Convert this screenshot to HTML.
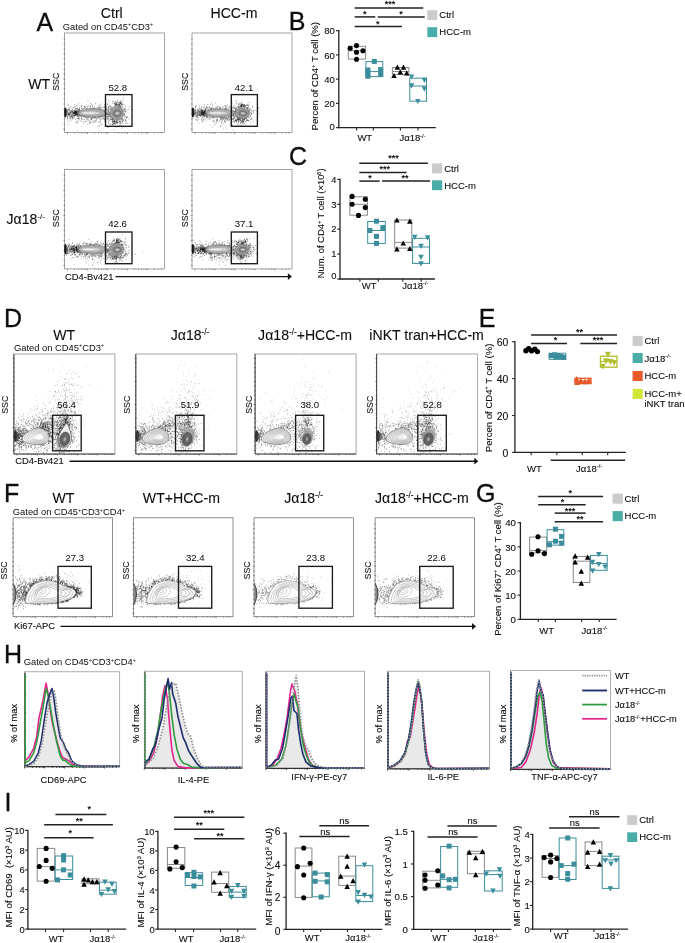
<!DOCTYPE html><html><head><meta charset="utf-8"><title>Figure</title><style>html,body{margin:0;padding:0;background:#fff}svg{display:block}text{font-family:'Liberation Sans', Arial, sans-serif;fill:#0d0d0d;stroke:#0d0d0d;stroke-width:.1px}</style></head><body>
<svg width="685" height="943" viewBox="0 0 685 943">
<rect width="685" height="943" fill="#fff"/>
<text x="36.5" y="30.65" font-size="25" text-anchor="start" style="stroke-width:.3px">A</text>
<text x="111.8" y="17.93" font-size="14.1" text-anchor="middle">Ctrl</text>
<text x="234" y="17.93" font-size="14.1" text-anchor="middle">HCC-m</text>
<text x="62.8" y="29.69" font-size="9.4" text-anchor="start" style="stroke-width:0">Gated on CD45<tspan font-size="5.45" dy="-3.38">+</tspan><tspan dy="3.38">CD3</tspan><tspan font-size="5.45" dy="-3.38">+</tspan></text>
<text x="28.2" y="89.1" font-size="14" text-anchor="start">WT</text>
<text x="6.6" y="223.9" font-size="14" text-anchor="start">Jα18<tspan font-size="8.12" dy="-5.04">-/-</tspan></text>
<rect x="64.5" y="33" width="100" height="99.5" stroke="#8e8e8e" stroke-width="0.8" fill="#fff"/>
<path d="M67.5 132.5v1.5M74.5 132.5v1M78.5 132.5v1M81.5 132.5v1M83.9 132.5v1M85.9 132.5v1M87.5 132.5v1.5M94.5 132.5v1M98.5 132.5v1M101.5 132.5v1M103.9 132.5v1M105.9 132.5v1M107.5 132.5v1.5M114.5 132.5v1M118.5 132.5v1M121.5 132.5v1M123.9 132.5v1M125.9 132.5v1M127.5 132.5v1.5M134.5 132.5v1M138.5 132.5v1M141.5 132.5v1M143.9 132.5v1M145.9 132.5v1M147.5 132.5v1.5M154.5 132.5v1M158.5 132.5v1M161.5 132.5v1M63.2 129h2M63.6 124h1.5M63.6 119h1.5M63.6 114h1.5M63.6 109h1.5M63.2 104h2M63.6 99h1.5M63.6 94h1.5M63.6 89h1.5M63.6 84h1.5M63.2 79h2M63.6 74h1.5M63.6 69h1.5M63.6 64h1.5M63.6 59h1.5M63.2 54h2M63.6 49h1.5M63.6 44h1.5M63.6 39h1.5" stroke="#555" stroke-width="0.6" fill="none"/>
<path transform="translate(64.5,33) scale(.1)" d="M247 821h7M251 792h7M159 795h7M425 818h7M415 812h7M331 810h7M63 834h7M346 821h7M60 740h7M164 786h7M320 801h7M348 780h7M320 817h7M194 865h7M352 846h7M199 776h7M235 799h7M362 812h7M222 769h7M212 847h7M175 812h7M335 749h7M286 850h7M18 791h7M266 774h7M345 801h7M90 833h7M367 837h7M467 816h7M296 756h7M360 781h7M221 757h7M154 784h7M448 730h7M90 812h7M468 824h7M33 712h7M326 776h7M134 838h7M423 809h7M312 819h7M487 825h7M347 823h7M76 849h7M404 822h7M23 780h7M389 738h7M256 840h7M110 861h7M352 798h7M322 826h7M296 844h7M194 788h7M415 804h7M166 837h7M471 787h7M101 798h7M261 792h7M463 766h7M444 757h7M178 826h7M427 834h7M325 808h7M300 824h7M257 813h7M354 803h7M379 823h7M541 815h7M224 790h7M278 836h7M236 817h7M519 711h7M134 812h7M332 812h7M224 827h7M317 784h7M596 816h7M208 799h7M251 801h7M411 761h7M271 837h7M391 857h7M59 790h7M236 825h7M422 706h7M422 751h7M369 749h7M303 846h7M261 810h7M384 808h7M268 858h7M416 792h7M637 762h7M399 793h7M297 828h7M309 826h7M81 749h7M360 768h7M147 750h7M445 830h7M471 769h7M280 762h7M380 860h7M164 859h7M408 797h7M24 854h7M267 781h7M332 818h7M475 766h7M428 857h7M469 796h7M183 840h7M295 807h7M465 794h7M39 832h7M321 781h7M279 833h7M290 851h7M272 840h7M474 861h7M193 835h7M36 764h7M25 841h7M120 803h7M255 802h7M203 811h7M513 805h7M349 839h7M254 758h7M208 842h7M66 781h7M411 832h7M281 832h7M302 761h7M77 780h7M400 783h7M163 775h7M81 799h7M127 816h7M197 733h7M374 793h7M318 786h7M381 830h7M367 815h7M453 827h7M339 728h7M397 850h7M241 786h7M532 740h7M341 890h7M159 828h7M525 799h7M353 835h7M162 800h7M318 833h7M276 796h7M148 790h7M396 807h7M169 773h7M627 844h7M363 710h7M361 820h7M499 818h7M271 822h7M27 840h7M322 778h7M452 868h7M98 779h7M318 810h7M228 768h7M556 840h7M125 755h7M501 839h7M517 832h7M167 812h7M272 822h7M185 799h7M340 817h7M363 811h7M238 831h7M286 773h7M199 803h7M266 809h7M280 809h7M263 758h7M335 841h7M337 796h7M338 768h7M34 805h7M159 830h7M139 708h7M145 860h7M230 754h7M181 822h7M345 809h7M473 828h7M277 824h7M495 838h7M413 764h7M261 829h7M241 841h7M358 836h7M252 895h7M441 795h7M292 896h7M235 834h7M407 803h7M128 810h7M327 844h7M382 804h7M391 822h7M307 805h7M248 828h7M143 780h7M281 750h7M223 731h7M191 823h7M354 801h7M250 752h7M518 822h7M422 771h7M256 737h7M381 837h7M33 801h7M362 740h7M43 765h7M198 752h7M284 812h7M362 828h7M475 845h7M109 785h7M142 764h7M269 803h7M344 746h7M119 802h7M254 792h7M272 776h7M371 816h7M269 779h7M257 705h7M152 804h7M84 810h7M299 753h7M247 792h7M340 825h7M275 772h7M261 801h7M375 814h7M186 754h7M231 776h7M135 799h7M216 807h7M348 788h7M582 791h7M423 807h7M425 717h7M182 812h7M358 887h7M322 849h7M380 837h7M346 797h7M346 764h7M434 766h7M312 879h7M251 804h7M431 804h7M175 812h7M356 829h7M180 866h7M497 804h7M315 788h7M464 778h7M368 786h7M190 829h7M453 803h7M192 832h7M274 814h7M478 844h7M212 885h7M280 831h7M196 801h7M53 867h7M458 759h7M84 745h7M433 786h7M272 792h7M264 764h7M283 751h7M271 814h7M341 795h7M163 809h7M217 859h7M380 799h7M219 778h7M158 790h7M318 822h7M354 879h7M188 803h7M643 736h7M212 809h7M300 818h7M249 816h7M287 831h7M34 771h7M280 766h7M144 826h7M196 826h7M377 814h7M346 799h7M97 802h7M339 784h7M267 830h7M166 826h7M522 783h7M299 798h7M480 814h7M397 778h7M278 803h7M49 855h7M397 740h7M377 798h7M338 816h7M85 795h7M474 782h7M147 754h7M121 815h7M500 818h7M312 883h7M212 779h7M349 823h7M148 761h7M318 812h7M110 796h7M209 820h7M265 800h7M234 841h7M461 790h7M390 776h7M289 830h7M477 789h7M270 810h7M85 804h7M192 816h7M133 732h7M285 812h7M209 835h7M244 781h7M342 747h7M192 802h7M390 797h7M320 779h7M319 863h7M191 888h7M196 804h7M303 840h7M119 727h7M359 832h7M361 898h7M307 812h7M401 816h7M496 758h7M231 679h7M386 790h7M400 881h7M279 794h7M215 773h7M198 826h7M285 805h7M257 836h7M344 798h7M366 798h7M130 855h7M340 769h7M420 815h7M77 861h7M323 835h7M306 798h7M79 838h7M284 793h7M326 806h7M368 790h7M275 726h7M225 827h7M454 790h7M264 860h7M238 829h7M498 804h7M439 777h7M307 800h7M295 844h7M591 779h7M205 821h7M143 821h7M354 793h7M349 747h7M379 747h7M189 783h7M228 834h7M291 789h7M351 860h7M281 816h7M441 813h7M113 893h7M567 732h7M275 818h7M406 827h7M245 765h7M293 840h7M138 766h7M277 733h7M246 787h7M339 778h7M165 789h7M274 779h7M282 830h7M434 864h7M178 788h7M186 802h7M348 754h7M340 802h7M43 814h7M435 736h7M385 811h7M342 819h7M450 795h7M394 788h7M375 774h7M266 865h7M338 797h7M131 775h7M305 837h7M335 822h7M275 852h7M229 783h7M395 805h7M244 782h7M247 825h7M326 759h7M335 809h7M150 831h7M244 791h7M383 851h7M190 819h7M166 886h7M216 846h7M196 832h7M568 712h7M224 821h7M268 779h7M560 806h7M66 834h7M56 844h7M205 808h7M444 807h7M99 742h7M434 830h7M174 834h7M345 826h7M397 829h7M395 715h7M302 821h7M612 769h7M237 804h7M395 787h7M429 775h7M315 784h7M301 778h7M72 842h7M319 783h7M306 839h7M153 799h7M350 822h7M236 727h7M442 815h7M282 793h7M314 788h7M147 776h7M202 781h7M129 826h7M110 827h7M148 816h7M459 810h7M185 805h7M299 741h7M201 809h7M219 806h7M375 831h7M398 824h7M243 802h7M245 792h7M257 741h7M237 802h7M153 802h7M347 797h7M550 709h7M253 737h7M407 899h7M347 792h7M352 722h7M391 816h7M283 782h7M363 786h7M309 785h7M306 830h7M166 802h7M360 808h7M442 875h7M162 734h7M391 858h7M400 832h7M200 777h7M395 770h7M44 767h7M604 872h7M191 777h7M310 776h7M450 800h7M139 850h7M204 811h7M278 792h7M322 778h7M40 724h7M115 776h7M277 805h7M352 807h7M177 777h7M343 822h7M264 797h7M402 804h7M376 824h7M308 850h7M206 790h7M175 774h7M482 866h7M283 823h7M433 832h7M437 758h7M197 819h7M467 807h7M168 790h7M194 772h7M475 780h7M283 881h7M434 815h7M200 818h7M491 825h7M444 807h7M347 796h7M335 850h7M94 801h7M311 782h7M240 831h7M540 826h7M322 747h7M531 806h7M276 763h7M273 764h7M289 820h7M284 813h7M169 854h7M195 738h7M256 776h7M149 790h7M318 760h7M262 854h7M369 798h7M297 799h7M274 829h7M268 716h7M277 771h7M365 781h7M299 881h7M144 763h7M97 717h7M36 816h7M197 736h7M87 825h7M179 790h7M323 852h7M532 840h7M299 810h7M514 854h7M240 819h7M317 805h7M215 755h7M211 747h7M439 822h7M123 853h7M396 734h7M519 832h7M548 759h7M349 818h7M306 809h7M417 749h7M119 753h7M208 781h7M328 813h7M284 779h7M223 837h7M379 807h7M238 859h7M203 826h7M430 793h7M387 763h7M412 810h7M74 827h7M164 849h7M192 797h7M317 791h7M314 783h7M367 803h7M307 704h7M431 804h7M48 806h7M341 842h7M139 859h7M259 889h7M261 827h7M232 763h7M423 836h7M480 834h7M205 743h7M195 779h7M174 824h7M323 793h7M302 798h7M308 830h7M405 778h7M84 854h7M295 843h7M66 791h7M284 751h7M213 829h7M420 860h7M168 753h7M348 837h7M305 756h7M382 832h7M352 785h7M320 831h7" stroke="#1a1a1a" stroke-opacity="0.75" stroke-width="7" fill="none"/>
<path transform="translate(64.5,33) scale(.1)" d="M227 739h7M343 866h7M302 889h7M224 835h7M260 871h7M507 826h7M567 924h7M403 872h7M530 830h7M285 782h7M361 914h7M369 863h7M274 849h7M115 898h7M247 779h7M202 795h7M411 898h7M123 891h7M415 808h7M107 799h7M218 859h7M254 728h7M330 756h7M418 774h7M210 793h7M229 911h7M411 873h7M342 755h7M232 810h7M173 868h7M204 801h7M164 727h7M377 913h7M323 786h7M458 856h7M421 921h7M446 816h7M437 883h7M100 818h7M115 834h7M375 781h7M33 911h7M349 921h7M128 898h7M570 950h7M273 855h7M280 895h7M435 845h7M123 881h7M239 875h7M334 929h7M448 815h7M345 937h7M230 864h7M455 909h7M367 767h7M136 854h7M350 980h7M188 903h7M400 748h7M194 849h7M236 832h7M361 795h7M361 805h7M229 870h7M225 856h7M508 841h7M281 880h7M252 900h7M133 874h7M233 796h7M530 793h7M528 876h7M489 786h7M456 920h7M285 833h7M619 850h7M245 805h7M358 858h7M323 935h7M257 866h7M490 785h7M435 941h7M124 780h7M165 738h7M359 738h7M365 920h7M90 823h7M51 883h7M204 825h7M307 870h7M255 841h7M229 846h7M148 843h7M49 813h7M549 844h7M136 854h7M174 749h7M204 881h7M350 835h7M180 781h7M475 853h7M176 724h7M122 976h7M151 836h7M327 831h7M264 764h7M163 933h7M202 887h7M80 825h7M334 897h7M154 873h7M350 799h7M362 791h7M197 839h7M170 760h7M245 882h7M247 910h7M149 768h7M502 862h7M423 795h7M405 854h7M384 841h7M457 804h7M175 759h7M451 799h7M164 788h7M242 770h7M262 806h7M228 787h7M305 815h7M315 854h7M344 720h7M230 796h7M401 753h7M207 824h7M256 895h7M242 893h7M109 740h7M459 864h7M363 847h7M363 773h7M423 811h7M428 845h7M43 769h7M447 832h7M249 853h7M245 810h7" stroke="#1a1a1a" stroke-opacity="0.55" stroke-width="7" fill="none"/>
<path transform="translate(64.5,33) scale(.1)" d="M527 811h7M595 806h7M613 904h7M605 862h7M529 811h7M516 762h7M519 767h7M601 833h7M501 696h7M520 780h7M470 739h7M414 835h7M519 948h7M521 795h7M592 811h7M531 782h7M493 887h7M571 899h7M506 805h7M480 857h7M456 835h7M575 882h7M477 864h7M488 761h7M459 868h7M602 770h7M486 784h7M643 859h7M496 703h7M490 869h7M612 788h7M489 774h7M432 854h7M470 863h7M441 732h7M536 760h7M560 803h7M466 838h7M563 696h7M610 831h7M559 699h7M488 783h7M574 721h7M480 689h7M511 822h7M442 770h7M547 892h7M554 786h7M466 751h7M491 811h7M520 896h7M536 743h7M597 856h7M527 763h7M433 746h7M566 758h7M459 814h7M534 837h7M554 882h7M482 858h7M475 842h7M531 817h7M569 802h7M576 852h7M529 771h7M486 773h7M513 802h7M666 839h7M559 755h7M488 785h7M532 745h7M600 771h7M574 672h7M522 819h7M532 837h7M536 812h7M432 763h7M410 838h7M537 792h7M483 770h7M611 900h7M520 875h7M446 695h7M499 754h7M496 814h7M668 766h7M525 818h7M521 855h7M608 733h7M530 788h7M540 717h7M438 673h7M548 814h7M526 670h7M505 761h7M455 752h7M556 833h7M521 832h7M494 807h7M524 834h7M519 795h7M516 767h7M630 832h7M543 931h7M590 716h7M556 850h7M613 877h7M559 737h7M481 818h7M547 746h7M504 781h7M525 822h7M509 734h7M582 892h7M517 860h7M544 840h7M546 760h7M550 860h7M479 913h7M623 905h7M618 845h7M506 769h7M483 809h7M521 841h7M426 932h7M632 801h7M555 830h7M536 791h7M517 757h7M531 802h7M538 755h7M524 806h7M552 743h7M543 858h7M551 782h7M499 790h7M558 890h7M515 767h7M541 814h7M479 762h7M518 841h7M465 746h7M546 734h7M528 823h7M517 746h7M520 784h7M539 756h7M575 709h7M514 803h7M569 769h7M549 771h7M558 900h7M503 828h7M478 857h7M581 805h7M468 826h7M578 864h7M562 700h7M490 883h7M464 866h7M613 846h7M576 784h7M464 797h7M513 800h7M556 795h7M532 827h7M522 906h7M544 808h7M513 768h7M587 811h7M471 772h7M516 778h7M575 738h7M546 811h7M466 806h7M518 831h7M501 820h7M443 742h7M560 861h7M522 769h7M574 686h7M484 841h7M554 745h7M432 884h7M530 753h7M525 853h7M398 865h7M558 686h7M560 703h7M577 825h7M631 769h7M523 862h7M492 764h7M505 799h7M471 830h7M549 807h7M604 785h7M585 772h7M559 695h7M532 793h7M499 769h7M506 763h7M417 770h7M496 774h7M472 795h7M560 789h7M499 879h7M569 855h7M578 785h7M516 865h7M496 796h7M541 824h7M509 858h7M514 844h7M574 840h7M558 738h7M460 768h7M545 887h7M464 820h7M482 762h7M509 842h7M533 869h7M475 853h7M567 807h7M545 771h7M470 780h7M492 965h7M499 895h7M532 820h7M558 759h7M566 824h7M450 837h7M549 828h7M599 780h7M547 845h7M479 870h7M453 730h7M548 742h7M517 711h7M526 740h7M539 717h7M544 788h7M526 799h7M529 729h7M399 805h7M478 778h7M543 692h7M486 769h7M472 821h7M516 757h7M475 848h7M491 836h7M544 697h7M470 803h7M539 847h7M561 861h7M505 791h7M560 779h7M573 714h7M554 793h7M428 858h7M537 804h7M471 777h7M595 757h7M356 755h7M465 796h7M504 752h7M482 862h7M453 913h7M496 742h7M560 835h7M472 845h7M434 751h7M577 789h7M460 832h7M567 802h7M436 784h7M543 846h7M611 789h7M499 801h7M580 750h7M585 649h7M561 765h7M545 842h7M466 798h7M534 836h7M478 747h7M430 945h7M513 791h7M451 855h7M497 883h7M563 804h7M557 741h7M507 771h7M462 804h7M516 883h7M362 765h7M478 777h7M543 826h7M524 776h7M546 823h7M434 788h7M457 737h7M530 806h7M528 754h7M513 752h7M541 842h7M607 874h7M484 777h7M477 820h7M618 843h7M417 733h7M460 832h7M523 820h7M608 757h7M482 913h7M539 759h7M425 718h7M405 807h7M525 859h7M516 764h7M487 909h7M438 813h7M524 838h7M503 831h7M562 795h7M501 793h7M476 791h7M508 815h7M587 876h7M501 837h7M537 846h7M524 818h7M500 759h7M564 876h7M554 827h7M535 778h7M437 840h7M532 772h7M476 875h7M436 902h7M553 936h7M488 802h7M498 812h7M512 761h7M574 759h7M498 834h7M497 779h7M540 782h7M463 797h7M512 898h7M470 857h7M485 783h7M507 818h7M564 901h7M492 877h7M570 849h7M486 853h7M517 823h7M510 840h7M576 866h7M513 859h7M592 751h7M593 728h7M549 836h7M594 819h7M499 758h7M462 846h7M511 763h7M548 760h7M502 777h7M602 885h7M515 715h7M536 807h7M539 835h7M507 855h7M563 815h7M503 776h7M556 741h7M515 761h7M456 837h7M521 805h7M564 719h7M519 819h7M562 742h7M557 815h7M588 867h7M549 923h7M522 779h7M506 750h7M521 698h7M518 827h7M570 784h7M589 767h7M516 698h7M486 759h7M593 832h7M471 832h7M545 790h7M524 786h7" stroke="#1a1a1a" stroke-opacity="0.7" stroke-width="7" fill="none"/>
<path transform="translate(64.5,33) scale(.1)" d="M509 684h7M520 729h7M559 706h7M504 707h7M545 715h7M508 715h7M517 718h7M512 688h7M524 721h7M494 708h7M545 705h7M506 740h7M544 725h7M499 734h7M481 702h7M541 729h7M499 700h7M527 682h7M539 718h7M511 718h7M542 715h7M536 732h7M510 712h7M509 725h7M512 717h7M526 711h7M566 709h7M558 722h7M556 708h7M546 721h7M507 714h7M519 709h7M555 700h7M480 685h7M511 701h7M523 718h7M567 714h7M534 699h7M537 730h7M556 682h7M545 733h7M543 688h7M515 718h7M533 698h7M500 724h7" stroke="#1a1a1a" stroke-opacity="0.8" stroke-width="7" fill="none"/>
<path transform="translate(64.5,33) scale(.1)" d="M474 911h7M513 894h7M474 881h7M532 869h7M572 870h7M477 891h7M526 901h7M502 887h7M506 882h7M438 904h7M520 892h7M494 894h7M512 889h7M544 865h7M520 875h7M503 912h7M481 889h7M495 904h7M484 866h7M527 885h7M503 906h7M487 885h7M517 896h7M498 905h7M577 884h7M566 860h7M553 885h7M516 885h7M494 872h7M501 909h7M545 885h7M497 880h7M478 916h7M532 892h7M498 875h7M550 901h7M485 904h7M481 899h7M485 884h7M527 896h7M542 878h7M558 909h7M512 897h7M490 888h7M474 891h7" stroke="#1a1a1a" stroke-opacity="0.8" stroke-width="7" fill="none"/>
<path transform="translate(64.5,33) scale(.1)" d="M120 822h7M137 813h7M107 796h7M107 804h7M71 813h7M79 792h7M116 792h7M153 798h7M151 819h7M104 807h7M145 795h7M117 791h7M116 794h7M117 816h7M147 802h7M120 814h7M108 783h7M141 785h7M136 784h7M157 783h7M135 824h7M93 824h7M96 771h7M132 811h7M110 759h7M114 795h7M106 795h7M74 791h7M156 825h7M107 788h7M124 817h7M132 781h7M119 802h7M148 820h7M127 820h7M106 825h7M105 806h7M136 785h7M99 771h7M119 799h7M107 808h7M66 800h7M117 796h7M133 829h7M105 785h7M101 802h7M129 786h7M138 783h7M134 807h7M126 835h7M109 797h7M126 814h7M84 804h7M98 810h7M147 801h7M113 803h7M47 813h7M128 803h7M106 788h7M111 820h7M113 822h7M56 792h7M121 800h7M77 789h7M144 779h7M92 782h7M102 810h7M129 767h7M149 790h7M101 827h7M113 780h7M100 788h7M92 795h7M135 806h7M83 845h7M92 802h7M116 812h7M107 807h7M164 802h7M90 805h7M97 794h7M119 805h7M108 814h7M111 779h7M135 794h7M143 789h7M128 805h7M53 776h7M89 823h7M71 815h7M140 808h7M131 792h7M115 804h7M125 812h7M110 789h7M102 807h7M77 780h7M106 791h7M109 757h7M107 796h7M133 768h7M108 808h7M126 820h7M139 783h7M130 795h7M96 825h7M100 786h7M106 786h7M138 806h7M147 807h7M101 817h7M100 792h7M111 801h7M143 790h7M123 800h7M86 782h7M110 807h7M122 808h7M116 793h7M125 784h7M84 795h7M82 792h7M98 791h7M114 787h7M105 772h7M118 786h7M124 754h7M96 804h7M59 794h7M117 802h7M80 804h7M118 784h7M132 799h7M115 793h7M128 802h7M141 807h7M101 796h7M136 794h7M124 809h7M111 762h7M118 804h7M118 788h7M143 798h7M101 788h7M123 782h7M92 833h7M145 817h7M147 810h7M76 820h7M144 808h7" stroke="#1a1a1a" stroke-opacity="0.8" stroke-width="7" fill="none"/>
<path transform="translate(64.5,33) scale(.1)" d="M8 834h7M79 787h7M53 821h7M48 830h7M52 819h7M52 760h7M29 886h7M56 836h7M74 847h7M62 784h7M50 748h7M46 825h7M68 836h7M30 782h7M10 772h7M61 856h7M26 837h7M59 787h7M97 731h7M49 806h7M96 849h7M98 804h7M71 837h7M61 810h7M46 789h7M24 853h7M40 743h7M56 799h7M54 849h7M48 793h7M34 799h7M41 806h7M117 811h7M32 853h7M68 822h7M65 822h7M64 838h7M72 837h7M39 800h7M34 826h7M68 787h7M63 872h7M76 770h7M48 817h7M49 811h7M75 809h7M26 819h7M48 803h7M38 762h7M23 790h7M27 726h7M75 768h7M34 814h7M34 818h7M40 808h7M52 800h7M11 760h7M49 838h7M38 815h7M53 813h7M71 759h7M56 795h7M43 777h7M33 772h7M26 868h7M86 800h7M66 773h7" stroke="#1a1a1a" stroke-opacity="0.6" stroke-width="7" fill="none"/>
<ellipse cx="92" cy="113" rx="15" ry="5" fill="#8f8f8f" stroke="none" stroke-width="0.5" opacity="0.6"/>
<ellipse cx="92" cy="113" rx="13.2" ry="3.6" fill="#b4b4b4" stroke="#888" stroke-width="0.35" opacity="0.9"/>
<ellipse cx="90.5" cy="113" rx="9.5" ry="1.5" fill="#dcdcdc" stroke="none" stroke-width="0.5" opacity="0.9"/>
<ellipse cx="88.5" cy="113" rx="6" ry="0.6" fill="#f2f2f2" stroke="none" stroke-width="0.5" opacity="0.9"/>
<ellipse cx="65.4" cy="112.5" rx="1.2" ry="5" fill="#111" stroke="none" stroke-width="0.5" opacity="1"/>
<ellipse cx="66.5" cy="112.5" rx="1.4" ry="3.4" fill="#333" stroke="none" stroke-width="0.5" opacity="0.5"/>
<ellipse cx="116.75" cy="113.2" rx="7.8" ry="7.4" fill="#9b9b9b" stroke="none" stroke-width="0.5" opacity="0.6"/>
<ellipse cx="116.75" cy="113.2" rx="6.5" ry="6" fill="#b3b3b3" stroke="#6e6e6e" stroke-width="0.5" opacity="1"/>
<ellipse cx="116.95" cy="113.2" rx="5.1" ry="4.5" fill="#a4a4a4" stroke="#6a6a6a" stroke-width="0.5" opacity="1"/>
<ellipse cx="117.15" cy="113.2" rx="3.8" ry="3.1" fill="#858585" stroke="#555" stroke-width="0.5" opacity="1"/>
<ellipse cx="117.35" cy="113.3" rx="2.3" ry="1.7" fill="#c8c8c8" stroke="#777" stroke-width="0.4" opacity="1"/>
<rect x="105.5" y="94.6" width="26.5" height="31.7" stroke="#1a1a1a" stroke-width="1.35" fill="none"/>
<text x="117.8" y="90.56" font-size="9.6" text-anchor="middle" style="stroke-width:.03px">52.8</text>
<text transform="translate(58.88,81.7) rotate(-90)" font-size="8.8" text-anchor="middle">SSC</text>
<rect x="192" y="33" width="100" height="99.5" stroke="#8e8e8e" stroke-width="0.8" fill="#fff"/>
<path d="M195 132.5v1.5M202 132.5v1M206 132.5v1M209 132.5v1M211.4 132.5v1M213.4 132.5v1M215 132.5v1.5M222 132.5v1M226 132.5v1M229 132.5v1M231.4 132.5v1M233.4 132.5v1M235 132.5v1.5M242 132.5v1M246 132.5v1M249 132.5v1M251.4 132.5v1M253.4 132.5v1M255 132.5v1.5M262 132.5v1M266 132.5v1M269 132.5v1M271.4 132.5v1M273.4 132.5v1M275 132.5v1.5M282 132.5v1M286 132.5v1M289 132.5v1M190.7 129h2M191.1 124h1.5M191.1 119h1.5M191.1 114h1.5M191.1 109h1.5M190.7 104h2M191.1 99h1.5M191.1 94h1.5M191.1 89h1.5M191.1 84h1.5M190.7 79h2M191.1 74h1.5M191.1 69h1.5M191.1 64h1.5M191.1 59h1.5M190.7 54h2M191.1 49h1.5M191.1 44h1.5M191.1 39h1.5" stroke="#555" stroke-width="0.6" fill="none"/>
<path transform="translate(192,33) scale(.1)" d="M298 853h7M275 768h7M249 768h7M103 795h7M229 775h7M168 770h7M310 852h7M253 881h7M75 813h7M133 797h7M293 823h7M423 784h7M123 796h7M317 778h7M393 862h7M100 816h7M409 736h7M306 795h7M100 849h7M308 786h7M336 826h7M377 823h7M332 762h7M227 808h7M232 766h7M50 812h7M284 783h7M227 772h7M185 800h7M198 827h7M262 808h7M331 848h7M356 811h7M259 775h7M237 827h7M309 789h7M111 749h7M321 839h7M327 755h7M253 811h7M164 815h7M255 774h7M123 831h7M325 772h7M152 834h7M356 792h7M482 793h7M146 841h7M256 815h7M285 768h7M130 796h7M458 768h7M452 811h7M139 812h7M352 771h7M10 815h7M140 818h7M38 798h7M178 751h7M249 809h7M210 762h7M307 742h7M348 820h7M492 834h7M325 812h7M283 757h7M465 821h7M244 763h7M468 822h7M130 827h7M520 802h7M331 788h7M201 841h7M669 807h7M264 831h7M242 828h7M385 767h7M145 800h7M385 813h7M437 755h7M342 781h7M293 814h7M158 795h7M133 812h7M173 786h7M308 780h7M425 781h7M387 813h7M150 795h7M174 790h7M246 866h7M227 858h7M336 757h7M29 828h7M410 817h7M254 794h7M313 792h7M213 790h7M427 781h7M328 763h7M190 755h7M255 827h7M318 786h7M357 791h7M327 813h7M348 717h7M116 830h7M267 881h7M250 784h7M468 822h7M519 821h7M254 828h7M181 787h7M210 795h7M378 786h7M321 786h7M391 707h7M254 809h7M144 838h7M307 848h7M401 825h7M261 765h7M252 787h7M311 787h7M664 747h7M428 787h7M250 835h7M280 761h7M332 796h7M22 810h7M147 777h7M341 813h7M244 878h7M333 782h7M310 799h7M105 875h7M257 793h7M209 837h7M284 862h7M379 860h7M265 816h7M226 797h7M63 783h7M161 780h7M433 812h7M434 833h7M395 838h7M204 831h7M240 785h7M430 878h7M157 863h7M384 774h7M314 816h7M327 791h7M119 804h7M388 830h7M363 841h7M156 802h7M323 838h7M300 821h7M297 876h7M590 811h7M51 808h7M100 779h7M308 862h7M338 826h7M408 810h7M173 800h7M322 793h7M196 791h7M92 767h7M269 790h7M285 852h7M318 802h7M133 766h7M327 773h7M334 766h7M297 800h7M405 789h7M233 812h7M287 862h7M248 784h7M240 819h7M309 827h7M107 889h7M510 802h7M129 808h7M332 726h7M282 752h7M337 851h7M409 751h7M453 834h7M235 820h7M470 792h7M278 784h7M425 728h7M458 769h7M396 747h7M163 782h7M384 747h7M355 781h7M435 792h7M341 797h7M504 791h7M277 872h7M290 827h7M188 810h7M199 751h7M103 843h7M333 750h7M507 779h7M234 812h7M138 747h7M187 844h7M399 748h7M431 804h7M343 805h7M332 768h7M166 779h7M234 824h7M128 858h7M201 783h7M368 818h7M238 766h7M155 748h7M423 841h7M514 820h7M322 829h7M399 794h7M324 878h7M68 754h7M159 829h7M429 791h7M364 801h7M318 784h7M277 803h7M422 880h7M53 821h7M279 837h7M413 830h7M381 770h7M67 861h7M431 770h7M442 826h7M156 843h7M195 777h7M87 795h7M407 780h7M47 877h7M511 827h7M213 761h7M75 822h7M443 766h7M280 793h7M248 820h7M542 781h7M386 841h7M244 798h7M112 840h7M213 780h7M288 773h7M149 793h7M466 796h7M346 752h7M36 866h7M230 750h7M267 824h7M64 772h7M313 771h7M380 836h7M335 788h7M274 781h7M264 814h7M242 837h7M605 784h7M323 832h7M361 795h7M220 838h7M358 821h7M179 825h7M380 797h7M361 879h7M44 824h7M133 756h7M250 822h7M287 762h7M99 784h7M282 774h7M91 864h7M175 798h7M211 783h7M285 793h7M358 762h7M93 871h7M271 830h7M428 822h7M285 749h7M79 837h7M365 823h7M71 729h7M147 762h7M300 767h7M479 781h7M209 833h7M321 772h7M383 870h7M125 794h7M144 735h7M359 827h7M403 818h7M26 802h7M196 762h7M140 830h7M243 872h7M339 736h7M393 847h7M284 761h7M503 757h7M269 736h7M121 743h7M418 844h7M229 756h7M272 816h7M87 762h7M267 828h7M289 819h7M122 716h7M319 771h7M264 790h7M341 776h7M463 804h7M347 825h7M412 817h7M58 781h7M516 820h7M351 819h7M199 779h7M198 844h7M326 866h7M343 870h7M338 761h7M501 815h7M432 811h7M238 809h7M137 761h7M167 784h7M107 799h7M319 875h7M515 801h7M393 795h7M330 802h7M211 806h7M91 819h7M243 765h7M234 823h7M193 820h7M353 858h7M141 799h7M345 856h7M314 830h7M92 782h7M493 793h7M557 777h7M244 746h7M361 812h7M539 809h7M248 753h7M269 837h7M375 847h7M391 801h7M358 809h7M109 864h7M328 766h7M329 813h7M408 854h7M477 769h7M41 813h7M323 815h7M137 786h7M305 830h7M562 813h7M202 719h7M418 798h7M266 768h7M375 739h7M294 807h7M319 850h7M267 806h7M390 748h7M242 805h7M403 774h7M384 817h7M88 750h7M95 808h7M307 829h7M386 783h7M418 832h7M341 820h7M114 816h7M147 760h7M235 808h7M273 791h7M151 810h7M184 753h7M292 855h7M228 765h7M459 864h7M242 795h7M307 909h7M297 839h7M337 738h7M137 759h7M336 807h7M512 793h7M320 806h7M298 886h7M317 856h7M448 781h7M369 789h7M294 809h7M283 786h7M482 793h7M371 863h7M361 840h7M460 842h7M503 752h7M534 804h7M53 780h7M99 802h7M87 767h7M318 809h7M177 795h7M267 806h7M279 795h7M394 745h7M216 808h7M228 783h7M223 811h7M442 796h7M245 816h7M249 733h7M315 789h7M206 826h7M286 783h7M282 799h7M337 811h7M218 757h7M138 798h7M131 830h7M108 739h7M255 739h7M491 767h7M273 794h7M173 739h7M38 834h7M413 881h7M90 823h7M278 833h7M213 829h7M396 825h7M468 797h7M481 778h7M497 704h7M282 774h7M280 840h7M373 806h7M501 750h7M174 857h7M323 728h7M324 760h7M472 844h7M209 850h7M172 836h7M355 798h7M95 793h7M39 847h7M154 715h7M356 816h7M214 879h7M381 805h7M196 697h7M342 838h7M203 752h7M275 743h7M281 831h7M476 813h7M306 830h7M462 792h7M120 775h7M116 771h7M264 815h7M300 806h7M234 818h7M395 830h7M475 793h7M247 864h7M306 818h7M236 838h7M228 767h7M272 787h7M388 789h7M296 795h7M324 780h7M424 752h7M230 777h7M364 804h7M343 791h7M187 763h7M237 784h7M316 816h7M407 799h7M183 765h7M288 816h7M533 810h7M508 870h7M144 847h7M428 851h7M279 837h7M217 800h7M282 867h7M252 837h7M289 777h7M312 827h7M187 826h7M187 771h7M309 795h7M152 744h7M283 812h7M220 810h7M81 817h7M334 813h7M200 806h7M297 841h7M316 812h7M186 834h7M432 785h7M363 814h7M274 757h7M508 736h7M319 789h7M429 788h7M285 825h7M339 784h7M368 817h7M408 785h7M274 789h7M171 812h7M333 854h7M238 817h7M428 799h7M288 808h7M190 768h7M425 809h7M270 758h7M295 845h7M131 771h7M424 854h7M481 783h7M358 776h7M347 790h7M305 851h7M324 794h7M287 813h7M214 810h7M358 859h7M13 760h7M120 834h7M596 810h7M296 844h7M214 786h7M324 782h7M424 803h7M329 894h7M222 836h7M173 848h7M405 808h7M408 861h7M458 803h7M273 843h7M90 781h7M343 823h7M520 866h7M322 819h7M110 796h7M314 795h7M288 825h7M157 783h7M51 844h7M144 742h7M379 795h7M404 790h7M553 828h7M299 807h7M254 832h7M537 788h7M140 824h7M417 750h7M191 768h7M352 821h7M186 763h7M368 730h7M363 797h7M526 838h7M206 793h7M244 777h7M290 837h7M87 795h7M471 829h7M176 774h7M170 746h7M427 805h7M191 752h7M231 785h7M500 787h7M295 841h7M365 797h7M357 788h7M269 769h7M165 750h7M344 821h7M302 831h7M349 807h7M167 824h7M432 825h7M439 786h7M155 847h7M205 812h7M256 804h7M245 784h7M52 870h7M306 735h7M164 763h7M185 713h7M353 861h7M249 829h7M357 759h7M435 743h7M207 790h7" stroke="#1a1a1a" stroke-opacity="0.75" stroke-width="7" fill="none"/>
<path transform="translate(192,33) scale(.1)" d="M460 846h7M284 797h7M311 842h7M393 915h7M394 841h7M281 926h7M326 839h7M529 924h7M372 834h7M219 897h7M242 892h7M200 846h7M351 848h7M330 861h7M157 780h7M281 937h7M284 790h7M216 842h7M450 810h7M371 850h7M255 789h7M281 801h7M368 745h7M443 881h7M374 920h7M377 748h7M307 864h7M213 779h7M355 867h7M246 827h7M236 810h7M293 898h7M96 822h7M505 857h7M320 885h7M173 775h7M90 762h7M332 886h7M247 804h7M351 873h7M333 738h7M231 704h7M331 794h7M217 921h7M467 866h7M335 849h7M226 837h7M542 793h7M216 849h7M413 885h7M178 833h7M266 774h7M310 814h7M416 863h7M201 844h7M255 806h7M238 897h7M248 748h7M202 883h7M572 784h7M255 822h7M122 861h7M294 855h7M583 826h7M400 885h7M220 808h7M497 878h7M318 782h7M412 868h7M578 919h7M402 854h7M308 811h7M339 853h7M382 898h7M339 811h7M402 923h7M195 862h7M369 869h7M364 835h7M287 930h7M519 765h7M215 812h7M99 859h7M293 811h7M414 970h7M486 903h7M248 875h7M295 902h7M374 838h7M370 802h7M400 920h7M254 870h7M90 890h7M411 785h7M520 846h7M82 767h7M410 825h7M439 757h7M288 892h7M214 876h7M255 858h7M341 959h7M144 882h7M466 780h7M310 963h7M433 682h7M270 749h7M338 801h7M229 795h7M337 815h7M186 828h7M351 794h7M440 751h7M352 819h7M499 806h7M216 768h7M551 873h7M163 822h7M179 921h7M353 731h7M327 889h7M300 865h7M286 851h7M327 802h7M344 849h7M295 803h7M172 853h7M404 711h7M232 912h7M416 802h7M471 787h7M200 944h7M245 828h7M92 786h7M151 833h7M68 897h7M255 808h7M220 880h7M494 818h7M504 926h7M470 856h7M112 876h7M248 850h7M62 825h7M330 790h7M337 930h7M329 803h7M602 725h7M184 862h7" stroke="#1a1a1a" stroke-opacity="0.55" stroke-width="7" fill="none"/>
<path transform="translate(192,33) scale(.1)" d="M476 706h7M516 838h7M466 865h7M527 854h7M432 803h7M578 889h7M565 803h7M512 776h7M555 773h7M509 715h7M433 879h7M506 812h7M401 802h7M600 739h7M392 796h7M479 794h7M445 745h7M446 830h7M501 838h7M453 828h7M483 807h7M547 804h7M487 732h7M506 836h7M474 800h7M421 746h7M522 858h7M489 732h7M486 736h7M491 886h7M518 796h7M552 787h7M519 812h7M524 740h7M537 841h7M396 687h7M461 867h7M504 832h7M530 841h7M473 778h7M521 829h7M531 818h7M481 850h7M526 849h7M384 846h7M388 812h7M472 808h7M481 790h7M513 818h7M466 694h7M467 826h7M464 821h7M486 762h7M559 874h7M499 801h7M549 746h7M462 852h7M546 782h7M467 818h7M437 781h7M493 697h7M532 836h7M554 741h7M443 768h7M442 892h7M457 789h7M513 823h7M572 756h7M545 809h7M448 810h7M437 873h7M469 847h7M565 776h7M461 809h7M454 842h7M512 770h7M471 834h7M434 876h7M466 794h7M459 873h7M543 859h7M535 807h7M584 832h7M524 828h7M539 815h7M496 734h7M602 746h7M401 772h7M596 856h7M475 815h7M502 717h7M488 816h7M560 751h7M396 734h7M519 807h7M511 809h7M486 744h7M525 820h7M531 857h7M444 701h7M418 896h7M460 820h7M503 835h7M657 780h7M495 777h7M515 826h7M457 861h7M559 822h7M498 793h7M425 832h7M457 781h7M551 763h7M478 840h7M593 773h7M556 774h7M522 824h7M449 848h7M590 805h7M516 752h7M589 806h7M442 836h7M433 773h7M401 863h7M610 775h7M472 778h7M476 827h7M574 759h7M525 724h7M577 799h7M470 870h7M498 863h7M555 875h7M465 805h7M521 795h7M577 772h7M552 863h7M410 761h7M460 779h7M522 795h7M507 783h7M500 824h7M539 769h7M498 770h7M495 740h7M549 832h7M498 773h7M482 774h7M429 874h7M661 749h7M447 828h7M533 734h7M411 827h7M408 865h7M480 807h7M503 779h7M497 790h7M563 799h7M502 780h7M473 771h7M504 883h7M557 813h7M584 847h7M513 796h7M451 814h7M488 734h7M442 888h7M514 825h7M513 783h7M526 850h7M489 825h7M553 782h7M512 771h7M532 787h7M559 770h7M585 789h7M463 764h7M535 766h7M590 859h7M528 741h7M502 771h7M417 822h7M609 780h7M542 859h7M457 788h7M516 824h7M449 812h7M498 845h7M427 778h7M479 789h7M538 776h7M635 772h7M544 848h7M550 794h7M464 792h7M535 808h7M531 828h7M461 762h7M573 782h7M427 884h7M463 762h7M550 754h7M462 849h7M464 913h7M508 920h7M510 805h7M473 793h7M479 802h7M541 747h7M459 712h7M576 800h7M503 800h7M552 817h7M544 796h7M498 801h7M414 851h7M428 760h7M536 805h7M543 878h7M593 863h7M493 892h7M461 799h7M551 794h7M498 788h7M569 695h7M565 849h7M500 828h7M457 851h7M650 763h7M571 801h7M487 782h7M494 748h7M438 876h7M503 827h7M518 824h7M430 762h7M534 847h7M449 778h7M452 832h7M520 804h7M472 818h7M505 771h7M519 774h7M549 830h7M470 829h7M507 772h7M460 730h7M449 818h7M561 776h7M511 818h7M541 822h7M562 836h7M467 820h7M391 795h7M504 828h7M489 839h7M567 766h7M477 814h7M527 809h7M543 751h7M541 854h7M557 822h7M492 820h7M500 734h7M474 801h7M479 762h7M492 787h7M507 801h7M512 846h7M510 821h7M445 674h7M484 833h7M487 776h7M444 842h7M478 814h7M558 826h7M611 797h7M549 833h7M472 805h7M476 758h7M518 769h7M584 771h7M477 807h7M479 805h7M474 741h7M388 747h7M577 822h7M511 783h7M497 816h7M437 768h7M461 858h7M453 854h7M481 922h7M500 804h7M568 841h7M549 756h7M558 876h7M499 782h7M451 847h7M518 803h7M444 874h7M546 802h7M574 761h7M546 759h7M571 791h7M562 785h7M523 853h7M460 807h7M463 840h7M475 787h7M494 854h7M454 802h7M488 779h7M466 796h7M513 735h7M515 751h7M504 903h7M457 800h7M491 846h7M481 725h7M426 811h7M516 850h7M478 832h7M452 860h7M500 773h7M512 879h7M463 749h7M455 753h7M501 818h7M496 812h7M560 790h7M443 703h7M515 773h7M492 821h7M526 735h7M458 806h7M497 853h7M479 713h7M560 732h7M457 820h7M453 912h7M515 826h7M483 900h7M529 772h7M564 729h7M475 816h7M510 761h7M579 867h7M459 819h7M473 784h7M551 809h7M498 807h7M447 856h7M467 860h7M482 783h7M575 811h7M473 780h7M533 885h7M533 786h7M450 774h7M498 814h7M472 859h7M458 772h7M527 824h7M485 845h7M436 874h7M608 888h7M509 889h7M506 861h7M494 811h7M529 727h7M494 878h7M363 820h7M548 817h7M513 864h7M520 720h7M458 790h7M510 783h7M498 876h7M363 853h7M548 829h7M504 806h7M521 814h7M469 837h7M464 801h7M486 753h7M533 800h7M448 800h7M437 866h7M528 890h7M476 834h7M457 766h7M499 821h7M548 791h7M556 845h7M462 795h7M460 877h7M477 842h7M547 792h7M480 818h7M466 748h7" stroke="#1a1a1a" stroke-opacity="0.7" stroke-width="7" fill="none"/>
<path transform="translate(192,33) scale(.1)" d="M478 735h7M508 756h7M456 737h7M474 747h7M522 732h7M542 724h7M490 714h7M487 732h7M521 749h7M497 719h7M495 723h7M491 724h7M481 729h7M490 727h7M468 732h7M518 739h7M489 713h7M470 712h7M487 725h7M458 740h7M464 720h7M485 742h7M551 725h7M496 724h7M498 727h7M567 714h7M501 718h7M513 722h7M518 714h7M558 733h7M458 740h7M491 713h7M515 722h7M523 722h7M527 732h7M513 732h7M494 724h7M515 740h7M493 763h7M547 713h7M531 729h7M509 718h7M546 718h7M501 719h7M553 748h7" stroke="#1a1a1a" stroke-opacity="0.8" stroke-width="7" fill="none"/>
<path transform="translate(192,33) scale(.1)" d="M454 864h7M504 864h7M483 854h7M501 854h7M518 906h7M484 895h7M505 860h7M483 856h7M497 881h7M521 866h7M458 869h7M543 874h7M492 840h7M481 878h7M466 890h7M477 857h7M476 869h7M523 862h7M441 869h7M509 893h7M460 892h7M513 877h7M471 857h7M465 884h7M500 886h7M547 871h7M492 898h7M455 864h7M483 865h7M498 858h7M528 850h7M469 845h7M452 879h7M512 867h7M518 879h7M476 870h7M504 900h7M481 876h7M510 888h7M506 886h7M462 866h7M436 870h7M562 874h7M496 874h7M498 851h7" stroke="#1a1a1a" stroke-opacity="0.8" stroke-width="7" fill="none"/>
<path transform="translate(192,33) scale(.1)" d="M99 797h7M119 786h7M113 788h7M84 789h7M96 814h7M147 810h7M110 791h7M78 791h7M152 819h7M120 796h7M115 807h7M115 807h7M97 801h7M107 818h7M86 822h7M113 792h7M116 802h7M110 807h7M101 772h7M131 800h7M154 807h7M68 821h7M99 809h7M167 818h7M89 799h7M77 811h7M128 783h7M126 816h7M134 789h7M99 782h7M85 805h7M116 822h7M121 795h7M81 826h7M119 800h7M91 783h7M130 784h7M129 811h7M106 773h7M125 823h7M96 779h7M141 803h7M100 820h7M108 808h7M106 788h7M120 786h7M73 791h7M144 818h7M166 817h7M153 804h7M105 808h7M93 812h7M104 804h7M95 798h7M138 797h7M99 805h7M136 797h7M87 774h7M83 818h7M113 808h7M140 805h7M126 792h7M77 811h7M113 810h7M90 798h7M162 786h7M117 822h7M110 802h7M65 813h7M105 821h7M113 794h7M125 796h7M103 826h7M138 802h7M134 814h7M129 801h7M117 807h7M128 806h7M102 799h7M126 784h7M115 813h7M119 796h7M114 792h7M138 794h7M76 780h7M122 804h7M104 779h7M111 787h7M100 800h7M97 805h7M98 793h7M110 824h7M152 816h7M98 800h7M136 813h7M77 799h7M98 812h7M130 792h7M165 796h7M172 797h7M113 831h7M103 793h7M150 800h7M126 780h7M157 816h7M123 812h7M103 793h7M78 806h7M144 814h7M137 812h7M93 779h7M130 803h7M138 796h7M94 807h7M102 774h7M101 786h7M89 791h7M137 838h7M156 794h7M142 799h7M124 789h7M113 773h7M157 788h7M129 791h7M121 781h7M106 815h7M129 769h7M135 779h7M122 809h7M100 795h7M109 807h7M136 822h7M123 833h7M93 829h7M109 813h7M112 802h7M93 807h7M163 803h7M115 800h7M132 797h7M115 804h7M146 816h7M90 790h7M115 814h7M138 797h7M165 798h7M148 823h7M152 804h7M129 776h7M73 790h7" stroke="#1a1a1a" stroke-opacity="0.8" stroke-width="7" fill="none"/>
<path transform="translate(192,33) scale(.1)" d="M65 829h7M48 828h7M62 841h7M16 778h7M29 773h7M86 776h7M32 790h7M69 788h7M66 815h7M36 738h7M30 767h7M85 781h7M27 810h7M51 776h7M74 825h7M56 780h7M31 746h7M58 811h7M30 801h7M121 770h7M13 817h7M41 787h7M63 797h7M71 814h7M75 804h7M13 828h7M55 763h7M51 824h7M28 802h7M34 774h7M37 834h7M65 800h7M48 804h7M56 805h7M13 825h7M32 731h7M65 768h7M47 798h7M37 815h7M44 793h7M29 793h7M28 801h7M79 827h7M59 764h7M72 825h7M95 740h7M50 791h7M74 771h7M42 862h7M71 747h7M50 837h7M37 816h7M52 761h7M36 831h7M76 784h7M74 781h7M55 800h7M23 809h7M42 727h7M32 778h7M32 774h7M35 735h7M69 802h7M56 793h7M51 793h7M26 760h7M52 827h7M55 843h7M20 793h7" stroke="#1a1a1a" stroke-opacity="0.6" stroke-width="7" fill="none"/>
<ellipse cx="219.5" cy="113" rx="15" ry="5" fill="#8f8f8f" stroke="none" stroke-width="0.5" opacity="0.6"/>
<ellipse cx="219.5" cy="113" rx="13.2" ry="3.6" fill="#b4b4b4" stroke="#888" stroke-width="0.35" opacity="0.9"/>
<ellipse cx="218" cy="113" rx="9.5" ry="1.5" fill="#dcdcdc" stroke="none" stroke-width="0.5" opacity="0.9"/>
<ellipse cx="216" cy="113" rx="6" ry="0.6" fill="#f2f2f2" stroke="none" stroke-width="0.5" opacity="0.9"/>
<ellipse cx="192.9" cy="112.5" rx="1.2" ry="5" fill="#111" stroke="none" stroke-width="0.5" opacity="1"/>
<ellipse cx="194" cy="112.5" rx="1.4" ry="3.4" fill="#333" stroke="none" stroke-width="0.5" opacity="0.5"/>
<ellipse cx="242.35" cy="113.2" rx="7.8" ry="5.77" fill="#9b9b9b" stroke="none" stroke-width="0.5" opacity="0.6"/>
<ellipse cx="242.35" cy="113.2" rx="6.5" ry="4.68" fill="#b3b3b3" stroke="#6e6e6e" stroke-width="0.5" opacity="1"/>
<ellipse cx="242.55" cy="113.2" rx="5.1" ry="3.51" fill="#a4a4a4" stroke="#6a6a6a" stroke-width="0.5" opacity="1"/>
<ellipse cx="242.75" cy="113.2" rx="3.8" ry="2.42" fill="#858585" stroke="#555" stroke-width="0.5" opacity="1"/>
<ellipse cx="242.95" cy="113.3" rx="2.3" ry="1.33" fill="#c8c8c8" stroke="#777" stroke-width="0.4" opacity="1"/>
<rect x="231.3" y="94.6" width="26.1" height="31.7" stroke="#1a1a1a" stroke-width="1.35" fill="none"/>
<text x="244.1" y="90.56" font-size="9.6" text-anchor="middle" style="stroke-width:.03px">42.1</text>
<text transform="translate(187.68,81.7) rotate(-90)" font-size="8.8" text-anchor="middle">SSC</text>
<rect x="64.5" y="169.4" width="100" height="99.5" stroke="#8e8e8e" stroke-width="0.8" fill="#fff"/>
<path d="M67.5 268.9v1.5M74.5 268.9v1M78.5 268.9v1M81.5 268.9v1M83.9 268.9v1M85.9 268.9v1M87.5 268.9v1.5M94.5 268.9v1M98.5 268.9v1M101.5 268.9v1M103.9 268.9v1M105.9 268.9v1M107.5 268.9v1.5M114.5 268.9v1M118.5 268.9v1M121.5 268.9v1M123.9 268.9v1M125.9 268.9v1M127.5 268.9v1.5M134.5 268.9v1M138.5 268.9v1M141.5 268.9v1M143.9 268.9v1M145.9 268.9v1M147.5 268.9v1.5M154.5 268.9v1M158.5 268.9v1M161.5 268.9v1M63.2 265.4h2M63.6 260.4h1.5M63.6 255.4h1.5M63.6 250.4h1.5M63.6 245.4h1.5M63.2 240.4h2M63.6 235.4h1.5M63.6 230.4h1.5M63.6 225.4h1.5M63.6 220.4h1.5M63.2 215.4h2M63.6 210.4h1.5M63.6 205.4h1.5M63.6 200.4h1.5M63.6 195.4h1.5M63.2 190.4h2M63.6 185.4h1.5M63.6 180.4h1.5M63.6 175.4h1.5" stroke="#555" stroke-width="0.6" fill="none"/>
<path transform="translate(64.5,169.4) scale(.1)" d="M201 846h7M497 785h7M374 795h7M152 799h7M147 856h7M355 844h7M326 720h7M383 806h7M409 862h7M149 830h7M323 797h7M244 821h7M354 826h7M228 758h7M449 848h7M208 802h7M383 743h7M344 886h7M315 779h7M541 803h7M307 789h7M303 741h7M116 752h7M395 800h7M427 733h7M203 853h7M179 739h7M185 791h7M278 848h7M450 857h7M354 786h7M217 752h7M443 846h7M291 772h7M366 820h7M300 763h7M311 784h7M374 824h7M336 788h7M475 830h7M442 832h7M365 817h7M143 740h7M160 824h7M396 809h7M291 866h7M229 742h7M82 792h7M369 828h7M252 831h7M274 778h7M232 829h7M402 764h7M154 807h7M551 763h7M120 817h7M345 782h7M277 820h7M58 802h7M357 835h7M429 801h7M96 849h7M378 781h7M412 839h7M262 722h7M220 777h7M173 800h7M142 816h7M521 762h7M413 785h7M349 799h7M444 779h7M373 776h7M309 803h7M419 749h7M108 851h7M329 862h7M149 810h7M357 864h7M273 788h7M371 799h7M185 829h7M38 768h7M453 786h7M239 816h7M423 821h7M157 783h7M414 799h7M200 833h7M425 878h7M143 779h7M192 815h7M219 841h7M198 794h7M352 810h7M151 855h7M353 786h7M307 765h7M124 793h7M326 807h7M182 755h7M67 858h7M327 775h7M431 822h7M228 782h7M425 814h7M488 816h7M206 782h7M191 812h7M312 824h7M337 767h7M254 771h7M341 758h7M206 773h7M202 794h7M472 794h7M98 793h7M375 822h7M310 872h7M421 806h7M434 757h7M259 773h7M303 859h7M217 858h7M151 852h7M66 774h7M406 800h7M298 803h7M303 797h7M156 793h7M294 772h7M339 864h7M73 784h7M245 804h7M292 778h7M276 803h7M269 856h7M296 752h7M82 823h7M237 782h7M109 792h7M269 779h7M236 834h7M379 822h7M258 756h7M378 855h7M441 843h7M315 816h7M278 846h7M246 877h7M378 792h7M280 747h7M188 793h7M589 775h7M396 806h7M243 825h7M28 836h7M524 813h7M272 809h7M364 786h7M295 820h7M236 816h7M322 828h7M155 785h7M226 844h7M312 746h7M119 870h7M323 758h7M165 808h7M460 859h7M234 793h7M522 769h7M477 815h7M292 847h7M341 774h7M88 804h7M345 850h7M358 855h7M381 810h7M335 817h7M201 799h7M296 787h7M95 753h7M344 821h7M294 763h7M387 789h7M18 857h7M92 881h7M347 788h7M467 850h7M313 744h7M232 793h7M338 799h7M324 747h7M199 853h7M97 835h7M571 826h7M105 846h7M46 815h7M228 846h7M429 810h7M506 837h7M220 769h7M591 789h7M332 799h7M220 747h7M262 799h7M404 785h7M83 766h7M275 812h7M372 790h7M348 808h7M493 801h7M298 823h7M434 771h7M220 793h7M11 848h7M415 804h7M705 847h7M535 857h7M394 754h7M473 818h7M129 805h7M375 837h7M302 785h7M377 777h7M270 829h7M98 816h7M33 771h7M125 800h7M370 801h7M395 806h7M254 820h7M250 808h7M411 783h7M426 765h7M252 743h7M213 858h7M325 847h7M94 768h7M339 832h7M386 745h7M345 801h7M295 820h7M245 744h7M145 753h7M114 798h7M445 778h7M183 763h7M62 805h7M219 795h7M159 820h7M128 822h7M196 830h7M168 818h7M336 800h7M487 809h7M168 827h7M176 784h7M282 809h7M496 742h7M247 842h7M260 814h7M473 760h7M286 831h7M206 742h7M154 810h7M304 867h7M448 749h7M411 835h7M485 798h7M210 808h7M476 825h7M495 830h7M206 768h7M515 750h7M236 792h7M165 783h7M281 886h7M272 785h7M296 836h7M177 789h7M59 827h7M366 855h7M128 879h7M391 793h7M230 792h7M126 830h7M203 778h7M345 807h7M206 795h7M218 850h7M407 778h7M275 851h7M244 865h7M336 826h7M17 833h7M323 823h7M341 821h7M216 834h7M288 766h7M151 809h7M323 726h7M18 840h7M279 902h7M86 794h7M204 822h7M459 859h7M152 846h7M126 814h7M302 825h7M179 850h7M271 802h7M246 766h7M372 815h7M338 868h7M170 793h7M281 833h7M257 836h7M338 742h7M193 732h7M244 788h7M355 809h7M272 847h7M355 760h7M192 814h7M496 796h7M258 812h7M379 800h7M317 788h7M210 775h7M364 784h7M350 817h7M404 709h7M157 760h7M259 831h7M602 857h7M452 816h7M231 822h7M281 825h7M149 765h7M198 801h7M324 791h7M324 827h7M133 799h7M82 784h7M395 778h7M517 821h7M393 807h7M390 841h7M294 784h7M210 871h7M257 787h7M190 744h7M217 814h7M218 776h7M332 819h7M225 814h7M156 833h7M155 791h7M297 788h7M135 876h7M473 742h7M295 759h7M320 757h7M354 822h7M497 845h7M222 836h7M222 799h7M216 741h7M357 732h7M250 821h7M295 748h7M198 827h7M420 859h7M50 819h7M219 830h7M66 798h7M370 780h7M234 769h7M422 756h7M164 791h7M240 877h7M315 774h7M354 815h7M316 801h7M339 762h7M127 788h7M140 828h7M527 846h7M337 815h7M193 757h7M350 751h7M318 798h7M375 805h7M294 783h7M61 791h7M368 840h7M455 768h7M161 828h7M222 893h7M320 750h7M210 858h7M48 808h7M104 859h7M223 767h7M63 778h7M557 806h7M246 762h7M323 786h7M172 852h7M336 772h7M468 801h7M344 808h7M430 825h7M236 828h7M230 808h7M489 766h7M149 789h7M217 849h7M78 883h7M481 787h7M304 790h7M365 826h7M376 830h7M526 797h7M369 796h7M285 811h7M273 815h7M172 798h7M203 762h7M190 786h7M261 748h7M247 763h7M176 810h7M421 813h7M218 788h7M450 746h7M425 750h7M199 805h7M252 861h7M343 801h7M401 804h7M178 842h7M471 848h7M131 870h7M227 830h7M432 887h7M74 767h7M430 820h7M240 700h7M336 796h7M279 811h7M376 794h7M166 790h7M12 764h7M531 779h7M270 870h7M414 807h7M374 794h7M165 838h7M297 859h7M247 790h7M324 796h7M240 772h7M312 814h7M513 802h7M56 819h7M572 787h7M178 797h7M256 750h7M353 772h7M44 778h7M361 871h7M439 810h7M215 794h7M403 785h7M333 837h7M164 782h7M337 803h7M264 784h7M272 868h7M453 746h7M286 806h7M285 754h7M263 808h7M193 814h7M293 817h7M259 787h7M304 841h7M395 800h7M221 840h7M349 834h7M245 773h7M304 781h7M427 833h7M450 840h7M220 773h7M404 839h7M288 762h7M85 812h7M175 779h7M337 840h7M17 779h7M446 802h7M236 826h7M135 760h7M283 858h7M410 803h7M409 789h7M130 744h7M315 835h7M328 802h7M229 841h7M274 752h7M455 780h7M330 803h7M415 812h7M437 810h7M221 785h7M363 774h7M398 795h7M162 772h7M262 865h7M378 804h7M164 870h7M245 803h7M226 850h7M303 787h7M304 768h7M146 797h7M534 764h7M262 747h7M302 810h7M375 756h7M203 780h7M249 884h7M255 802h7M215 831h7M607 844h7M476 765h7M415 804h7M440 840h7M364 744h7M297 785h7M337 804h7M414 746h7M185 800h7M321 789h7M276 805h7M414 799h7M311 739h7M326 722h7M332 800h7M280 777h7M226 832h7M326 802h7M218 810h7M432 802h7M233 761h7M293 771h7M96 834h7M200 731h7M188 868h7M266 756h7M139 828h7M332 811h7M255 820h7M477 820h7M259 754h7M337 858h7M363 759h7M304 849h7M199 821h7M435 861h7M76 741h7M328 828h7M235 802h7M228 845h7M116 779h7M84 771h7M277 804h7M509 795h7M324 816h7M313 855h7M298 808h7M266 803h7M273 838h7M283 805h7M274 830h7M220 836h7M207 828h7M526 811h7M269 761h7M375 803h7M397 780h7M347 867h7M332 791h7M113 803h7M364 824h7M137 767h7M155 767h7M245 812h7M527 810h7M466 744h7M478 831h7M337 832h7M359 871h7M383 741h7M56 860h7M269 850h7M236 780h7M236 814h7M304 781h7M349 825h7M162 763h7M28 792h7M281 778h7M203 798h7M284 823h7M387 819h7M424 769h7M358 816h7M146 779h7M337 806h7M119 783h7M476 833h7M291 851h7M164 797h7M403 791h7M136 824h7M486 713h7M300 759h7M242 753h7M614 779h7M286 778h7" stroke="#1a1a1a" stroke-opacity="0.75" stroke-width="7" fill="none"/>
<path transform="translate(64.5,169.4) scale(.1)" d="M173 815h7M327 935h7M337 925h7M163 844h7M244 755h7M779 827h7M331 799h7M226 784h7M432 818h7M281 850h7M143 853h7M278 864h7M251 842h7M367 893h7M211 893h7M173 830h7M317 848h7M276 890h7M210 922h7M68 844h7M369 841h7M334 891h7M197 872h7M437 827h7M190 782h7M355 796h7M619 871h7M132 824h7M496 877h7M169 896h7M239 960h7M229 872h7M373 816h7M280 903h7M364 837h7M357 935h7M420 866h7M342 755h7M317 814h7M394 807h7M358 783h7M415 800h7M296 871h7M258 840h7M436 936h7M68 791h7M387 891h7M239 845h7M275 964h7M274 775h7M101 771h7M467 819h7M550 875h7M349 875h7M402 890h7M175 810h7M230 846h7M268 773h7M211 937h7M573 794h7M349 838h7M191 879h7M291 931h7M359 823h7M409 801h7M414 877h7M73 829h7M341 881h7M320 839h7M255 824h7M300 782h7M382 822h7M367 812h7M353 847h7M414 865h7M420 831h7M293 826h7M139 833h7M440 882h7M191 856h7M396 766h7M345 858h7M396 854h7M77 731h7M555 819h7M464 909h7M311 778h7M476 838h7M367 866h7M422 895h7M117 764h7M318 840h7M400 833h7M277 950h7M476 903h7M433 797h7M289 836h7M159 793h7M321 774h7M370 866h7M270 822h7M377 866h7M347 774h7M92 951h7M216 820h7M66 797h7M206 883h7M247 813h7M200 816h7M97 854h7M453 848h7M231 908h7M363 784h7M226 807h7M294 906h7M209 832h7M314 776h7M239 873h7M445 739h7M391 824h7M466 874h7M553 857h7M249 795h7M116 870h7M366 884h7M345 759h7M248 827h7M321 881h7M482 855h7M35 785h7M26 799h7M146 853h7M272 900h7M439 815h7M421 841h7M359 913h7M153 836h7M498 799h7M328 847h7M247 769h7M212 787h7M439 853h7M390 776h7M364 848h7M435 801h7M404 914h7" stroke="#1a1a1a" stroke-opacity="0.55" stroke-width="7" fill="none"/>
<path transform="translate(64.5,169.4) scale(.1)" d="M608 757h7M469 731h7M568 832h7M539 760h7M582 882h7M521 797h7M579 828h7M586 783h7M539 786h7M496 788h7M509 828h7M508 806h7M484 742h7M590 754h7M609 849h7M414 771h7M503 804h7M514 773h7M582 797h7M568 769h7M490 869h7M509 749h7M514 855h7M515 768h7M553 852h7M513 787h7M505 936h7M514 889h7M516 823h7M426 812h7M525 787h7M503 736h7M452 811h7M492 799h7M514 778h7M488 895h7M470 778h7M509 746h7M477 846h7M567 810h7M676 844h7M581 763h7M574 886h7M505 892h7M484 747h7M520 763h7M553 749h7M527 707h7M521 855h7M510 818h7M574 749h7M462 807h7M536 790h7M477 863h7M468 790h7M521 839h7M501 763h7M618 761h7M560 795h7M500 801h7M511 818h7M402 802h7M526 755h7M504 918h7M610 835h7M534 788h7M588 781h7M484 837h7M477 764h7M591 724h7M520 809h7M535 731h7M512 787h7M614 852h7M487 846h7M554 797h7M511 790h7M450 772h7M567 874h7M611 785h7M552 685h7M510 741h7M562 721h7M473 749h7M541 844h7M479 892h7M530 762h7M539 802h7M562 820h7M626 861h7M492 842h7M559 754h7M487 763h7M406 834h7M512 864h7M496 807h7M557 851h7M538 752h7M627 846h7M587 883h7M589 823h7M545 834h7M452 843h7M477 824h7M475 838h7M500 925h7M532 828h7M480 789h7M520 789h7M502 760h7M559 784h7M484 821h7M484 794h7M499 758h7M512 763h7M464 820h7M509 731h7M504 812h7M543 821h7M535 832h7M499 764h7M552 783h7M523 835h7M567 863h7M490 785h7M549 733h7M463 833h7M494 758h7M561 829h7M566 787h7M509 786h7M537 703h7M490 838h7M486 800h7M529 829h7M500 748h7M641 768h7M604 717h7M528 793h7M612 903h7M569 753h7M485 766h7M499 816h7M486 791h7M592 874h7M435 756h7M505 867h7M507 897h7M540 873h7M482 788h7M571 831h7M435 790h7M531 834h7M493 888h7M530 874h7M542 807h7M508 746h7M564 840h7M567 785h7M476 785h7M508 802h7M569 758h7M500 837h7M566 911h7M548 762h7M474 764h7M526 815h7M520 773h7M514 799h7M551 807h7M485 746h7M593 799h7M515 802h7M576 788h7M531 792h7M550 754h7M533 853h7M579 833h7M537 880h7M556 871h7M467 749h7M561 790h7M503 757h7M593 745h7M528 735h7M515 913h7M638 779h7M476 883h7M483 716h7M539 750h7M455 858h7M489 751h7M531 794h7M576 808h7M598 859h7M607 858h7M527 830h7M524 727h7M468 839h7M412 763h7M463 800h7M474 815h7M514 780h7M483 695h7M527 740h7M509 821h7M572 837h7M593 734h7M555 880h7M542 749h7M542 778h7M493 855h7M515 749h7M491 899h7M484 836h7M532 860h7M510 757h7M493 753h7M645 813h7M508 865h7M554 794h7M552 816h7M576 884h7M509 801h7M515 863h7M541 841h7M565 772h7M529 871h7M567 843h7M510 786h7M483 790h7M520 733h7M578 766h7M535 832h7M497 715h7M569 823h7M511 858h7M565 757h7M520 717h7M511 872h7M484 843h7M453 789h7M567 887h7M545 840h7M604 684h7M443 895h7M639 832h7M526 816h7M525 773h7M523 797h7M555 836h7M569 832h7M478 871h7M398 809h7M539 777h7M611 750h7M469 779h7M543 842h7M528 836h7M490 774h7M529 738h7M532 784h7M555 754h7M499 776h7M506 754h7M511 737h7M548 836h7M523 794h7M482 756h7M513 759h7M468 811h7M522 783h7M485 800h7M491 782h7M532 838h7M559 774h7M580 747h7M515 867h7M634 809h7M507 785h7M467 796h7M504 766h7M579 765h7M602 844h7M553 775h7M500 706h7M536 790h7M541 770h7M546 730h7M421 826h7M573 650h7M583 786h7M516 728h7M477 838h7M489 801h7M516 900h7M565 739h7M501 747h7M459 770h7M574 806h7M554 797h7M504 807h7M520 897h7M607 821h7M551 706h7M518 920h7M486 843h7M580 784h7M513 781h7M560 804h7M593 861h7M523 930h7M509 773h7M512 760h7M504 800h7M564 726h7M458 765h7M509 825h7M487 877h7M499 793h7M526 860h7M537 804h7M498 811h7M542 786h7M522 713h7M499 861h7M589 800h7M423 893h7M515 928h7M504 852h7M495 870h7M577 751h7M583 943h7M513 744h7M536 784h7M454 752h7M534 729h7M573 825h7M515 871h7M480 837h7M460 787h7M553 777h7M518 835h7M594 867h7M544 790h7M456 887h7M610 698h7M563 801h7M556 819h7M514 803h7M521 860h7M511 776h7M553 835h7M543 817h7M591 858h7M533 793h7M554 712h7M499 768h7M531 784h7M637 839h7M542 913h7M523 787h7M580 844h7M566 862h7M506 771h7M490 808h7M569 752h7M498 738h7M615 842h7M533 743h7M475 771h7M525 741h7M512 863h7M524 808h7M426 790h7M516 769h7M459 800h7M476 776h7M449 798h7M565 762h7M538 729h7M550 830h7M505 846h7M482 805h7M601 802h7M471 860h7M548 789h7M439 711h7M453 876h7M536 761h7M576 875h7M484 827h7M447 821h7M607 734h7M526 772h7M519 807h7M536 847h7M547 854h7M570 857h7M492 823h7" stroke="#1a1a1a" stroke-opacity="0.7" stroke-width="7" fill="none"/>
<path transform="translate(64.5,169.4) scale(.1)" d="M513 707h7M572 723h7M524 688h7M517 730h7M518 711h7M560 714h7M514 718h7M517 734h7M537 718h7M514 716h7M565 715h7M539 696h7M531 729h7M554 724h7M537 724h7M549 749h7M528 707h7M538 717h7M539 730h7M527 713h7M530 701h7M530 706h7M534 721h7M517 701h7M524 709h7M519 729h7M546 700h7M546 739h7M551 723h7M521 744h7M515 697h7M525 723h7M497 701h7M572 721h7M542 710h7M485 716h7M556 709h7M478 716h7M516 719h7M497 714h7M509 732h7M527 732h7M522 688h7M474 727h7M545 732h7" stroke="#1a1a1a" stroke-opacity="0.8" stroke-width="7" fill="none"/>
<path transform="translate(64.5,169.4) scale(.1)" d="M511 855h7M499 887h7M552 876h7M497 870h7M542 894h7M460 899h7M486 859h7M467 870h7M579 918h7M477 871h7M517 887h7M499 858h7M501 871h7M461 883h7M471 856h7M556 895h7M554 883h7M501 880h7M474 892h7M521 877h7M459 879h7M560 902h7M538 876h7M517 889h7M518 896h7M494 847h7M443 868h7M473 891h7M544 881h7M528 882h7M518 874h7M501 898h7M505 880h7M547 895h7M502 885h7M484 883h7M522 881h7M518 886h7M440 869h7M515 874h7M485 878h7M559 878h7M494 874h7M479 888h7M485 894h7" stroke="#1a1a1a" stroke-opacity="0.8" stroke-width="7" fill="none"/>
<path transform="translate(64.5,169.4) scale(.1)" d="M136 810h7M139 799h7M75 799h7M130 774h7M87 818h7M125 822h7M131 801h7M125 814h7M115 797h7M123 795h7M171 787h7M80 779h7M139 793h7M119 796h7M122 776h7M117 790h7M140 810h7M86 784h7M128 820h7M133 797h7M141 761h7M103 784h7M92 809h7M122 805h7M112 810h7M133 790h7M137 785h7M156 778h7M109 782h7M116 822h7M98 830h7M148 806h7M102 815h7M49 787h7M138 799h7M173 789h7M85 796h7M129 828h7M75 803h7M145 789h7M105 780h7M133 814h7M129 804h7M138 798h7M132 814h7M145 809h7M117 812h7M79 771h7M153 802h7M91 790h7M112 801h7M98 817h7M76 847h7M90 828h7M131 772h7M87 801h7M122 793h7M116 803h7M89 801h7M168 789h7M92 811h7M147 817h7M101 799h7M120 796h7M125 818h7M128 800h7M111 830h7M87 834h7M133 801h7M98 831h7M144 815h7M164 770h7M118 795h7M98 801h7M128 809h7M112 778h7M128 810h7M165 816h7M116 781h7M179 789h7M120 813h7M127 822h7M91 788h7M119 779h7M101 823h7M122 798h7M102 801h7M115 782h7M134 779h7M146 794h7M61 774h7M122 785h7M158 823h7M165 815h7M147 790h7M146 793h7M114 777h7M117 807h7M114 781h7M137 815h7M113 813h7M139 783h7M114 769h7M91 807h7M94 807h7M124 765h7M104 826h7M116 802h7M99 773h7M77 849h7M111 785h7M118 767h7M149 829h7M97 805h7M94 814h7M95 798h7M146 809h7M108 774h7M77 820h7M128 801h7M145 802h7M98 798h7M113 800h7M175 810h7M122 796h7M99 783h7M70 792h7M79 769h7M93 766h7M148 821h7M92 835h7M131 757h7M116 783h7M74 796h7M143 808h7M80 789h7M97 819h7M113 783h7M93 767h7M95 815h7M69 803h7M113 814h7M88 815h7M153 839h7M76 799h7M110 802h7M91 815h7M172 826h7M92 790h7M133 802h7" stroke="#1a1a1a" stroke-opacity="0.8" stroke-width="7" fill="none"/>
<path transform="translate(64.5,169.4) scale(.1)" d="M33 835h7M62 829h7M46 836h7M40 769h7M50 761h7M78 821h7M13 805h7M69 790h7M59 784h7M49 798h7M61 773h7M25 809h7M39 815h7M39 763h7M66 807h7M66 790h7M42 835h7M13 849h7M61 798h7M52 817h7M33 808h7M29 748h7M55 803h7M64 816h7M66 822h7M27 834h7M109 784h7M22 819h7M70 828h7M84 761h7M58 813h7M78 775h7M51 790h7M47 796h7M47 750h7M49 802h7M42 700h7M35 782h7M31 845h7M71 795h7M63 892h7M29 813h7M37 842h7M75 797h7M64 778h7M15 824h7M86 791h7M38 750h7M98 766h7M29 795h7M77 802h7M50 801h7M69 799h7M54 798h7M25 838h7M35 763h7M40 801h7M68 759h7M22 805h7M59 769h7M25 805h7M47 755h7M31 842h7M27 830h7M16 842h7M85 782h7M35 818h7M23 816h7M77 807h7M57 796h7" stroke="#1a1a1a" stroke-opacity="0.6" stroke-width="7" fill="none"/>
<ellipse cx="92" cy="249.4" rx="15" ry="5" fill="#8f8f8f" stroke="none" stroke-width="0.5" opacity="0.6"/>
<ellipse cx="92" cy="249.4" rx="13.2" ry="3.6" fill="#b4b4b4" stroke="#888" stroke-width="0.35" opacity="0.9"/>
<ellipse cx="90.5" cy="249.4" rx="9.5" ry="1.5" fill="#dcdcdc" stroke="none" stroke-width="0.5" opacity="0.9"/>
<ellipse cx="88.5" cy="249.4" rx="6" ry="0.6" fill="#f2f2f2" stroke="none" stroke-width="0.5" opacity="0.9"/>
<ellipse cx="65.4" cy="248.9" rx="1.2" ry="5" fill="#111" stroke="none" stroke-width="0.5" opacity="1"/>
<ellipse cx="66.5" cy="248.9" rx="1.4" ry="3.4" fill="#333" stroke="none" stroke-width="0.5" opacity="0.5"/>
<ellipse cx="116.75" cy="249.6" rx="7.8" ry="6.66" fill="#9b9b9b" stroke="none" stroke-width="0.5" opacity="0.6"/>
<ellipse cx="116.75" cy="249.6" rx="6.5" ry="5.4" fill="#b3b3b3" stroke="#6e6e6e" stroke-width="0.5" opacity="1"/>
<ellipse cx="116.95" cy="249.6" rx="5.1" ry="4.05" fill="#a4a4a4" stroke="#6a6a6a" stroke-width="0.5" opacity="1"/>
<ellipse cx="117.15" cy="249.6" rx="3.8" ry="2.79" fill="#858585" stroke="#555" stroke-width="0.5" opacity="1"/>
<ellipse cx="117.35" cy="249.7" rx="2.3" ry="1.53" fill="#c8c8c8" stroke="#777" stroke-width="0.4" opacity="1"/>
<rect x="105.5" y="232" width="26.5" height="31.7" stroke="#1a1a1a" stroke-width="1.35" fill="none"/>
<text x="117.6" y="226.96" font-size="9.6" text-anchor="middle" style="stroke-width:.03px">42.6</text>
<text transform="translate(58.88,218.1) rotate(-90)" font-size="8.8" text-anchor="middle">SSC</text>
<rect x="192" y="169.4" width="100" height="99.5" stroke="#8e8e8e" stroke-width="0.8" fill="#fff"/>
<path d="M195 268.9v1.5M202 268.9v1M206 268.9v1M209 268.9v1M211.4 268.9v1M213.4 268.9v1M215 268.9v1.5M222 268.9v1M226 268.9v1M229 268.9v1M231.4 268.9v1M233.4 268.9v1M235 268.9v1.5M242 268.9v1M246 268.9v1M249 268.9v1M251.4 268.9v1M253.4 268.9v1M255 268.9v1.5M262 268.9v1M266 268.9v1M269 268.9v1M271.4 268.9v1M273.4 268.9v1M275 268.9v1.5M282 268.9v1M286 268.9v1M289 268.9v1M190.7 265.4h2M191.1 260.4h1.5M191.1 255.4h1.5M191.1 250.4h1.5M191.1 245.4h1.5M190.7 240.4h2M191.1 235.4h1.5M191.1 230.4h1.5M191.1 225.4h1.5M191.1 220.4h1.5M190.7 215.4h2M191.1 210.4h1.5M191.1 205.4h1.5M191.1 200.4h1.5M191.1 195.4h1.5M190.7 190.4h2M191.1 185.4h1.5M191.1 180.4h1.5M191.1 175.4h1.5" stroke="#555" stroke-width="0.6" fill="none"/>
<path transform="translate(192,169.4) scale(.1)" d="M411 773h7M488 802h7M238 744h7M223 812h7M443 745h7M264 778h7M124 803h7M181 834h7M32 733h7M348 791h7M297 768h7M143 776h7M273 773h7M225 772h7M311 762h7M8 708h7M278 806h7M406 776h7M131 749h7M379 780h7M409 800h7M244 736h7M192 832h7M200 828h7M65 840h7M644 843h7M322 758h7M211 779h7M304 730h7M167 832h7M299 830h7M391 762h7M104 820h7M284 806h7M174 840h7M345 844h7M234 828h7M272 769h7M270 743h7M257 809h7M371 765h7M107 777h7M10 779h7M621 808h7M181 778h7M511 761h7M265 800h7M184 777h7M61 773h7M450 854h7M243 828h7M340 807h7M262 847h7M354 795h7M250 837h7M203 777h7M244 785h7M445 816h7M269 784h7M465 819h7M552 836h7M252 783h7M243 810h7M383 821h7M485 748h7M284 752h7M146 781h7M195 768h7M82 844h7M238 838h7M136 719h7M202 835h7M207 817h7M140 853h7M336 841h7M244 849h7M289 785h7M197 805h7M162 760h7M297 829h7M242 833h7M487 757h7M313 768h7M196 809h7M389 823h7M364 868h7M232 842h7M469 821h7M47 797h7M242 745h7M272 830h7M246 796h7M471 781h7M157 804h7M426 824h7M289 785h7M441 835h7M54 815h7M360 780h7M112 792h7M52 823h7M213 739h7M277 846h7M114 790h7M517 810h7M208 810h7M382 767h7M267 744h7M73 747h7M390 814h7M375 847h7M286 811h7M333 820h7M141 793h7M260 804h7M182 798h7M317 810h7M357 833h7M352 838h7M389 853h7M362 781h7M583 844h7M443 829h7M286 762h7M337 790h7M228 726h7M482 761h7M137 820h7M354 774h7M279 812h7M300 822h7M381 790h7M69 881h7M230 767h7M378 824h7M199 888h7M275 814h7M321 795h7M321 756h7M228 870h7M394 788h7M204 749h7M264 797h7M196 747h7M300 818h7M429 822h7M478 846h7M266 765h7M336 838h7M78 758h7M370 783h7M470 811h7M208 755h7M358 741h7M110 756h7M502 865h7M251 789h7M371 848h7M175 882h7M253 844h7M189 875h7M252 757h7M534 778h7M279 758h7M368 810h7M242 788h7M205 777h7M96 847h7M396 753h7M128 818h7M575 796h7M239 794h7M312 797h7M421 838h7M352 860h7M250 783h7M669 733h7M76 718h7M327 764h7M418 727h7M262 789h7M139 843h7M228 819h7M211 808h7M221 806h7M267 778h7M337 796h7M153 765h7M338 851h7M109 788h7M339 841h7M373 760h7M285 835h7M311 795h7M125 809h7M271 804h7M476 846h7M176 811h7M239 807h7M493 836h7M285 779h7M259 816h7M215 843h7M283 760h7M547 698h7M245 799h7M409 843h7M470 859h7M321 807h7M413 802h7M115 787h7M366 825h7M136 846h7M320 749h7M341 839h7M349 792h7M175 843h7M309 803h7M228 766h7M35 791h7M425 831h7M191 858h7M250 767h7M408 853h7M229 759h7M272 715h7M287 858h7M316 776h7M373 785h7M445 790h7M546 790h7M305 769h7M113 815h7M326 768h7M353 788h7M208 800h7M331 829h7M441 817h7M185 778h7M328 760h7M258 789h7M267 810h7M416 862h7M395 839h7M140 840h7M449 754h7M610 783h7M288 774h7M205 842h7M314 789h7M430 769h7M169 783h7M182 828h7M250 765h7M220 731h7M302 807h7M359 794h7M332 769h7M283 809h7M121 824h7M299 805h7M218 875h7M280 775h7M169 824h7M253 775h7M186 837h7M291 841h7M278 760h7M393 814h7M195 792h7M153 833h7M226 820h7M314 794h7M328 794h7M126 788h7M126 830h7M365 782h7M361 812h7M407 769h7M283 767h7M191 852h7M18 770h7M343 831h7M178 730h7M56 816h7M423 836h7M185 852h7M255 825h7M255 860h7M213 726h7M239 810h7M316 777h7M250 762h7M250 806h7M311 862h7M20 822h7M336 761h7M289 803h7M150 829h7M528 827h7M381 841h7M263 838h7M175 809h7M372 850h7M243 792h7M341 800h7M298 832h7M181 834h7M329 793h7M118 780h7M274 837h7M25 829h7M305 762h7M391 817h7M336 768h7M136 836h7M462 816h7M255 787h7M58 838h7M268 847h7M187 841h7M188 824h7M458 778h7M397 803h7M159 810h7M363 777h7M245 783h7M181 795h7M386 785h7M441 789h7M191 841h7M461 780h7M356 761h7M227 790h7M371 758h7M214 778h7M293 759h7M107 904h7M307 749h7M387 756h7M37 863h7M441 773h7M139 820h7M541 824h7M365 761h7M51 817h7M410 808h7M279 852h7M172 842h7M387 781h7M296 807h7M355 768h7M250 806h7M284 804h7M312 796h7M216 840h7M197 792h7M167 762h7M337 801h7M263 819h7M258 827h7M512 815h7M246 862h7M371 744h7M451 810h7M389 762h7M171 780h7M351 763h7M189 837h7M198 807h7M165 743h7M269 799h7M97 837h7M385 834h7M215 762h7M268 809h7M258 782h7M153 777h7M269 786h7M493 793h7M338 787h7M256 769h7M218 750h7M15 850h7M145 818h7M264 783h7M373 783h7M335 790h7M404 837h7M288 842h7M344 858h7M264 748h7M307 811h7M234 796h7M245 759h7M499 776h7M143 747h7M172 802h7M468 824h7M187 759h7M137 800h7M390 786h7M484 871h7M300 727h7M419 800h7M365 838h7M152 805h7M302 776h7M368 798h7M228 869h7M301 861h7M260 840h7M184 808h7M417 726h7M348 793h7M418 809h7M270 758h7M653 777h7M239 777h7M241 811h7M110 840h7M246 824h7M12 785h7M242 789h7M195 814h7M331 768h7M30 829h7M239 841h7M390 799h7M98 790h7M187 847h7M64 835h7M84 783h7M100 778h7M223 816h7M204 827h7M502 809h7M133 797h7M266 790h7M425 844h7M534 821h7M364 774h7M203 835h7M298 763h7M205 694h7M279 760h7M273 761h7M161 785h7M633 761h7M129 784h7M414 831h7M367 791h7M295 776h7M256 774h7M95 768h7M524 817h7M184 799h7M222 846h7M275 780h7M365 814h7M192 776h7M297 745h7M163 838h7M389 842h7M223 782h7M244 786h7M441 795h7M451 778h7M327 860h7M185 780h7M203 746h7M241 780h7M558 786h7M8 836h7M399 802h7M315 828h7M208 804h7M297 861h7M458 809h7M109 834h7M272 844h7M285 809h7M362 777h7M195 884h7M169 836h7M365 832h7M452 756h7M400 730h7M285 815h7M409 841h7M160 793h7M258 778h7M175 780h7M424 851h7M374 862h7M290 765h7M196 810h7M409 846h7M165 837h7M211 824h7M395 855h7M212 811h7M333 788h7M290 824h7M70 780h7M570 819h7M208 738h7M157 821h7M364 819h7M353 782h7M480 763h7M343 794h7M62 835h7M243 828h7M439 809h7M195 795h7M270 854h7M386 859h7M374 776h7M396 837h7M263 819h7M238 758h7M267 830h7M233 724h7M177 841h7M307 843h7M183 788h7M152 775h7M343 808h7M217 813h7M113 789h7M89 750h7M106 764h7M478 852h7M437 782h7M357 763h7M210 812h7M76 810h7M356 730h7M262 808h7M135 823h7M294 777h7M486 812h7M372 869h7M216 795h7M58 795h7M333 892h7M349 810h7M118 773h7M44 754h7M292 814h7M162 795h7M176 825h7M359 783h7M220 759h7M219 881h7M276 833h7M351 855h7M237 771h7M409 836h7M194 842h7M276 801h7M511 822h7M318 792h7M303 840h7M336 776h7M335 799h7M317 796h7M229 725h7M87 875h7M366 787h7M319 723h7M309 838h7M302 756h7M400 784h7M205 810h7M240 876h7M260 879h7M335 759h7M278 805h7M460 849h7M602 779h7M222 886h7M164 816h7M482 767h7M234 776h7M345 817h7M273 826h7M178 790h7M337 875h7M273 805h7M444 806h7M443 812h7M424 809h7M161 773h7M332 870h7M515 792h7M596 763h7M170 836h7M84 836h7M326 825h7M125 817h7M397 801h7M409 804h7M322 792h7M105 797h7M341 776h7M29 748h7M445 795h7M181 847h7M256 749h7M222 771h7M254 770h7M287 819h7M205 796h7M258 833h7M186 830h7M437 796h7M155 792h7M52 784h7M126 797h7M231 822h7M293 818h7M272 813h7M134 827h7M444 843h7M107 818h7M71 830h7M252 786h7M183 794h7M277 768h7M286 812h7M345 801h7M277 886h7M407 815h7M101 825h7M351 707h7M257 817h7" stroke="#1a1a1a" stroke-opacity="0.75" stroke-width="7" fill="none"/>
<path transform="translate(192,169.4) scale(.1)" d="M303 845h7M278 916h7M347 824h7M269 955h7M188 811h7M340 848h7M337 915h7M444 863h7M304 837h7M269 895h7M136 783h7M240 787h7M204 906h7M10 872h7M130 827h7M225 785h7M108 844h7M248 900h7M536 824h7M196 824h7M358 891h7M176 866h7M294 903h7M246 829h7M189 767h7M333 879h7M443 855h7M239 790h7M150 800h7M342 845h7M262 783h7M296 869h7M166 766h7M257 854h7M266 925h7M317 785h7M398 804h7M387 845h7M457 785h7M391 863h7M182 879h7M590 860h7M200 832h7M466 854h7M489 804h7M467 753h7M277 824h7M236 907h7M221 859h7M537 885h7M245 800h7M41 861h7M413 901h7M330 959h7M398 713h7M185 884h7M247 886h7M629 798h7M584 836h7M109 845h7M416 808h7M503 792h7M274 891h7M272 809h7M297 876h7M523 915h7M541 838h7M85 838h7M246 785h7M233 836h7M306 890h7M181 903h7M305 880h7M460 772h7M506 801h7M351 900h7M419 754h7M320 903h7M284 836h7M309 930h7M229 788h7M156 811h7M269 859h7M289 745h7M96 877h7M393 765h7M421 706h7M601 873h7M85 868h7M295 815h7M252 828h7M286 790h7M226 871h7M368 767h7M236 926h7M392 931h7M124 783h7M18 733h7M251 782h7M158 802h7M275 886h7M373 743h7M493 822h7M170 838h7M248 764h7M502 808h7M222 870h7M517 867h7M183 864h7M444 861h7M384 814h7M291 747h7M206 777h7M301 922h7M7 767h7M179 835h7M451 797h7M198 907h7M348 869h7M408 799h7M329 804h7M206 847h7M356 770h7M200 874h7M322 877h7M259 796h7M402 873h7M201 877h7M505 825h7M173 854h7M312 871h7M117 854h7M416 879h7M382 906h7M192 907h7M327 785h7M261 855h7M343 914h7M325 812h7M585 822h7M192 891h7M246 797h7M161 905h7M161 846h7M240 829h7M193 848h7M379 898h7" stroke="#1a1a1a" stroke-opacity="0.55" stroke-width="7" fill="none"/>
<path transform="translate(192,169.4) scale(.1)" d="M486 751h7M432 803h7M384 863h7M505 809h7M436 774h7M468 833h7M484 831h7M528 717h7M492 860h7M479 809h7M497 748h7M609 797h7M534 783h7M571 855h7M560 846h7M537 865h7M523 809h7M542 763h7M381 840h7M511 772h7M491 760h7M463 812h7M509 841h7M499 832h7M536 772h7M422 773h7M491 779h7M610 773h7M526 769h7M537 747h7M549 812h7M484 750h7M584 777h7M573 695h7M446 885h7M589 804h7M552 831h7M486 809h7M448 743h7M509 836h7M511 749h7M544 807h7M540 791h7M491 851h7M570 750h7M450 847h7M521 806h7M456 849h7M513 813h7M522 780h7M523 809h7M538 821h7M442 772h7M491 856h7M472 854h7M555 843h7M612 803h7M519 858h7M523 848h7M497 867h7M520 718h7M556 795h7M461 790h7M490 855h7M520 800h7M503 763h7M473 783h7M493 752h7M484 848h7M525 804h7M520 793h7M446 843h7M612 826h7M537 913h7M445 827h7M487 791h7M424 800h7M523 732h7M493 782h7M455 832h7M583 822h7M553 838h7M500 830h7M567 785h7M496 742h7M414 767h7M547 820h7M516 862h7M418 865h7M508 838h7M570 767h7M462 822h7M501 778h7M497 771h7M510 787h7M585 757h7M531 807h7M580 761h7M481 881h7M472 787h7M485 760h7M562 871h7M496 770h7M438 833h7M478 828h7M387 785h7M534 822h7M365 817h7M510 803h7M487 784h7M510 826h7M351 803h7M548 794h7M562 762h7M596 846h7M484 926h7M573 874h7M446 799h7M526 850h7M507 746h7M562 796h7M525 789h7M498 743h7M536 776h7M418 822h7M502 846h7M543 750h7M495 804h7M508 757h7M507 847h7M563 868h7M540 692h7M490 779h7M364 872h7M547 803h7M521 825h7M493 864h7M591 840h7M477 815h7M551 835h7M470 846h7M539 829h7M483 802h7M412 802h7M482 790h7M490 789h7M508 808h7M474 798h7M499 825h7M525 788h7M464 731h7M443 822h7M459 875h7M496 786h7M496 779h7M473 806h7M434 809h7M499 763h7M553 820h7M556 774h7M444 751h7M428 720h7M579 782h7M513 780h7M497 873h7M420 760h7M510 763h7M537 861h7M547 837h7M496 848h7M465 751h7M491 792h7M562 760h7M559 769h7M443 728h7M502 739h7M514 805h7M484 718h7M479 823h7M418 834h7M504 779h7M513 832h7M502 769h7M541 773h7M521 846h7M566 874h7M553 810h7M494 812h7M529 936h7M535 767h7M577 733h7M552 747h7M451 781h7M490 744h7M533 798h7M568 758h7M416 834h7M493 846h7M391 748h7M508 890h7M444 719h7M482 866h7M580 743h7M474 722h7M463 761h7M524 854h7M618 787h7M543 813h7M510 889h7M537 872h7M518 842h7M528 799h7M470 785h7M504 786h7M487 772h7M545 792h7M498 794h7M567 779h7M571 765h7M577 830h7M480 823h7M558 761h7M493 817h7M494 790h7M505 817h7M541 869h7M488 933h7M488 882h7M497 739h7M483 788h7M555 714h7M473 797h7M535 821h7M545 796h7M492 857h7M586 820h7M511 765h7M605 821h7M533 732h7M533 911h7M496 794h7M577 795h7M544 889h7M448 766h7M536 808h7M506 796h7M510 819h7M481 791h7M515 755h7M525 706h7M534 798h7M447 863h7M447 895h7M469 857h7M501 875h7M493 849h7M488 720h7M522 824h7M523 877h7M468 740h7M516 772h7M499 803h7M465 852h7M498 883h7M516 850h7M490 774h7M478 764h7M525 809h7M452 735h7M463 722h7M461 736h7M537 752h7M476 798h7M505 822h7M540 832h7M487 859h7M521 772h7M575 751h7M526 859h7M509 819h7M510 833h7M514 803h7M537 719h7M516 790h7M597 816h7M472 832h7M485 751h7M490 825h7M560 850h7M515 796h7M513 857h7M498 855h7M466 803h7M541 834h7M513 780h7M418 784h7M463 785h7M579 769h7M544 802h7M451 808h7M539 750h7M449 786h7M538 777h7M524 823h7M504 823h7M564 795h7M519 756h7M470 799h7M542 773h7M438 844h7M616 689h7M453 809h7M527 761h7M520 852h7M491 835h7M510 762h7M475 776h7M567 854h7M515 734h7M481 785h7M413 802h7M517 744h7M484 783h7M591 832h7M540 807h7M443 844h7M472 718h7M538 788h7M504 826h7M493 821h7M564 789h7M487 804h7M534 785h7M508 773h7M500 827h7M465 795h7M435 772h7M507 827h7M455 799h7M460 817h7M516 823h7M494 740h7M477 744h7M472 801h7M554 775h7M467 812h7M407 891h7M431 848h7M550 846h7M499 835h7M488 845h7M473 767h7M521 783h7M535 765h7M516 760h7M499 898h7M453 749h7M429 793h7M579 783h7M547 795h7M474 892h7M554 722h7M458 821h7M534 793h7M518 827h7M487 847h7M464 836h7M546 812h7M488 802h7M400 814h7M437 714h7M539 763h7M520 805h7M422 763h7M491 824h7M507 747h7M479 808h7M444 784h7M478 709h7M584 842h7M482 845h7M455 871h7M486 809h7M477 807h7M519 804h7M465 836h7M530 803h7M553 771h7M563 796h7M574 784h7M492 812h7M555 867h7M482 771h7M539 858h7M536 789h7M563 802h7M511 830h7M477 703h7M514 835h7M524 827h7" stroke="#1a1a1a" stroke-opacity="0.7" stroke-width="7" fill="none"/>
<path transform="translate(192,169.4) scale(.1)" d="M508 743h7M506 750h7M505 740h7M490 732h7M514 730h7M542 729h7M532 733h7M531 715h7M494 742h7M483 734h7M518 731h7M515 736h7M498 734h7M491 721h7M464 726h7M461 728h7M509 712h7M505 732h7M495 715h7M501 734h7M527 757h7M454 733h7M514 719h7M512 759h7M506 748h7M530 721h7M445 745h7M542 702h7M499 718h7M509 729h7M532 719h7M552 703h7M509 768h7M501 737h7M492 777h7M526 723h7M455 731h7M522 698h7M491 736h7M443 725h7M464 708h7M514 745h7M533 718h7M516 702h7M466 736h7" stroke="#1a1a1a" stroke-opacity="0.8" stroke-width="7" fill="none"/>
<path transform="translate(192,169.4) scale(.1)" d="M482 857h7M439 869h7M558 842h7M463 889h7M438 863h7M496 889h7M491 899h7M493 870h7M506 877h7M450 858h7M487 877h7M458 861h7M472 877h7M481 881h7M505 858h7M485 854h7M497 884h7M465 846h7M509 868h7M493 879h7M505 886h7M480 839h7M479 867h7M482 878h7M486 891h7M475 872h7M483 903h7M466 857h7M482 883h7M494 869h7M451 841h7M487 868h7M545 878h7M506 886h7M467 854h7M483 894h7M522 863h7M457 886h7M525 856h7M540 860h7M515 869h7M484 863h7M514 881h7M517 868h7M469 904h7" stroke="#1a1a1a" stroke-opacity="0.8" stroke-width="7" fill="none"/>
<path transform="translate(192,169.4) scale(.1)" d="M155 797h7M88 825h7M118 801h7M135 806h7M118 834h7M71 811h7M92 801h7M111 804h7M58 812h7M170 793h7M136 811h7M122 792h7M130 805h7M149 814h7M98 751h7M151 808h7M119 790h7M174 823h7M117 794h7M129 823h7M127 816h7M121 806h7M85 802h7M116 799h7M109 805h7M101 797h7M84 839h7M94 780h7M102 793h7M90 759h7M154 817h7M106 809h7M89 773h7M123 810h7M99 800h7M42 798h7M140 803h7M119 810h7M66 778h7M85 804h7M100 768h7M136 797h7M139 834h7M76 778h7M141 824h7M124 806h7M131 811h7M85 813h7M139 793h7M93 792h7M101 809h7M133 800h7M108 770h7M105 783h7M102 806h7M119 859h7M94 791h7M88 796h7M108 817h7M69 815h7M130 791h7M99 803h7M127 797h7M111 800h7M89 805h7M129 801h7M88 800h7M112 805h7M105 814h7M141 814h7M121 821h7M114 797h7M81 800h7M144 784h7M134 779h7M122 831h7M116 780h7M122 798h7M134 791h7M74 792h7M129 817h7M121 800h7M131 797h7M104 804h7M141 792h7M127 789h7M97 803h7M83 786h7M87 790h7M93 839h7M129 801h7M83 760h7M125 790h7M140 793h7M84 789h7M78 776h7M132 791h7M131 791h7M109 791h7M102 789h7M150 799h7M68 828h7M145 819h7M112 797h7M103 802h7M126 800h7M95 784h7M155 828h7M85 789h7M114 810h7M112 804h7M123 819h7M84 818h7M125 809h7M79 796h7M109 811h7M131 811h7M84 821h7M116 815h7M115 788h7M177 811h7M133 792h7M109 818h7M125 829h7M143 782h7M78 819h7M129 796h7M108 791h7M158 797h7M82 815h7M113 806h7M106 799h7M70 809h7M98 794h7M122 821h7M63 798h7M128 817h7M93 805h7M124 815h7M100 797h7M102 819h7M141 793h7M111 804h7M93 798h7M135 813h7M98 789h7M112 776h7M122 802h7M83 796h7M99 796h7" stroke="#1a1a1a" stroke-opacity="0.8" stroke-width="7" fill="none"/>
<path transform="translate(192,169.4) scale(.1)" d="M30 837h7M28 821h7M54 839h7M48 800h7M51 750h7M102 795h7M43 770h7M47 843h7M33 812h7M72 826h7M41 754h7M59 816h7M42 789h7M88 758h7M38 784h7M15 782h7M32 834h7M11 764h7M55 759h7M23 774h7M46 812h7M35 793h7M65 796h7M66 785h7M60 834h7M19 880h7M42 791h7M46 813h7M23 801h7M37 838h7M12 818h7M43 780h7M53 794h7M50 807h7M76 790h7M86 729h7M90 833h7M84 806h7M56 773h7M79 770h7M32 800h7M55 809h7M24 791h7M60 832h7M66 811h7M44 786h7M38 798h7M61 787h7M95 774h7M67 795h7M47 790h7M83 792h7M62 804h7M66 816h7M86 781h7M32 845h7M78 802h7M43 807h7M78 780h7M81 799h7M42 790h7M21 786h7M30 807h7M65 801h7M54 811h7M85 816h7M84 799h7M57 783h7" stroke="#1a1a1a" stroke-opacity="0.6" stroke-width="7" fill="none"/>
<ellipse cx="219.5" cy="249.4" rx="15" ry="5" fill="#8f8f8f" stroke="none" stroke-width="0.5" opacity="0.6"/>
<ellipse cx="219.5" cy="249.4" rx="13.2" ry="3.6" fill="#b4b4b4" stroke="#888" stroke-width="0.35" opacity="0.9"/>
<ellipse cx="218" cy="249.4" rx="9.5" ry="1.5" fill="#dcdcdc" stroke="none" stroke-width="0.5" opacity="0.9"/>
<ellipse cx="216" cy="249.4" rx="6" ry="0.6" fill="#f2f2f2" stroke="none" stroke-width="0.5" opacity="0.9"/>
<ellipse cx="192.9" cy="248.9" rx="1.2" ry="5" fill="#111" stroke="none" stroke-width="0.5" opacity="1"/>
<ellipse cx="194" cy="248.9" rx="1.4" ry="3.4" fill="#333" stroke="none" stroke-width="0.5" opacity="0.5"/>
<ellipse cx="242.35" cy="249.6" rx="7.8" ry="5.92" fill="#9b9b9b" stroke="none" stroke-width="0.5" opacity="0.6"/>
<ellipse cx="242.35" cy="249.6" rx="6.5" ry="4.8" fill="#b3b3b3" stroke="#6e6e6e" stroke-width="0.5" opacity="1"/>
<ellipse cx="242.55" cy="249.6" rx="5.1" ry="3.6" fill="#a4a4a4" stroke="#6a6a6a" stroke-width="0.5" opacity="1"/>
<ellipse cx="242.75" cy="249.6" rx="3.8" ry="2.48" fill="#858585" stroke="#555" stroke-width="0.5" opacity="1"/>
<ellipse cx="242.95" cy="249.7" rx="2.3" ry="1.36" fill="#c8c8c8" stroke="#777" stroke-width="0.4" opacity="1"/>
<rect x="231.3" y="232" width="26.1" height="31.7" stroke="#1a1a1a" stroke-width="1.35" fill="none"/>
<text x="244.1" y="226.96" font-size="9.6" text-anchor="middle" style="stroke-width:.03px">37.1</text>
<text transform="translate(187.68,218.1) rotate(-90)" font-size="8.8" text-anchor="middle">SSC</text>
<text x="65" y="279.69" font-size="9.4" text-anchor="start">CD4-Bv421</text>
<path d="M115.5 276.6L289 276.6" stroke="#111" stroke-width="1.4" fill="none"/>
<path d="M287.9 273.2L291.8 276.6L287.9 280Z" fill="#111"/>
<text x="288.8" y="30.45" font-size="25" text-anchor="start" style="stroke-width:.3px">B</text>
<path d="M338.8 30.1L338.8 128.2" stroke="#222" stroke-width="1.3" fill="none"/>
<path d="M338.2 127.6L435.8 127.6" stroke="#222" stroke-width="1.3" fill="none"/>
<path d="M356.6 127.6L356.6 130.4" stroke="#222" stroke-width="1.1" fill="none"/>
<path d="M373.3 127.6L373.3 130.4" stroke="#222" stroke-width="1.1" fill="none"/>
<path d="M400.4 127.6L400.4 130.4" stroke="#222" stroke-width="1.1" fill="none"/>
<path d="M418 127.6L418 130.4" stroke="#222" stroke-width="1.1" fill="none"/>
<path d="M336 127.6L338.8 127.6" stroke="#222" stroke-width="1.1" fill="none"/>
<text x="334.9" y="130.12" font-size="9.5" text-anchor="end">0</text>
<path d="M336 103.38L338.8 103.38" stroke="#222" stroke-width="1.1" fill="none"/>
<text x="334.9" y="106.92" font-size="9.5" text-anchor="end">20</text>
<path d="M336 79.15L338.8 79.15" stroke="#222" stroke-width="1.1" fill="none"/>
<text x="334.9" y="82.73" font-size="9.5" text-anchor="end">40</text>
<path d="M336 54.92L338.8 54.92" stroke="#222" stroke-width="1.1" fill="none"/>
<text x="334.9" y="58.53" font-size="9.5" text-anchor="end">60</text>
<path d="M336 30.7L338.8 30.7" stroke="#222" stroke-width="1.1" fill="none"/>
<text x="334.9" y="34.33" font-size="9.5" text-anchor="end">80</text>
<text transform="translate(318.24,76.2) rotate(-90)" font-size="9.55" text-anchor="middle">Percen of CD4<tspan font-size="5.54" dy="-3.44">+</tspan><tspan dy="3.44"> T cell (%)</tspan></text>
<rect x="348.3" y="46.3" width="17.3" height="12.7" stroke="#8a8a8a" stroke-width="1" fill="#fff"/>
<path d="M348.3 50.7L365.6 50.7" stroke="#8a8a8a" stroke-width="1" fill="none"/>
<rect x="365.9" y="61.6" width="16.9" height="15" stroke="#3b8d9c" stroke-width="1" fill="#fff"/>
<path d="M365.9 71.6L382.8 71.6" stroke="#3b8d9c" stroke-width="1" fill="none"/>
<rect x="392.4" y="67.5" width="16.5" height="7.1" stroke="#8a8a8a" stroke-width="1" fill="#fff"/>
<path d="M392.4 71.5L408.9 71.5" stroke="#8a8a8a" stroke-width="1" fill="none"/>
<rect x="409.8" y="78.2" width="16.7" height="23" stroke="#3b8d9c" stroke-width="1" fill="#fff"/>
<path d="M409.8 86L426.5 86" stroke="#3b8d9c" stroke-width="1" fill="none"/>
<circle cx="350.2" cy="48.2" r="2.55" fill="#000"/>
<circle cx="356.5" cy="45.6" r="2.55" fill="#000"/>
<circle cx="362.9" cy="50.7" r="2.55" fill="#000"/>
<circle cx="356.5" cy="52.3" r="2.55" fill="#000"/>
<circle cx="356.5" cy="59.2" r="2.55" fill="#000"/>
<rect x="371.8" y="58.9" width="5" height="5" fill="#3b8d9c"/>
<rect x="365.4" y="67.5" width="5" height="5" fill="#3b8d9c"/>
<rect x="365.4" y="70.9" width="5" height="5" fill="#3b8d9c"/>
<rect x="365.4" y="73.8" width="5" height="5" fill="#3b8d9c"/>
<rect x="378.1" y="67.1" width="5" height="5" fill="#3b8d9c"/>
<rect x="378.1" y="72" width="5" height="5" fill="#3b8d9c"/>
<path d="M394.65 69.81L400.15 69.81L397.4 64.59Z" fill="#000"/>
<path d="M400.75 69.81L406.25 69.81L403.5 64.59Z" fill="#000"/>
<path d="M397.55 74.51L403.05 74.51L400.3 69.29Z" fill="#000"/>
<path d="M403.95 75.61L409.45 75.61L406.7 70.39Z" fill="#000"/>
<path d="M391.25 78.11L396.75 78.11L394 72.89Z" fill="#000"/>
<path d="M408.75 74.39L414.25 74.39L411.5 79.61Z" fill="#3b8d9c"/>
<path d="M421.65 77.79L427.15 77.79L424.4 83.01Z" fill="#3b8d9c"/>
<path d="M408.75 83.19L414.25 83.19L411.5 88.41Z" fill="#3b8d9c"/>
<path d="M421.65 86.49L427.15 86.49L424.4 91.71Z" fill="#3b8d9c"/>
<path d="M415.05 98.89L420.55 98.89L417.8 104.11Z" fill="#3b8d9c"/>
<path d="M354.6 7.9L423.2 7.9" stroke="#222" stroke-width="1.5" fill="none"/>
<text x="390" y="7.45" font-size="9" text-anchor="middle" style="font-weight:bold;stroke-width:0">***</text>
<path d="M354.6 16.9L375.3 16.9" stroke="#222" stroke-width="1.5" fill="none"/>
<text x="364.8" y="16.65" font-size="9" text-anchor="middle" style="font-weight:bold;stroke-width:0">*</text>
<path d="M377.7 16.9L424.7 16.9" stroke="#222" stroke-width="1.5" fill="none"/>
<text x="401" y="16.65" font-size="9" text-anchor="middle" style="font-weight:bold;stroke-width:0">*</text>
<path d="M354.6 26.4L401.9 26.4" stroke="#222" stroke-width="1.5" fill="none"/>
<text x="377.7" y="26.55" font-size="9" text-anchor="middle" style="font-weight:bold;stroke-width:0">*</text>
<rect x="427.3" y="10.2" width="9.9" height="9.9" stroke="none" stroke-width="0" fill="#cbcbcb"/>
<text x="439.3" y="18.48" font-size="9.5" text-anchor="start">Ctrl</text>
<rect x="427.3" y="27.2" width="9.9" height="9.9" stroke="none" stroke-width="0" fill="#4bada8"/>
<text x="439.3" y="35.48" font-size="9.5" text-anchor="start">HCC-m</text>
<text x="364.8" y="141.12" font-size="9.5" text-anchor="middle">WT</text>
<text x="412.4" y="141.12" font-size="9.5" text-anchor="middle">Jα18<tspan font-size="5.51" dy="-3.42">-/-</tspan></text>
<text x="289.1" y="165.45" font-size="25" text-anchor="start" style="stroke-width:.3px">C</text>
<path d="M340 178.8L340 279.6" stroke="#222" stroke-width="1.3" fill="none"/>
<path d="M339.4 279L434.9 279" stroke="#222" stroke-width="1.3" fill="none"/>
<path d="M359.9 279L359.9 281.8" stroke="#222" stroke-width="1.1" fill="none"/>
<path d="M378.2 279L378.2 281.8" stroke="#222" stroke-width="1.1" fill="none"/>
<path d="M402.8 279L402.8 281.8" stroke="#222" stroke-width="1.1" fill="none"/>
<path d="M421.2 279L421.2 281.8" stroke="#222" stroke-width="1.1" fill="none"/>
<path d="M337.2 279L340 279" stroke="#222" stroke-width="1.1" fill="none"/>
<text x="336.5" y="278.89" font-size="9.4" text-anchor="end">0</text>
<path d="M337.2 254.1L340 254.1" stroke="#222" stroke-width="1.1" fill="none"/>
<text x="336.5" y="257.19" font-size="9.4" text-anchor="end">1</text>
<path d="M337.2 229.2L340 229.2" stroke="#222" stroke-width="1.1" fill="none"/>
<text x="336.5" y="232.39" font-size="9.4" text-anchor="end">2</text>
<path d="M337.2 204.3L340 204.3" stroke="#222" stroke-width="1.1" fill="none"/>
<text x="336.5" y="207.79" font-size="9.4" text-anchor="end">3</text>
<path d="M337.2 179.4L340 179.4" stroke="#222" stroke-width="1.1" fill="none"/>
<text x="336.5" y="183.39" font-size="9.4" text-anchor="end">4</text>
<text transform="translate(323.89,223.4) rotate(-90)" font-size="9.4" text-anchor="middle">Num. of CD4<tspan font-size="5.45" dy="-3.38">+</tspan><tspan dy="3.38"> T cell (×10</tspan><tspan font-size="5.45" dy="-3.38">6</tspan><tspan dy="3.38">)</tspan></text>
<rect x="349.9" y="196.7" width="17.5" height="18.5" stroke="#8a8a8a" stroke-width="1" fill="#fff"/>
<path d="M349.9 204.3L367.4 204.3" stroke="#8a8a8a" stroke-width="1" fill="none"/>
<rect x="367.7" y="221.5" width="17.6" height="21.9" stroke="#3b8d9c" stroke-width="1" fill="#fff"/>
<path d="M367.7 230.5L385.3 230.5" stroke="#3b8d9c" stroke-width="1" fill="none"/>
<rect x="394.7" y="220" width="17.1" height="28.1" stroke="#8a8a8a" stroke-width="1" fill="#fff"/>
<path d="M394.7 242.4L411.8 242.4" stroke="#8a8a8a" stroke-width="1" fill="none"/>
<rect x="412.6" y="238.3" width="16.9" height="25.1" stroke="#3b8d9c" stroke-width="1" fill="#fff"/>
<path d="M412.6 247L429.5 247" stroke="#3b8d9c" stroke-width="1" fill="none"/>
<circle cx="352.1" cy="196.4" r="2.55" fill="#000"/>
<circle cx="365.3" cy="199.3" r="2.55" fill="#000"/>
<circle cx="352.1" cy="204.3" r="2.55" fill="#000"/>
<circle cx="365.3" cy="207.6" r="2.55" fill="#000"/>
<circle cx="358.5" cy="215.4" r="2.55" fill="#000"/>
<rect x="374" y="218.7" width="5" height="5" fill="#3b8d9c"/>
<rect x="380.3" y="225.1" width="5" height="5" fill="#3b8d9c"/>
<rect x="367.4" y="228" width="5" height="5" fill="#3b8d9c"/>
<rect x="374" y="233.9" width="5" height="5" fill="#3b8d9c"/>
<rect x="374" y="240.9" width="5" height="5" fill="#3b8d9c"/>
<path d="M394.15 222.61L399.65 222.61L396.9 217.39Z" fill="#000"/>
<path d="M407.05 223.81L412.55 223.81L409.8 218.59Z" fill="#000"/>
<path d="M400.45 245.61L405.95 245.61L403.2 240.39Z" fill="#000"/>
<path d="M394.15 251.41L399.65 251.41L396.9 246.19Z" fill="#000"/>
<path d="M407.05 251.11L412.55 251.11L409.8 245.89Z" fill="#000"/>
<path d="M411.95 234.69L417.45 234.69L414.7 239.91Z" fill="#3b8d9c"/>
<path d="M424.85 235.19L430.35 235.19L427.6 240.41Z" fill="#3b8d9c"/>
<path d="M418.25 243.69L423.75 243.69L421 248.91Z" fill="#3b8d9c"/>
<path d="M418.25 254.69L423.75 254.69L421 259.91Z" fill="#3b8d9c"/>
<path d="M418.25 261.19L423.75 261.19L421 266.41Z" fill="#3b8d9c"/>
<path d="M359.3 163.3L427.9 163.3" stroke="#222" stroke-width="1.5" fill="none"/>
<text x="393.4" y="161.15" font-size="9" text-anchor="middle" style="font-weight:bold;stroke-width:0">***</text>
<path d="M359.3 172.5L406.6 172.5" stroke="#222" stroke-width="1.5" fill="none"/>
<text x="384.7" y="172.15" font-size="9" text-anchor="middle" style="font-weight:bold;stroke-width:0">***</text>
<path d="M359.3 181.1L379.7 181.1" stroke="#222" stroke-width="1.5" fill="none"/>
<text x="370" y="181.35" font-size="9" text-anchor="middle" style="font-weight:bold;stroke-width:0">*</text>
<path d="M382 181.1L430 181.1" stroke="#222" stroke-width="1.5" fill="none"/>
<text x="405" y="181.35" font-size="9" text-anchor="middle" style="font-weight:bold;stroke-width:0">**</text>
<rect x="432" y="163.4" width="10.2" height="9.9" stroke="none" stroke-width="0" fill="#cbcbcb"/>
<text x="444.2" y="171.68" font-size="9.5" text-anchor="start">Ctrl</text>
<rect x="432" y="180.3" width="10.2" height="9.9" stroke="none" stroke-width="0" fill="#4bada8"/>
<text x="444.2" y="188.58" font-size="9.5" text-anchor="start">HCC-m</text>
<text x="369.2" y="288.62" font-size="9.5" text-anchor="middle">WT</text>
<text x="415.3" y="288.62" font-size="9.5" text-anchor="middle">Jα18<tspan font-size="5.51" dy="-3.42">-/-</tspan></text>
<text x="4.1" y="326.75" font-size="25" text-anchor="start" style="stroke-width:.3px">D</text>
<text x="64.2" y="340.33" font-size="14.1" text-anchor="middle">WT</text>
<text x="190" y="340.33" font-size="14.1" text-anchor="middle">Jα18<tspan font-size="8.18" dy="-5.08">-/-</tspan></text>
<text x="305" y="340.33" font-size="14.1" text-anchor="middle">Jα18<tspan font-size="8.18" dy="-5.08">-/-</tspan><tspan dy="5.08">+HCC-m</tspan></text>
<text x="426.6" y="340.33" font-size="14.1" text-anchor="middle">iNKT tran+HCC-m</text>
<text x="13.9" y="350.69" font-size="9.4" text-anchor="start" style="stroke-width:0">Gated on CD45<tspan font-size="5.45" dy="-3.38">+</tspan><tspan dy="3.38">CD3</tspan><tspan font-size="5.45" dy="-3.38">+</tspan></text>
<rect x="13.9" y="354" width="101" height="100" stroke="#a8a8a8" stroke-width="1" fill="#fff"/>
<path d="M13.9 354V454H114.9" stroke="#3a3a3a" stroke-width="0.9" fill="none"/>
<path d="M16.9 454v1.5M23.97 454v1M28.01 454v1M31.04 454v1M33.46 454v1M35.48 454v1M37.1 454v1.5M44.17 454v1M48.21 454v1M51.24 454v1M53.66 454v1M55.68 454v1M57.3 454v1.5M64.37 454v1M68.41 454v1M71.44 454v1M73.86 454v1M75.88 454v1M77.5 454v1.5M84.57 454v1M88.61 454v1M91.64 454v1M94.06 454v1M96.08 454v1M97.7 454v1.5M104.77 454v1M108.81 454v1M111.84 454v1M12.6 450.5h2M13 445.9h1.5M13 441.3h1.5M13 436.7h1.5M13 432.1h1.5M12.6 427.5h2M13 422.9h1.5M13 418.3h1.5M13 413.7h1.5M13 409.1h1.5M12.6 404.5h2M13 399.9h1.5M13 395.3h1.5M13 390.7h1.5M13 386.1h1.5M12.6 381.5h2M13 376.9h1.5M13 372.3h1.5M13 367.7h1.5M13 363.1h1.5M12.6 358.5h2" stroke="#333" stroke-width="0.6" fill="none"/>
<path transform="translate(13.9,354) scale(.1)" d="M405 492h6M402 522h6M406 744h6M446 650h6M233 546h6M562 413h6M351 768h6M183 734h6M487 427h6M509 452h6M355 656h6M378 755h6M527 479h6M492 573h6M504 301h6M569 538h6M338 667h6M408 744h6M265 815h6M583 483h6M287 661h6M37 850h6M466 419h6M148 831h6M210 853h6M322 798h6M277 556h6M238 690h6M343 811h6M269 781h6M337 738h6M95 725h6M533 638h6M177 793h6M255 637h6M510 495h6M183 799h6M512 400h6M260 645h6M366 568h6M446 453h6M214 848h6M431 600h6M276 676h6M674 772h6M262 722h6M352 718h6M414 655h6M578 385h6M364 685h6M634 317h6M674 464h6M273 780h6M558 446h6M532 729h6M557 702h6M361 842h6M165 549h6M241 708h6M419 674h6M502 560h6M389 830h6M539 462h6M301 698h6M307 612h6M337 585h6M424 497h6M463 575h6M433 631h6M400 915h6M332 761h6M356 594h6M676 452h6M377 694h6M566 624h6M503 475h6M275 588h6M467 638h6M368 715h6M369 578h6M286 855h6M748 310h6M174 708h6M452 627h6M433 273h6M634 381h6M421 627h6M315 654h6M413 376h6M399 671h6M152 837h6M605 436h6M516 568h6M431 614h6M259 721h6M549 298h6M280 570h6M262 649h6M232 804h6M287 782h6M462 224h6M230 520h6M386 661h6M482 665h6M295 498h6M521 361h6M387 654h6M269 747h6M474 318h6M132 823h6M279 569h6M131 990h6M350 490h6M452 540h6M319 520h6M380 680h6M84 798h6M631 609h6M463 527h6M212 745h6M374 682h6M498 804h6M420 310h6M225 781h6M535 512h6M595 473h6M769 320h6M535 650h6M288 650h6M261 774h6M496 618h6M611 461h6M528 438h6M297 797h6M597 563h6M329 616h6M354 692h6M362 617h6M396 569h6M388 539h6M156 813h6M581 314h6M585 577h6M324 711h6M113 967h6M596 422h6M81 858h6M289 729h6M393 557h6M289 614h6M469 555h6M395 543h6M427 536h6M410 571h6M225 646h6M49 793h6M643 754h6M112 796h6M600 837h6M281 579h6M565 689h6M473 382h6M327 597h6M391 429h6M435 591h6M482 569h6M290 493h6M279 608h6M436 534h6M469 666h6M471 737h6M399 417h6M378 774h6M388 761h6M298 690h6M419 385h6M362 583h6M509 701h6M361 472h6M480 462h6M474 668h6M399 721h6M348 541h6M255 581h6M547 469h6M439 421h6M418 432h6M417 581h6M321 719h6M331 563h6M200 643h6M571 442h6M375 712h6M193 667h6M526 668h6M430 589h6M515 288h6M717 136h6M287 549h6M204 771h6M645 230h6M315 721h6M229 744h6M353 376h6M322 643h6M305 683h6M115 839h6M247 629h6M672 569h6M432 459h6M600 457h6M310 768h6M339 734h6M574 565h6M232 756h6M304 545h6M478 605h6M163 775h6M154 694h6M325 849h6M267 687h6M575 547h6M436 302h6M370 410h6M270 681h6M427 817h6M431 714h6M352 641h6M475 577h6M338 446h6M467 570h6M456 535h6M353 485h6M454 392h6M629 490h6M353 611h6M464 496h6M240 799h6M190 759h6M668 425h6M316 677h6M294 708h6M231 859h6M344 581h6M463 864h6M291 651h6M272 669h6M596 483h6M458 585h6M78 628h6M625 458h6M426 607h6M408 594h6M206 520h6M458 545h6M529 505h6M380 696h6M377 567h6M304 645h6M312 634h6M693 664h6M435 704h6M308 675h6M196 638h6M235 705h6M379 579h6M198 761h6M525 360h6M452 673h6M238 695h6M841 301h6M320 702h6M402 615h6M423 538h6M26 864h6M314 516h6M432 756h6M370 548h6M464 665h6M75 777h6M265 684h6M332 597h6M400 611h6M187 741h6M234 806h6M456 624h6M231 707h6M87 923h6M188 861h6M551 500h6M477 548h6M488 627h6" stroke="#1a1a1a" stroke-opacity="0.5249999999999999" stroke-width="6" fill="none"/>
<path transform="translate(13.9,354) scale(.1)" d="M617 734h6M510 561h6M590 502h6M548 256h6M605 311h6M483 316h6M568 299h6M561 522h6M536 390h6M571 631h6M497 287h6M487 312h6M512 417h6M368 653h6M472 378h6M392 153h6M458 473h6M588 177h6M545 660h6M509 574h6M551 305h6M598 351h6M554 382h6M514 462h6M621 195h6M451 455h6M597 413h6M516 517h6M639 308h6M417 399h6M582 249h6M608 577h6M584 317h6M439 535h6M547 540h6M435 10h6M607 585h6M510 439h6M561 549h6M516 365h6M461 589h6M553 357h6M440 366h6M440 374h6M491 514h6M458 175h6M487 240h6M581 410h6M412 313h6M527 434h6M400 421h6M550 583h6M606 422h6M438 386h6M574 306h6M617 300h6M450 560h6M522 486h6M508 444h6M488 715h6M575 422h6M562 561h6M492 465h6M543 358h6M475 411h6M508 381h6M393 451h6M575 450h6M649 565h6M504 342h6M564 386h6M416 457h6M508 407h6M572 468h6M670 332h6M522 485h6M498 365h6M651 229h6M553 185h6M553 161h6M447 605h6M636 458h6M339 587h6M546 279h6M504 248h6M522 427h6M538 554h6M484 120h6M447 257h6M503 376h6M526 638h6M531 284h6M508 313h6M512 524h6M450 542h6M654 660h6M642 453h6M435 730h6M525 473h6M504 304h6M572 238h6M433 520h6M503 318h6M564 645h6M509 420h6M568 575h6M601 538h6M483 517h6M529 195h6M615 523h6M624 431h6M580 430h6M540 571h6M533 528h6M527 617h6M574 201h6M645 503h6M493 350h6M668 453h6M565 526h6M487 692h6M676 328h6M608 205h6M506 449h6M533 522h6M557 494h6M520 484h6M490 723h6M533 619h6M536 419h6M516 254h6M674 500h6M538 373h6M618 393h6M497 362h6M636 485h6M519 348h6M618 482h6M506 569h6M590 297h6M609 597h6M512 249h6M605 391h6M515 399h6M510 560h6M453 517h6M610 592h6M579 478h6M516 423h6M468 680h6M521 295h6M587 657h6" stroke="#1a1a1a" stroke-opacity="0.5249999999999999" stroke-width="6" fill="none"/>
<path transform="translate(13.9,354) scale(.1)" d="M345 670h6M124 762h6M262 637h6M396 577h6M417 468h6M203 564h6M262 776h6M95 830h6M194 654h6M458 631h6M531 681h6M286 608h6M483 694h6M225 610h6M201 691h6M188 776h6M296 641h6M374 836h6M472 713h6M431 554h6M184 796h6M287 706h6M401 735h6M373 653h6M255 825h6M225 563h6M247 785h6M584 714h6M205 758h6M350 812h6M384 772h6M382 740h6M159 685h6M553 827h6M454 738h6M285 733h6M251 803h6M254 628h6M50 848h6M185 619h6M366 871h6M407 669h6M392 622h6M264 703h6M305 774h6M388 879h6M434 673h6M344 620h6M208 668h6M462 635h6M60 604h6M116 683h6M257 590h6M180 661h6M365 758h6M510 676h6M402 707h6M134 640h6M645 685h6M561 778h6M563 682h6M450 672h6M133 590h6M373 548h6M362 618h6M360 571h6M437 679h6M68 564h6M315 546h6M357 746h6M204 832h6M530 730h6M376 745h6M265 824h6M223 463h6M309 742h6M434 596h6M522 623h6M404 769h6M334 807h6M230 894h6M382 661h6M710 700h6M55 834h6M546 646h6M153 807h6M315 609h6M232 707h6M458 848h6M210 845h6M72 768h6M285 742h6M239 633h6M350 807h6M244 599h6M98 749h6M392 761h6M212 659h6M579 664h6M326 794h6M565 735h6M360 883h6M244 530h6M190 671h6M509 730h6M493 710h6M313 646h6M116 748h6M363 754h6M224 661h6M365 758h6M615 618h6M460 784h6M266 713h6M298 845h6M700 731h6M267 790h6M383 683h6M423 783h6M246 781h6M259 715h6M81 840h6M248 715h6M300 772h6M217 771h6M178 560h6M386 716h6M443 516h6M324 639h6M278 663h6M249 637h6M465 537h6M48 733h6M618 628h6M167 589h6M149 819h6M412 786h6M360 722h6M217 608h6M403 935h6M250 821h6M198 704h6M569 693h6M405 647h6M598 583h6M394 678h6M337 735h6M510 783h6M470 735h6M142 828h6M545 746h6M430 678h6M84 794h6M194 882h6M414 698h6M212 710h6M150 665h6M554 672h6M591 691h6M371 612h6M260 658h6M92 884h6M398 692h6M137 703h6M144 608h6M277 905h6M37 753h6M222 424h6M88 687h6M316 628h6M581 751h6M208 544h6M333 636h6M465 601h6M492 656h6M336 674h6M403 809h6M222 614h6M600 791h6M602 791h6M327 856h6M202 659h6M244 765h6M174 683h6M175 678h6M480 806h6M272 943h6M197 744h6M232 489h6M122 818h6M49 979h6M286 726h6M500 703h6M207 642h6M159 753h6M232 749h6M72 659h6M625 735h6M289 813h6M348 847h6M125 773h6M140 765h6M687 846h6M172 740h6M376 631h6M343 598h6M455 787h6M280 766h6M675 685h6M14 732h6M234 626h6M445 796h6M398 856h6M207 660h6M370 442h6M271 706h6M155 722h6M469 640h6M392 685h6M280 711h6M539 750h6M411 715h6M301 709h6M226 553h6M536 876h6M549 524h6M390 587h6M275 651h6" stroke="#1a1a1a" stroke-opacity="0.5249999999999999" stroke-width="6" fill="none"/>
<path transform="translate(13.9,354) scale(.1)" d="M137 763h7M157 888h7M463 901h7M226 813h7M192 824h7M137 811h7M351 807h7M108 815h7M240 819h7M189 882h7M221 743h7M310 767h7M340 892h7M298 850h7M30 809h7M245 877h7M63 813h7M239 835h7M469 885h7M199 778h7M162 889h7M361 784h7M210 790h7M328 841h7M121 753h7M418 711h7M525 781h7M352 871h7M350 918h7M158 824h7M371 871h7M116 764h7M15 846h7M148 699h7M145 852h7M254 807h7M251 878h7M50 759h7M370 885h7M20 766h7M440 886h7M205 908h7M429 940h7M22 720h7M152 821h7M175 845h7M445 915h7M373 825h7M470 862h7M263 824h7M223 898h7M561 810h7M55 908h7M262 748h7M369 826h7M87 620h7M80 856h7M74 904h7M552 851h7M260 819h7M354 828h7M380 941h7M353 747h7M325 804h7M273 904h7M129 842h7M444 758h7M198 884h7M193 908h7M77 704h7M283 814h7M273 903h7M382 797h7M170 668h7M82 845h7M259 705h7M343 822h7M390 797h7M370 736h7M330 858h7M326 961h7M342 867h7M172 747h7M76 814h7M313 773h7M271 883h7M223 980h7M180 766h7M327 810h7M273 815h7M356 824h7M260 819h7M95 646h7M307 725h7M286 877h7M506 765h7M249 902h7M127 778h7M293 992h7M387 902h7M84 878h7M396 723h7M228 810h7M322 685h7M331 825h7M187 655h7M323 860h7M338 688h7M257 934h7M118 869h7M241 694h7M71 928h7M210 925h7M277 897h7M168 843h7M171 898h7M141 914h7M460 727h7M201 869h7M490 918h7M239 686h7M351 778h7M255 858h7M17 911h7M362 872h7M315 854h7M19 784h7M347 799h7M230 855h7M239 846h7M298 825h7M63 804h7M368 771h7M296 850h7M95 599h7M224 763h7M133 900h7M112 853h7M244 841h7M522 667h7M369 814h7M185 772h7M232 829h7M90 957h7M116 814h7M38 837h7M279 912h7M372 785h7M464 817h7M456 963h7M166 739h7M306 940h7M285 913h7M314 896h7M422 802h7M16 816h7M109 730h7M201 882h7M344 754h7M168 934h7M392 854h7M306 607h7M308 856h7M20 840h7M294 816h7M343 896h7M234 805h7M51 916h7M141 851h7M453 887h7M38 818h7M121 693h7M107 872h7M276 809h7M252 732h7M112 812h7M344 800h7M201 852h7M443 724h7M305 840h7M215 845h7M191 726h7M351 816h7M175 886h7M90 768h7M348 895h7M524 789h7M11 706h7M49 834h7M191 771h7M77 769h7M172 920h7M318 935h7M347 886h7M400 861h7M453 916h7M494 842h7M184 867h7M170 769h7M290 736h7M202 938h7M244 891h7M320 856h7M241 874h7M82 872h7M67 765h7M139 718h7M300 878h7M552 839h7M336 765h7M330 734h7M517 748h7M165 885h7M85 841h7M370 838h7M363 785h7M313 651h7M449 772h7M97 826h7M476 769h7M222 796h7M87 721h7M312 882h7M114 843h7M291 855h7M200 829h7M266 740h7M204 889h7M142 930h7M189 737h7M181 717h7M315 698h7M227 806h7M180 859h7M267 780h7M346 789h7M358 932h7M280 899h7M27 870h7M328 611h7M109 763h7M85 827h7M319 733h7M133 677h7M120 658h7M354 760h7M276 763h7M382 965h7M130 787h7M456 951h7M222 876h7M182 813h7M268 700h7M332 864h7M233 696h7M155 700h7M515 854h7M332 841h7M167 920h7M355 876h7M310 884h7M183 860h7M236 805h7M160 921h7M73 810h7M376 819h7M276 728h7M55 958h7M247 818h7M20 742h7M72 821h7M207 776h7M125 834h7M397 713h7M14 915h7M13 792h7M242 971h7M212 911h7M245 760h7M252 660h7M346 944h7M194 891h7M68 943h7M129 761h7M111 683h7M324 985h7M13 809h7M291 780h7M373 833h7M66 801h7M404 914h7M211 860h7M147 836h7M136 838h7M148 841h7M327 824h7M32 865h7M188 785h7M307 758h7M362 870h7M122 769h7M206 752h7M364 644h7M246 797h7M62 876h7M153 862h7M160 802h7M301 902h7M372 823h7M443 798h7M23 675h7M11 756h7M229 822h7M259 816h7M187 800h7M230 735h7M413 949h7M81 897h7M114 906h7M241 901h7M314 867h7M184 953h7M277 864h7M436 804h7M482 912h7M236 709h7M404 800h7M239 835h7M365 876h7M276 839h7M342 871h7M464 767h7M417 856h7M269 880h7M175 883h7M194 883h7M112 919h7M217 845h7M107 793h7M262 909h7M415 787h7M215 800h7M391 717h7M646 904h7M480 840h7M459 779h7M412 886h7M340 885h7M311 877h7M401 859h7M318 860h7M245 755h7M42 706h7M327 799h7M339 788h7M281 809h7M461 928h7M267 969h7M347 897h7M53 776h7M250 808h7M148 664h7M115 817h7M271 739h7M206 971h7M249 667h7M198 826h7M412 841h7M428 852h7M398 934h7M452 841h7M45 841h7M296 769h7M347 812h7M342 841h7M88 910h7M521 900h7M267 686h7M273 823h7M109 671h7M291 904h7M221 940h7M221 747h7M217 861h7M117 762h7M265 896h7M191 865h7M151 798h7M254 904h7M459 815h7M292 984h7M348 796h7M286 710h7M120 717h7M377 789h7M239 831h7M196 731h7M510 665h7M221 882h7M196 817h7M271 845h7M177 913h7M300 947h7M240 665h7M293 693h7M143 926h7M275 768h7M210 835h7M164 800h7M133 843h7M458 943h7M209 712h7M8 837h7M260 774h7M109 808h7M264 880h7M308 633h7M139 847h7M281 890h7M9 952h7M52 809h7M158 787h7M113 892h7M342 854h7M40 775h7M218 858h7M146 804h7M610 831h7M183 627h7M117 958h7M350 729h7M341 839h7M111 890h7M138 801h7M230 843h7M163 850h7M227 841h7M283 774h7M27 820h7M406 852h7M259 766h7M60 725h7M93 795h7M223 683h7M147 844h7M282 888h7M175 814h7M193 870h7M126 812h7M248 797h7M69 935h7M299 752h7M512 764h7M100 796h7M305 947h7M426 870h7M236 879h7M113 769h7M304 842h7M261 743h7M263 709h7M361 826h7M133 788h7M125 936h7M229 846h7M88 720h7M261 790h7M300 911h7M210 869h7M252 845h7M152 845h7M290 832h7M161 708h7M72 952h7M374 850h7M269 814h7M326 903h7M191 851h7M365 698h7M91 779h7M58 790h7M104 794h7M296 731h7M241 937h7M255 727h7M139 920h7M189 775h7M340 768h7M66 875h7M230 773h7M294 915h7M383 834h7M293 866h7M12 960h7M131 780h7M108 748h7M385 826h7M143 678h7M251 822h7M78 818h7M51 866h7M241 654h7M65 773h7M341 874h7M318 961h7M185 785h7M308 758h7M101 903h7M413 681h7M295 825h7M358 798h7M210 940h7M141 860h7M318 817h7M353 868h7M347 688h7M78 850h7M396 942h7M229 765h7M69 668h7M155 873h7M217 706h7M213 830h7M119 944h7M290 915h7M242 747h7M383 915h7M143 718h7M345 780h7M60 819h7M307 765h7M232 906h7M335 700h7M330 970h7M360 819h7M280 698h7M143 784h7M526 826h7M87 963h7M404 692h7M198 689h7M377 642h7M494 740h7M304 855h7M351 746h7M353 803h7M302 845h7M426 722h7M27 879h7M567 870h7M203 880h7M53 833h7M331 964h7M155 901h7M420 741h7M188 675h7M101 861h7M331 942h7M139 639h7M81 874h7M224 883h7M184 879h7M87 747h7M204 684h7M405 806h7M86 756h7M88 836h7M174 896h7M62 820h7M11 788h7M422 816h7M355 821h7M70 754h7M65 854h7M466 895h7M87 835h7M123 921h7M33 888h7M51 788h7M251 837h7M218 821h7M103 817h7M217 750h7M308 840h7M119 932h7M145 671h7M408 795h7M437 861h7M99 917h7M293 901h7M233 953h7M360 798h7M11 822h7M236 745h7M199 948h7M159 918h7M93 746h7M361 812h7M258 910h7M460 725h7M310 844h7M247 972h7M192 777h7M299 660h7M279 753h7M273 765h7M299 806h7M124 870h7M334 695h7M41 804h7M172 934h7M454 865h7M383 799h7M30 850h7M263 921h7M134 694h7M197 866h7M195 784h7M237 810h7M426 719h7M265 700h7M220 862h7M274 850h7M118 707h7M363 797h7M29 953h7M332 596h7M597 838h7M273 927h7M228 689h7M202 791h7M267 810h7M306 726h7M147 783h7M285 686h7M240 907h7M233 847h7M278 863h7M53 815h7M487 942h7M104 748h7M201 912h7M357 777h7M438 880h7M311 872h7M490 915h7M433 731h7M151 825h7M222 820h7M588 809h7M197 816h7M176 709h7M386 827h7M277 828h7M113 695h7M184 869h7M208 885h7" stroke="#1a1a1a" stroke-opacity="0.7" stroke-width="7" fill="none"/>
<path transform="translate(13.9,354) scale(.1)" d="M254 757h7M312 732h7M336 773h7M282 757h7M274 776h7M307 713h7M227 740h7M290 753h7M274 753h7M347 799h7M408 765h7M316 741h7M425 688h7M336 705h7M284 778h7M259 741h7M221 796h7M307 758h7M235 734h7M370 705h7M334 683h7M191 713h7M337 757h7M409 745h7M181 769h7M262 735h7M280 725h7M217 786h7M300 715h7M287 704h7M280 741h7M276 753h7M210 744h7M266 787h7M234 745h7M417 669h7M269 728h7M399 707h7M343 775h7M209 733h7M376 716h7M286 778h7M328 796h7M235 791h7M375 733h7M277 741h7M289 773h7M278 749h7M363 704h7M317 729h7M272 679h7M254 780h7M257 744h7M341 800h7M245 739h7M205 810h7M288 719h7M294 780h7M370 717h7M387 730h7M289 776h7M325 756h7M352 789h7M235 790h7M274 838h7M268 747h7M302 739h7M404 683h7M335 761h7M379 665h7M302 694h7M354 763h7M269 749h7M381 714h7M345 702h7M280 740h7M374 649h7M297 799h7M284 712h7M315 726h7M304 758h7M328 674h7M338 774h7M223 781h7M245 796h7M249 758h7M286 766h7M206 744h7M335 771h7M280 768h7M321 734h7M294 726h7M307 781h7M349 761h7M263 767h7M246 725h7M353 703h7M297 694h7M287 745h7M296 780h7M333 729h7M311 721h7M258 755h7M241 768h7M314 775h7M314 821h7M275 761h7M293 724h7M274 694h7M361 688h7M275 691h7M318 687h7M368 668h7M270 782h7M350 645h7M228 839h7M307 684h7M288 773h7M303 794h7M264 768h7M394 744h7M326 749h7M283 749h7M276 769h7M338 685h7M236 779h7M425 682h7M311 735h7M194 775h7M361 634h7M391 649h7M463 747h7M390 688h7M330 706h7M280 760h7M127 857h7M269 720h7M297 767h7M264 775h7M226 786h7M247 798h7M251 791h7M189 809h7M356 682h7M294 715h7M343 746h7M391 740h7M369 678h7M318 751h7M295 698h7M461 746h7M268 666h7M408 676h7M421 638h7M346 745h7M214 777h7M342 743h7M287 655h7M168 827h7M374 646h7M341 753h7M222 728h7M313 719h7M295 738h7M301 753h7M272 756h7M257 734h7M311 706h7M334 722h7M376 722h7M185 804h7M344 722h7M322 769h7M323 681h7M324 765h7M293 700h7M358 732h7M374 708h7M323 760h7M265 823h7M330 733h7M360 738h7M188 837h7M285 722h7M371 737h7M316 711h7M295 710h7M442 641h7M380 757h7M245 753h7M168 806h7M228 787h7M290 748h7M298 726h7M309 735h7M256 755h7M250 723h7M273 689h7M334 722h7M331 767h7M353 697h7M342 762h7M300 756h7M312 698h7M314 720h7M294 761h7M328 694h7M285 743h7M253 781h7M280 727h7M357 708h7M233 775h7M297 754h7M444 683h7M385 689h7M338 739h7M301 750h7M287 774h7M276 817h7M63 821h7M301 755h7M287 691h7M315 702h7M309 722h7M264 707h7M218 767h7M244 781h7M224 791h7M324 702h7M241 761h7M371 754h7M431 673h7M342 726h7M286 711h7M299 783h7M375 679h7M237 845h7M312 752h7M266 696h7M307 703h7M277 732h7M324 816h7M362 638h7M205 776h7M276 783h7M384 670h7M333 716h7M205 837h7M393 661h7M332 706h7M290 731h7M295 746h7M271 768h7M239 805h7M219 719h7M347 704h7M286 783h7M331 796h7M306 687h7M263 738h7M312 797h7M489 701h7M338 741h7M279 673h7M415 751h7M272 756h7M258 758h7M235 737h7M345 647h7M346 675h7" stroke="#1a1a1a" stroke-opacity="0.7" stroke-width="7" fill="none"/>
<path transform="translate(13.9,354) scale(.1)" d="M491 592h7M536 692h7M628 699h7M516 857h7M455 709h7M450 847h7M518 892h7M432 699h7M497 747h7M519 903h7M510 712h7M501 720h7M471 976h7M537 973h7M493 785h7M440 815h7M540 860h7M445 802h7M549 745h7M538 742h7M503 734h7M429 709h7M512 763h7M503 734h7M547 774h7M523 744h7M568 781h7M525 637h7M470 824h7M438 645h7M497 635h7M558 835h7M488 912h7M470 674h7M549 793h7M492 894h7M497 856h7M514 907h7M531 745h7M578 756h7M590 666h7M506 570h7M529 925h7M484 838h7M492 934h7M520 827h7M558 641h7M538 805h7M568 795h7M534 786h7M454 742h7M495 660h7M501 745h7M594 768h7M510 801h7M538 632h7M417 949h7M462 704h7M562 821h7M464 866h7M447 953h7M488 825h7M503 982h7M456 782h7M610 590h7M479 819h7M493 836h7M561 679h7M471 922h7M601 527h7M531 890h7M470 706h7M447 772h7M447 862h7M470 843h7M426 880h7M537 885h7M552 797h7M584 757h7M512 954h7M481 792h7M516 810h7M492 892h7M611 754h7M431 746h7M435 666h7M452 897h7M512 862h7M498 893h7M484 921h7M548 814h7M431 683h7M517 689h7M496 776h7M573 724h7M511 746h7M466 835h7M552 651h7M512 844h7M452 752h7M519 783h7M573 705h7M492 844h7M500 768h7M498 832h7M541 688h7M459 680h7M526 608h7M626 738h7M504 841h7M495 767h7M606 597h7M517 719h7M487 786h7M413 853h7M514 847h7M474 866h7M481 869h7M571 854h7M433 799h7M453 984h7M514 666h7M428 923h7M454 833h7M488 778h7M482 793h7M584 706h7M530 840h7M471 684h7M460 849h7M512 893h7M522 804h7M505 815h7M506 858h7M461 898h7M585 783h7M532 676h7M509 651h7M554 797h7M558 903h7M468 873h7M499 846h7M473 855h7M534 935h7M497 798h7M529 776h7M607 574h7M419 743h7M539 794h7M525 643h7M534 846h7M586 873h7M474 720h7M448 745h7M499 916h7M587 800h7M534 776h7M440 845h7M468 634h7M463 939h7M447 926h7M436 786h7M530 753h7M456 793h7M588 857h7M514 849h7M563 923h7M491 706h7M455 799h7M489 793h7M470 933h7M462 716h7M446 686h7M423 712h7M492 861h7M415 836h7M499 792h7M396 840h7M538 905h7M490 914h7M508 703h7M530 888h7M516 790h7M492 858h7M414 822h7M440 742h7M515 914h7M504 702h7M641 824h7M369 783h7M468 733h7M509 662h7M548 802h7M484 813h7M446 812h7M522 909h7M605 731h7M523 715h7M510 905h7M537 764h7M595 880h7M566 801h7M571 778h7M548 797h7M504 641h7M554 849h7M473 799h7M535 855h7M400 938h7M453 979h7M562 806h7M515 820h7M484 941h7M470 741h7M493 637h7M557 677h7M581 885h7M606 735h7M489 749h7M545 705h7M488 566h7M507 813h7M605 711h7M553 849h7M549 684h7M328 745h7M553 810h7M469 753h7M582 629h7M377 820h7M521 942h7M542 789h7M476 612h7M531 733h7M485 825h7M401 784h7M473 989h7M498 904h7M454 637h7M550 758h7M436 899h7M530 623h7M493 990h7M510 659h7M462 930h7M581 861h7M427 875h7M462 743h7M479 900h7M531 850h7M482 742h7M560 732h7M490 848h7M495 891h7M533 857h7M623 739h7M612 665h7M464 544h7M470 713h7M541 919h7M624 740h7M559 774h7M409 376h7M486 598h7M549 699h7M538 726h7M529 697h7M525 975h7M524 655h7M464 806h7M546 668h7M458 630h7M595 822h7M521 748h7M603 851h7M499 915h7M535 764h7M486 793h7M576 649h7M419 861h7M559 939h7M534 641h7M547 810h7M452 631h7M425 799h7M438 828h7M496 857h7M549 700h7M485 867h7M471 895h7M535 884h7M474 872h7M493 815h7M537 736h7M502 551h7M469 855h7M449 578h7M431 762h7M539 846h7M431 833h7M441 903h7M525 728h7M480 784h7M475 911h7M520 734h7M528 652h7M512 759h7M475 786h7M516 643h7M545 732h7M523 961h7M449 961h7M486 985h7M462 898h7M475 920h7M550 826h7M462 898h7M523 682h7M533 775h7M498 692h7M515 880h7M462 874h7M412 803h7M518 695h7M512 658h7M599 832h7M560 697h7M390 783h7M572 776h7M563 833h7M521 899h7M475 750h7M560 838h7M477 682h7M579 462h7M550 777h7M439 833h7M519 535h7M458 870h7M480 786h7M500 938h7M521 776h7M472 895h7M470 834h7M525 868h7M544 821h7M603 872h7M467 699h7M470 927h7M450 952h7M526 732h7M455 782h7M542 784h7M540 809h7M572 742h7M498 677h7M489 690h7M430 769h7M538 563h7M441 649h7M523 849h7M520 773h7M466 811h7M462 768h7M524 766h7M563 570h7M426 893h7M476 744h7M477 786h7M497 829h7M550 981h7M400 780h7M461 814h7M455 799h7M518 788h7M516 859h7M452 787h7M556 887h7M552 707h7M472 892h7M504 822h7M487 885h7M513 691h7M522 756h7M491 849h7M511 733h7M447 746h7M498 670h7M473 798h7M444 759h7M516 808h7M421 795h7M456 903h7M499 953h7M522 673h7M551 742h7M499 802h7M441 911h7M512 687h7M437 839h7M563 833h7M519 749h7M558 847h7M465 730h7M399 909h7M650 780h7M526 869h7M455 707h7M583 885h7M541 781h7M502 807h7M525 731h7M555 969h7M478 696h7M457 929h7M471 716h7M557 775h7M502 864h7M560 816h7M580 724h7M479 862h7M536 617h7M489 862h7M496 974h7M427 813h7M463 631h7M493 786h7M484 729h7M546 687h7M474 651h7M561 644h7M588 700h7M502 957h7M452 926h7M440 746h7M531 827h7M520 825h7M581 630h7M470 881h7M432 723h7M624 929h7M529 801h7M496 704h7M461 694h7M442 807h7M525 698h7M511 659h7M522 761h7M501 813h7M568 815h7M472 809h7M523 847h7M556 711h7M446 857h7M449 839h7M638 920h7M432 710h7M523 765h7M538 818h7M520 850h7M427 909h7M435 704h7M386 794h7M524 756h7M445 573h7M532 677h7M486 818h7M501 835h7M586 866h7M454 790h7M493 707h7M536 755h7M516 859h7M607 732h7M583 825h7M468 810h7M473 752h7M419 765h7M405 894h7M530 753h7M506 806h7M492 824h7M495 840h7M464 801h7M587 712h7M464 890h7M520 810h7M513 753h7M478 846h7M513 860h7M509 937h7M553 718h7M583 738h7M554 718h7M522 811h7M575 577h7M409 895h7M542 744h7M509 619h7M486 729h7M548 821h7M497 913h7M472 873h7M493 842h7M490 938h7M544 712h7M482 932h7M577 673h7M513 859h7M622 864h7M495 890h7M508 709h7M502 774h7M494 805h7M522 718h7M538 637h7M538 846h7M526 646h7M480 818h7M528 873h7M428 799h7M558 680h7" stroke="#1a1a1a" stroke-opacity="0.7" stroke-width="7" fill="none"/>
<path transform="translate(13.9,354) scale(.1)" d="M482 667h7M507 679h7M548 712h7M463 743h7M517 747h7M514 779h7M518 666h7M482 752h7M511 589h7M537 774h7M458 730h7M532 800h7M547 651h7M527 740h7M475 783h7M528 747h7M491 746h7M513 677h7M515 717h7M474 696h7M524 598h7M560 852h7M532 696h7M486 629h7M481 750h7M491 708h7M502 751h7M548 752h7M532 761h7M560 644h7M521 657h7M516 683h7M517 740h7M479 539h7M522 761h7M504 786h7M575 701h7M509 728h7M535 606h7M528 572h7M486 710h7M523 624h7M515 775h7M470 731h7M548 615h7M546 724h7M506 698h7M513 699h7M509 652h7M539 800h7M509 783h7M493 619h7M531 711h7M526 639h7M504 759h7M557 713h7M525 537h7M497 776h7M565 647h7M446 728h7M479 671h7M498 674h7M488 737h7M522 617h7M472 823h7M529 710h7M469 828h7M486 704h7M523 653h7M517 669h7M459 613h7M497 665h7M526 798h7M508 830h7M502 704h7M508 595h7M512 684h7M492 743h7M525 678h7M490 715h7M492 645h7M501 755h7M506 687h7M505 733h7M510 748h7M510 749h7M506 652h7M525 685h7M502 785h7M500 650h7M505 785h7M478 768h7M527 673h7M505 653h7M459 641h7M476 600h7M502 734h7M488 677h7M493 685h7M524 771h7M529 720h7M550 741h7M526 732h7M535 635h7M490 703h7M466 681h7M504 717h7M532 777h7M450 711h7M522 785h7M496 723h7M509 640h7M520 756h7M504 703h7M542 686h7M504 716h7M525 723h7M546 725h7M481 599h7M510 800h7M514 671h7M520 730h7M546 620h7M533 709h7M535 764h7M453 754h7M526 650h7M509 762h7M473 752h7M534 805h7M490 660h7M539 681h7M524 539h7M576 585h7M469 728h7M526 648h7M454 731h7M519 642h7M516 663h7M485 741h7M513 700h7M480 655h7M505 661h7M522 700h7M507 687h7M523 760h7M484 756h7M536 746h7M498 711h7M569 617h7M535 682h7M557 706h7M535 660h7M499 796h7M479 666h7M506 621h7M529 623h7M514 683h7M454 707h7M471 699h7M450 665h7M534 715h7M542 797h7M532 686h7M509 736h7M479 634h7M512 804h7M483 713h7M494 742h7M522 696h7M537 682h7M468 826h7M509 717h7M533 648h7M500 651h7M528 722h7M518 618h7M490 609h7M476 652h7M520 728h7M464 736h7M522 795h7M535 605h7M525 712h7M521 653h7M551 703h7M497 586h7M506 613h7M473 797h7M511 757h7M542 743h7M501 625h7M508 705h7M509 679h7M516 609h7M541 625h7M516 643h7M549 663h7" stroke="#1a1a1a" stroke-opacity="0.7" stroke-width="7" fill="none"/>
<path transform="translate(13.9,354) scale(.1)" d="M432 801h7M463 740h7M426 790h7M461 617h7M464 991h7M445 895h7M446 695h7M441 872h7M429 807h7M437 856h7M491 834h7M426 948h7M443 798h7M457 883h7M452 853h7M451 741h7M461 891h7M434 701h7M438 841h7M472 844h7M392 783h7M449 845h7M422 802h7M450 878h7M462 947h7M436 797h7M440 864h7M483 841h7M451 761h7M426 956h7M447 930h7M462 792h7M452 762h7M459 817h7M462 918h7M438 886h7M456 790h7M453 918h7M451 898h7M454 919h7M446 804h7M459 662h7M439 939h7M435 962h7M476 792h7M435 856h7M464 955h7M475 776h7M463 791h7M467 862h7M473 821h7M463 735h7M431 865h7M450 892h7M488 782h7M428 751h7M437 912h7M455 806h7M460 815h7M453 826h7M425 887h7M451 989h7M450 784h7M451 775h7M448 800h7M454 760h7M446 797h7M431 822h7M460 880h7M454 819h7M465 807h7M460 701h7M427 774h7M468 808h7M456 747h7M477 955h7M449 779h7M453 809h7M440 646h7M452 666h7M439 715h7M483 733h7M441 854h7M443 845h7M465 780h7M458 817h7M425 847h7M430 902h7M449 839h7M466 766h7M435 931h7M461 858h7M414 828h7M432 782h7M420 706h7M441 854h7M440 813h7M450 925h7M438 836h7M497 824h7M463 739h7M430 793h7M503 780h7M474 789h7M426 688h7M451 903h7M435 796h7" stroke="#1a1a1a" stroke-opacity="0.7" stroke-width="7" fill="none"/>
<path transform="translate(13.9,354) scale(.1)" d="M19 782h7M87 794h7M21 867h7M63 825h7M120 847h7M91 750h7M52 908h7M78 885h7M7 810h7M108 920h7M98 878h7M97 652h7M57 878h7M94 767h7M88 878h7M38 928h7M95 884h7M40 846h7M54 932h7M133 774h7M119 856h7M33 782h7M104 848h7M33 816h7M42 820h7M113 785h7M44 637h7M71 887h7M121 789h7M45 803h7M14 828h7M29 813h7M60 875h7M57 979h7M66 861h7M72 822h7M86 837h7M11 794h7M103 726h7M112 835h7M63 906h7M62 798h7M17 871h7M58 768h7M93 883h7M128 844h7M15 834h7M80 883h7M12 857h7M77 852h7M51 813h7M85 803h7M71 777h7M54 896h7M38 825h7M8 751h7M74 900h7M34 815h7M66 799h7M57 802h7M75 795h7M39 741h7M30 734h7M50 889h7M13 773h7M30 855h7M45 806h7M24 810h7M43 776h7M101 857h7M50 846h7M130 865h7M37 824h7M93 855h7M46 832h7M18 806h7M42 811h7M100 828h7M93 826h7M37 819h7M91 913h7M60 905h7M39 866h7M25 887h7M37 867h7M16 915h7M109 810h7M57 766h7M49 736h7M79 822h7M93 826h7M48 774h7M76 818h7M16 734h7M86 819h7M53 792h7M38 825h7M62 752h7M136 882h7M92 786h7M10 859h7M35 825h7M109 826h7M99 777h7M42 867h7M70 703h7M18 799h7M31 786h7M44 835h7M25 900h7M49 734h7M71 883h7M70 829h7M75 924h7M77 887h7M39 912h7M32 846h7M81 769h7M40 692h7M44 745h7M57 796h7M33 805h7M41 825h7M46 896h7M90 671h7M99 812h7M67 769h7M75 860h7M37 756h7M72 852h7M25 694h7M19 850h7M97 765h7M36 758h7M67 776h7M110 861h7M49 800h7M88 801h7M43 831h7M90 912h7M44 750h7M26 814h7M76 664h7M76 850h7M62 734h7M58 793h7M25 862h7M96 836h7M74 886h7M57 799h7M104 787h7M46 845h7M42 766h7M91 823h7M33 789h7M75 874h7M62 895h7M55 921h7M85 755h7M53 844h7M55 764h7M71 820h7M8 746h7M43 881h7M55 836h7M86 811h7M56 820h7M85 784h7M68 780h7M59 891h7M31 854h7M58 838h7M73 829h7M72 934h7M34 759h7M80 848h7M120 787h7M79 791h7M41 788h7M30 767h7M46 815h7M58 874h7M28 819h7M28 875h7M27 803h7M31 889h7M18 755h7M44 803h7M27 893h7M39 698h7M50 745h7M36 795h7M28 799h7M44 862h7M136 782h7M42 893h7M110 872h7M48 941h7M59 897h7M39 750h7M98 771h7M23 833h7M27 865h7M59 812h7M39 913h7M99 893h7M15 924h7M59 928h7M73 784h7M94 797h7M108 747h7M76 818h7M12 847h7M44 807h7M35 815h7M30 948h7M43 837h7M46 901h7M74 885h7M8 834h7M51 863h7M35 833h7" stroke="#1a1a1a" stroke-opacity="0.7" stroke-width="7" fill="none"/>
<path d="M22.3 438C22.63 436.58 24.47 434.45 26.3 433C28.13 431.55 31.13 430.13 33.3 429.3C35.47 428.47 37.47 427.88 39.3 428C41.13 428.12 42.8 428.92 44.3 430C45.8 431.08 47.55 432.92 48.3 434.5C49.05 436.08 49.3 438.08 48.8 439.5C48.3 440.92 47.05 442.17 45.3 443C43.55 443.83 40.8 444.38 38.3 444.5C35.8 444.62 32.63 444.2 30.3 443.7C27.97 443.2 25.63 442.45 24.3 441.5C22.97 440.55 21.97 439.42 22.3 438Z" fill="#f3f3f3" stroke="#666" stroke-width="0.65"/>
<path d="M24.48 437.82C24.77 436.57 26.39 434.7 28 433.42C29.61 432.14 32.25 430.9 34.16 430.16C36.07 429.43 37.83 428.92 39.44 429.02C41.05 429.12 42.52 429.83 43.84 430.78C45.16 431.73 46.7 433.35 47.36 434.74C48.02 436.13 48.24 437.89 47.8 439.14C47.36 440.39 46.26 441.49 44.72 442.22C43.18 442.95 40.76 443.44 38.56 443.54C36.36 443.64 33.57 443.28 31.52 442.84C29.47 442.4 27.41 441.74 26.24 440.9C25.07 440.06 24.19 439.07 24.48 437.82Z" fill="none" stroke="#909090" stroke-width="0.4"/>
<path d="M26.61 437.74C26.86 436.66 28.26 435.04 29.65 433.94C31.04 432.84 33.32 431.76 34.97 431.13C36.62 430.49 38.14 430.05 39.53 430.14C40.92 430.23 42.19 430.84 43.33 431.66C44.47 432.48 45.8 433.88 46.37 435.08C46.94 436.28 47.13 437.8 46.75 438.88C46.37 439.96 45.42 440.91 44.09 441.54C42.76 442.17 40.67 442.59 38.77 442.68C36.87 442.77 34.46 442.45 32.69 442.07C30.92 441.69 29.14 441.12 28.13 440.4C27.12 439.68 26.36 438.82 26.61 437.74Z" fill="none" stroke="#909090" stroke-width="0.4"/>
<path d="M28.74 437.66C28.95 436.75 30.13 435.39 31.3 434.46C32.47 433.53 34.39 432.63 35.78 432.09C37.17 431.56 38.45 431.19 39.62 431.26C40.79 431.33 41.86 431.85 42.82 432.54C43.78 433.23 44.9 434.41 45.38 435.42C45.86 436.43 46.02 437.71 45.7 438.62C45.38 439.53 44.58 440.33 43.46 440.86C42.34 441.39 40.58 441.75 38.98 441.82C37.38 441.89 35.35 441.63 33.86 441.31C32.37 440.99 30.87 440.51 30.02 439.9C29.17 439.29 28.53 438.57 28.74 437.66Z" fill="#fafafa" stroke="#909090" stroke-width="0.4"/>
<path d="M30.87 437.58C31.04 436.84 32 435.73 32.95 434.98C33.9 434.23 35.46 433.49 36.59 433.06C37.72 432.62 38.76 432.32 39.71 432.38C40.66 432.44 41.53 432.86 42.31 433.42C43.09 433.98 44 434.94 44.39 435.76C44.78 436.58 44.91 437.62 44.65 438.36C44.39 439.1 43.74 439.75 42.83 440.18C41.92 440.61 40.49 440.9 39.19 440.96C37.89 441.02 36.24 440.8 35.03 440.54C33.82 440.28 32.6 439.89 31.91 439.4C31.22 438.91 30.7 438.32 30.87 437.58Z" fill="none" stroke="#909090" stroke-width="0.4"/>
<path d="M33 437.5C33.13 436.93 33.87 436.08 34.6 435.5C35.33 434.92 36.53 434.35 37.4 434.02C38.27 433.69 39.07 433.45 39.8 433.5C40.53 433.55 41.2 433.87 41.8 434.3C42.4 434.73 43.1 435.47 43.4 436.1C43.7 436.73 43.8 437.53 43.6 438.1C43.4 438.67 42.9 439.17 42.2 439.5C41.5 439.83 40.4 440.05 39.4 440.1C38.4 440.15 37.13 439.98 36.2 439.78C35.27 439.58 34.33 439.28 33.8 438.9C33.27 438.52 32.87 438.07 33 437.5Z" fill="none" stroke="#909090" stroke-width="0.4"/>
<ellipse cx="41.3" cy="436.9" rx="2.1" ry="1" fill="#fff" stroke="none" stroke-width="0.5" opacity="1"/>
<ellipse cx="15.4" cy="436" rx="1.7" ry="6" fill="#222" stroke="none" stroke-width="0.5" opacity="0.9"/>
<ellipse cx="17.3" cy="436.5" rx="1.8" ry="4.2" fill="#444" stroke="none" stroke-width="0.5" opacity="0.55"/>
<path d="M66.5 423.2C67.58 423.2 68.5 426.2 69.3 428.2C70.1 430.2 71 433.03 71.3 435.2C71.6 437.37 71.6 439.45 71.1 441.2C70.6 442.95 69.52 444.78 68.3 445.7C67.08 446.62 65.22 446.95 63.8 446.7C62.38 446.45 60.72 445.45 59.8 444.2C58.88 442.95 58.3 441.03 58.3 439.2C58.3 437.37 59.05 435.03 59.8 433.2C60.55 431.37 61.68 429.87 62.8 428.2C63.92 426.53 65.42 423.2 66.5 423.2Z" fill="#efefef" stroke="#4a4a4a" stroke-width="0.7"/>
<ellipse cx="64.8" cy="439" rx="5.5" ry="7.3" fill="#5e5e5e" stroke="none" stroke-width="0.5" opacity="0.95" transform="rotate(12 64.8 439)"/>
<ellipse cx="64.8" cy="439.1" rx="4.3" ry="5.9" fill="#858585" stroke="#454545" stroke-width="0.5" opacity="1" transform="rotate(12 64.8 439.1)"/>
<ellipse cx="64.8" cy="439.2" rx="3.2" ry="4.5" fill="#6c6c6c" stroke="#3e3e3e" stroke-width="0.5" opacity="1" transform="rotate(12 64.8 439.2)"/>
<ellipse cx="64.8" cy="439.3" rx="2" ry="3" fill="#949494" stroke="#4a4a4a" stroke-width="0.45" opacity="1" transform="rotate(12 64.8 439.3)"/>
<ellipse cx="64.8" cy="439.4" rx="0.9" ry="1.6" fill="#c6c6c6" stroke="#666" stroke-width="0.35" opacity="1" transform="rotate(12 64.8 439.4)"/>
<rect x="52.6" y="415.3" width="28.6" height="35.5" stroke="#1a1a1a" stroke-width="1.35" fill="none"/>
<text x="66.6" y="407.56" font-size="9.6" text-anchor="middle" style="stroke-width:.03px">56.4</text>
<text transform="translate(8.18,404.7) rotate(-90)" font-size="8.8" text-anchor="middle">SSC</text>
<rect x="135.8" y="354" width="101" height="100" stroke="#a8a8a8" stroke-width="1" fill="#fff"/>
<path d="M135.8 354V454H236.8" stroke="#3a3a3a" stroke-width="0.9" fill="none"/>
<path d="M138.8 454v1.5M145.87 454v1M149.91 454v1M152.94 454v1M155.36 454v1M157.38 454v1M159 454v1.5M166.07 454v1M170.11 454v1M173.14 454v1M175.56 454v1M177.58 454v1M179.2 454v1.5M186.27 454v1M190.31 454v1M193.34 454v1M195.76 454v1M197.78 454v1M199.4 454v1.5M206.47 454v1M210.51 454v1M213.54 454v1M215.96 454v1M217.98 454v1M219.6 454v1.5M226.67 454v1M230.71 454v1M233.74 454v1M134.5 450.5h2M134.9 445.9h1.5M134.9 441.3h1.5M134.9 436.7h1.5M134.9 432.1h1.5M134.5 427.5h2M134.9 422.9h1.5M134.9 418.3h1.5M134.9 413.7h1.5M134.9 409.1h1.5M134.5 404.5h2M134.9 399.9h1.5M134.9 395.3h1.5M134.9 390.7h1.5M134.9 386.1h1.5M134.5 381.5h2M134.9 376.9h1.5M134.9 372.3h1.5M134.9 367.7h1.5M134.9 363.1h1.5M134.5 358.5h2" stroke="#333" stroke-width="0.6" fill="none"/>
<path transform="translate(135.8,354) scale(.1)" d="M233 724h6M397 536h6M265 719h6M453 598h6M202 746h6M167 707h6M770 375h6M456 504h6M595 600h6M590 497h6M411 899h6M538 569h6M453 593h6M220 562h6M783 543h6M489 595h6M430 667h6M358 632h6M352 425h6M539 406h6M493 583h6M699 511h6M152 729h6M297 492h6M454 527h6M335 775h6M212 696h6M436 675h6M333 623h6M382 569h6M200 925h6M515 624h6M427 632h6M74 756h6M207 952h6M376 797h6M407 533h6M315 583h6M343 702h6M435 499h6M248 904h6M282 815h6M122 767h6M162 930h6M638 759h6M630 379h6M96 882h6M435 611h6M332 537h6M460 784h6M281 671h6M181 743h6M557 485h6M286 668h6M445 478h6M252 710h6M320 780h6M441 689h6M467 851h6M434 536h6M281 451h6M94 647h6M482 798h6M324 486h6M198 856h6M444 527h6M581 444h6M695 406h6M473 179h6M525 572h6M609 462h6M449 591h6M439 633h6M480 306h6M222 592h6M317 721h6M424 624h6M499 554h6M324 661h6M207 740h6M387 662h6M240 908h6M264 537h6M391 683h6M360 586h6M273 759h6M415 623h6M404 755h6M137 870h6M34 722h6M452 655h6M365 693h6M425 723h6M331 740h6M314 483h6M488 432h6M182 738h6M459 486h6M414 463h6M295 483h6M419 748h6M316 709h6M244 975h6M372 686h6M255 614h6M305 654h6M227 757h6M213 728h6M427 600h6M367 686h6M618 420h6M381 607h6M456 623h6M526 530h6M285 703h6M358 815h6M178 619h6M287 605h6M405 612h6M162 646h6M243 593h6M356 666h6M329 693h6M423 787h6M70 799h6M436 403h6M436 534h6M278 542h6M306 676h6M93 916h6M166 549h6M366 588h6M246 904h6M278 577h6M271 768h6M341 749h6M222 814h6M458 604h6M201 681h6M225 790h6M407 744h6M409 757h6M397 730h6M513 519h6M230 826h6M365 594h6M380 707h6M134 941h6M529 379h6M493 443h6M304 651h6M313 589h6M274 698h6M243 752h6M442 447h6M341 561h6M216 785h6M391 733h6M460 547h6M367 803h6M148 759h6M483 563h6M429 539h6M531 611h6M151 920h6M422 443h6M265 781h6M442 552h6M168 862h6M326 625h6M359 368h6M338 583h6M417 538h6M595 419h6M192 604h6M326 667h6M587 450h6M329 554h6M329 547h6M212 846h6M222 610h6M586 559h6M316 474h6M195 684h6M610 809h6M472 508h6M168 658h6M281 740h6M364 697h6M358 495h6M471 526h6M560 414h6M311 673h6M553 504h6M578 543h6M553 732h6M338 630h6M433 415h6M468 651h6M131 633h6M256 887h6M626 250h6M119 726h6M613 473h6M406 498h6M403 499h6M390 510h6M176 769h6M439 596h6M354 759h6" stroke="#1a1a1a" stroke-opacity="0.46499999999999997" stroke-width="6" fill="none"/>
<path transform="translate(135.8,354) scale(.1)" d="M419 147h6M568 412h6M525 368h6M563 468h6M621 296h6M443 416h6M511 390h6M383 488h6M642 487h6M612 522h6M546 493h6M602 502h6M573 426h6M478 486h6M501 519h6M378 694h6M618 658h6M555 280h6M502 263h6M557 437h6M540 162h6M428 112h6M625 508h6M533 382h6M408 379h6M501 311h6M598 137h6M541 553h6M585 213h6M339 638h6M627 411h6M512 484h6M604 452h6M507 466h6M557 736h6M532 299h6M662 655h6M632 296h6M491 232h6M523 630h6M596 442h6M547 507h6M522 280h6M484 679h6M467 267h6M571 385h6M508 458h6M523 191h6M597 467h6M650 560h6M493 370h6M483 109h6M583 335h6M600 461h6M525 674h6M468 694h6M507 752h6M613 359h6M654 498h6M557 377h6M530 375h6M510 553h6M590 619h6M617 425h6M585 399h6M573 528h6M560 319h6M452 688h6M479 345h6M561 380h6M563 638h6M428 450h6M576 230h6M585 654h6M537 507h6M514 581h6M499 438h6M488 331h6M614 429h6M596 202h6M453 304h6M666 609h6M688 371h6M576 491h6M517 525h6M533 508h6M412 283h6M466 685h6M595 295h6M569 353h6M457 301h6M740 451h6M528 621h6M554 274h6M683 762h6M590 312h6M531 454h6M459 826h6M536 355h6M516 389h6M361 458h6M615 470h6M565 426h6M414 524h6M582 285h6M457 351h6M444 72h6M507 350h6M543 613h6M472 208h6" stroke="#1a1a1a" stroke-opacity="0.46499999999999997" stroke-width="6" fill="none"/>
<path transform="translate(135.8,354) scale(.1)" d="M285 764h6M529 791h6M323 703h6M30 766h6M425 691h6M254 739h6M371 749h6M368 549h6M214 536h6M427 951h6M177 685h6M341 629h6M569 718h6M640 922h6M378 624h6M509 672h6M174 678h6M479 620h6M266 784h6M257 785h6M494 649h6M116 582h6M501 752h6M313 660h6M469 651h6M729 729h6M49 802h6M342 697h6M272 815h6M224 850h6M181 787h6M65 792h6M147 674h6M419 622h6M384 698h6M506 786h6M339 679h6M159 835h6M263 575h6M174 513h6M163 654h6M338 787h6M430 520h6M224 756h6M353 695h6M175 766h6M285 673h6M281 675h6M347 804h6M310 635h6M280 682h6M376 771h6M557 784h6M32 614h6M100 726h6M667 741h6M210 832h6M396 617h6M147 840h6M418 493h6M180 751h6M85 696h6M160 534h6M216 645h6M341 529h6M338 661h6M46 814h6M227 737h6M543 737h6M445 717h6M205 716h6M49 744h6M428 739h6M190 579h6M179 669h6M71 884h6M169 709h6M222 709h6M292 693h6M359 645h6M426 718h6M288 698h6M463 693h6M542 709h6M334 697h6M343 742h6M197 774h6M702 749h6M314 619h6M175 617h6M337 630h6M549 655h6M154 608h6M280 683h6M443 626h6M348 789h6M250 528h6M333 796h6M358 697h6M266 581h6M242 712h6M302 609h6M676 818h6M454 758h6M232 582h6M93 801h6M308 855h6M369 643h6M435 632h6M251 748h6M320 724h6M329 797h6M160 501h6M149 461h6M603 632h6M288 729h6M172 648h6M336 697h6M423 673h6M188 554h6M27 722h6M344 657h6M487 434h6M397 581h6M241 674h6M175 669h6M339 930h6M294 766h6M425 604h6M371 657h6M436 640h6M465 609h6M220 779h6M456 781h6M611 796h6M293 788h6M163 775h6M357 682h6M180 800h6M70 663h6M224 616h6M197 724h6M607 866h6M264 655h6M391 615h6M58 791h6M229 845h6M348 554h6M341 744h6M304 563h6M55 878h6M422 872h6M397 694h6M355 808h6M210 821h6M334 717h6M364 727h6M148 848h6M217 670h6M384 687h6M278 660h6M393 633h6M59 538h6" stroke="#1a1a1a" stroke-opacity="0.46499999999999997" stroke-width="6" fill="none"/>
<path transform="translate(135.8,354) scale(.1)" d="M79 848h7M413 869h7M97 712h7M322 864h7M190 874h7M287 864h7M397 694h7M102 778h7M51 986h7M252 857h7M317 802h7M324 805h7M311 869h7M393 696h7M62 759h7M76 854h7M343 793h7M359 896h7M111 877h7M413 782h7M242 874h7M276 818h7M198 755h7M490 952h7M179 751h7M264 956h7M206 754h7M340 844h7M81 804h7M224 730h7M243 929h7M357 927h7M312 815h7M292 925h7M207 866h7M108 824h7M129 734h7M230 761h7M225 894h7M288 871h7M472 840h7M386 776h7M68 779h7M137 898h7M313 825h7M69 836h7M140 792h7M600 828h7M531 789h7M616 820h7M321 967h7M347 972h7M230 697h7M226 750h7M327 646h7M57 727h7M219 911h7M158 715h7M127 811h7M375 834h7M408 586h7M9 773h7M278 843h7M247 809h7M76 740h7M133 681h7M185 865h7M129 937h7M233 903h7M70 842h7M250 793h7M359 834h7M204 836h7M348 960h7M132 826h7M556 805h7M132 746h7M356 846h7M94 948h7M166 844h7M176 838h7M11 640h7M28 782h7M175 817h7M138 913h7M167 751h7M409 814h7M367 871h7M162 908h7M143 621h7M138 807h7M390 875h7M235 937h7M218 929h7M362 776h7M295 919h7M246 789h7M335 921h7M201 868h7M224 846h7M258 790h7M314 855h7M463 850h7M220 720h7M542 804h7M127 801h7M204 815h7M458 783h7M169 786h7M294 685h7M353 793h7M206 767h7M317 818h7M117 906h7M209 830h7M73 706h7M133 848h7M141 850h7M165 803h7M196 853h7M173 785h7M349 921h7M375 885h7M271 834h7M316 767h7M183 850h7M181 718h7M189 788h7M106 875h7M364 830h7M30 808h7M175 734h7M111 834h7M114 860h7M97 833h7M205 779h7M359 672h7M232 876h7M165 817h7M30 818h7M227 772h7M204 791h7M48 815h7M84 895h7M83 939h7M198 819h7M91 858h7M47 692h7M266 646h7M373 777h7M438 841h7M448 699h7M135 843h7M117 827h7M177 876h7M416 640h7M296 724h7M447 697h7M75 864h7M175 878h7M257 756h7M169 812h7M155 799h7M91 825h7M239 717h7M333 775h7M176 779h7M262 814h7M117 757h7M268 851h7M136 854h7M227 651h7M113 840h7M392 853h7M14 895h7M159 889h7M381 841h7M228 811h7M231 735h7M388 887h7M347 814h7M329 902h7M582 910h7M88 754h7M333 862h7M285 825h7M78 832h7M547 881h7M71 748h7M567 875h7M123 869h7M152 732h7M223 863h7M399 716h7M426 800h7M353 865h7M328 746h7M280 684h7M454 853h7M278 828h7M298 838h7M60 791h7M177 852h7M543 686h7M524 785h7M137 814h7M537 731h7M145 866h7M348 853h7M220 903h7M53 952h7M127 852h7M61 770h7M355 868h7M174 888h7M696 617h7M76 821h7M437 680h7M304 796h7M428 849h7M88 785h7M211 962h7M217 778h7M142 891h7M156 967h7M339 834h7M219 794h7M435 804h7M246 709h7M172 836h7M191 826h7M356 880h7M324 773h7M125 822h7M254 822h7M216 920h7M167 713h7M306 938h7M352 825h7M134 902h7M104 815h7M10 836h7M393 859h7M87 698h7M316 863h7M176 944h7M314 773h7M209 810h7M202 931h7M398 742h7M505 689h7M309 919h7M225 864h7M103 944h7M173 778h7M279 825h7M470 874h7M255 757h7M288 703h7M88 937h7M246 726h7M106 811h7M252 839h7M330 576h7M316 667h7M134 833h7M365 771h7M14 780h7M95 917h7M291 810h7M251 954h7M160 729h7M208 720h7M239 895h7M149 900h7M390 976h7M150 872h7M329 891h7M351 864h7M312 900h7M280 872h7M249 818h7M211 778h7M137 928h7M165 636h7M125 814h7M395 849h7M285 779h7M118 692h7M302 826h7M97 829h7M375 901h7M328 920h7M243 824h7M205 864h7M211 751h7M120 920h7M146 816h7M433 744h7M199 789h7M127 809h7M290 802h7M349 885h7M42 829h7M178 717h7M251 925h7M445 888h7M262 930h7M186 792h7M355 878h7M127 790h7M148 783h7M115 781h7M224 827h7M326 618h7M226 962h7M213 775h7M509 781h7M310 844h7M183 741h7M230 841h7M482 699h7M155 918h7M431 751h7M70 810h7M449 808h7M323 810h7M42 845h7M267 762h7M500 823h7M271 702h7M128 843h7M318 872h7M34 916h7M223 819h7M194 755h7M256 814h7M175 842h7M169 807h7M375 881h7M215 834h7M410 713h7M237 840h7M151 760h7M79 820h7M344 798h7M32 858h7M387 849h7M135 791h7M155 736h7M342 797h7M494 922h7M131 758h7M262 793h7M186 861h7M84 818h7M163 947h7M304 815h7M48 811h7M82 793h7M256 889h7M355 775h7M231 820h7M356 897h7M240 866h7M180 820h7M244 724h7M146 891h7M310 839h7M286 759h7M429 654h7M152 761h7M134 842h7M220 903h7M489 865h7M64 825h7M87 759h7M143 901h7M84 851h7M91 895h7M377 706h7M315 753h7M254 816h7M331 721h7M490 852h7M107 928h7M408 867h7M128 758h7M70 956h7M213 822h7M149 924h7M150 894h7M254 746h7M491 656h7M262 868h7M271 819h7M245 773h7M201 972h7M201 914h7M408 778h7M493 702h7M128 818h7M165 874h7M187 873h7M82 695h7M477 846h7M263 730h7M273 820h7M277 835h7M361 939h7M151 793h7M313 706h7M98 795h7M164 807h7M27 869h7M136 727h7M255 950h7M530 808h7M98 956h7M239 901h7M451 878h7M253 983h7M171 774h7M179 670h7M175 859h7M146 823h7M361 715h7M137 854h7M141 821h7M236 673h7M316 864h7M58 810h7M190 803h7M211 700h7M213 859h7M262 862h7M119 836h7M349 831h7M237 830h7" stroke="#1a1a1a" stroke-opacity="0.62" stroke-width="7" fill="none"/>
<path transform="translate(135.8,354) scale(.1)" d="M298 687h7M293 765h7M237 785h7M250 744h7M202 753h7M334 661h7M272 698h7M418 691h7M218 736h7M272 758h7M408 724h7M227 779h7M330 690h7M269 781h7M200 787h7M275 735h7M261 695h7M328 700h7M434 728h7M284 808h7M359 671h7M286 781h7M234 755h7M109 786h7M202 760h7M243 771h7M294 721h7M204 792h7M321 718h7M361 682h7M340 719h7M389 740h7M186 730h7M352 714h7M299 716h7M256 798h7M305 710h7M291 746h7M195 767h7M317 727h7M204 795h7M415 690h7M196 772h7M235 740h7M225 752h7M260 709h7M345 718h7M416 698h7M350 722h7M261 715h7M326 720h7M250 773h7M295 712h7M366 679h7M308 765h7M248 749h7M307 716h7M237 726h7M293 722h7M350 740h7M294 762h7M265 807h7M249 755h7M254 739h7M333 714h7M242 791h7M295 755h7M291 721h7M170 792h7M248 803h7M293 787h7M442 695h7M416 635h7M238 729h7M184 750h7M327 689h7M273 767h7M282 796h7M368 720h7M394 699h7M312 764h7M328 669h7M367 731h7M177 871h7M315 773h7M216 785h7M230 741h7M280 692h7M293 760h7M223 736h7M332 746h7M332 695h7M280 791h7M343 720h7M296 728h7M332 739h7M291 746h7M198 783h7M385 693h7M195 774h7M311 776h7M414 668h7M278 749h7M237 813h7M223 800h7M242 728h7M329 775h7M214 787h7M258 792h7M177 755h7M242 719h7M322 668h7M281 725h7M337 693h7M298 792h7M343 753h7M378 707h7M279 685h7M174 787h7M319 761h7M233 757h7M395 642h7M272 744h7M264 804h7M184 786h7M172 777h7M350 635h7M183 797h7M296 709h7M309 721h7M262 756h7M342 668h7M341 720h7M261 728h7M317 751h7M238 792h7M299 762h7M298 726h7M307 751h7M197 789h7M140 827h7M256 757h7M359 733h7M385 718h7M260 726h7M432 637h7M269 764h7M237 772h7M289 719h7M222 776h7M296 700h7M294 739h7M237 781h7M215 811h7M256 792h7M292 739h7M214 806h7M250 837h7M314 732h7M296 758h7M318 736h7M335 708h7M361 646h7M193 811h7M261 701h7M201 761h7M371 716h7M164 760h7M275 703h7M239 745h7M296 755h7M234 750h7M325 776h7M304 717h7M340 706h7M211 804h7M368 656h7M313 682h7M278 740h7M262 749h7M319 704h7M266 740h7M292 714h7M337 723h7M230 726h7M283 777h7M324 720h7M431 715h7M337 761h7M264 739h7M271 682h7M279 726h7M375 711h7M373 676h7M377 695h7" stroke="#1a1a1a" stroke-opacity="0.62" stroke-width="7" fill="none"/>
<path transform="translate(135.8,354) scale(.1)" d="M537 833h7M444 882h7M486 856h7M507 700h7M493 822h7M494 957h7M572 803h7M491 933h7M511 906h7M439 603h7M549 882h7M501 778h7M533 845h7M506 796h7M522 898h7M546 545h7M528 765h7M565 863h7M482 786h7M389 782h7M453 806h7M472 913h7M576 760h7M464 919h7M440 760h7M490 818h7M512 706h7M555 830h7M526 946h7M606 819h7M488 768h7M503 691h7M473 745h7M536 865h7M382 639h7M478 690h7M508 625h7M497 813h7M530 752h7M531 866h7M491 693h7M483 822h7M524 631h7M432 638h7M602 835h7M519 680h7M400 989h7M541 556h7M592 831h7M507 818h7M556 602h7M524 670h7M488 773h7M487 722h7M518 755h7M523 866h7M465 775h7M465 872h7M547 892h7M564 805h7M458 720h7M572 806h7M551 738h7M498 978h7M560 641h7M473 807h7M564 887h7M553 911h7M545 875h7M464 677h7M483 915h7M579 689h7M495 801h7M539 825h7M586 819h7M498 769h7M565 769h7M536 753h7M449 587h7M494 716h7M551 757h7M461 863h7M486 800h7M469 940h7M524 771h7M504 593h7M574 794h7M569 713h7M584 730h7M511 987h7M483 795h7M501 804h7M517 779h7M532 751h7M578 859h7M450 742h7M492 885h7M409 900h7M408 733h7M465 760h7M550 882h7M504 773h7M459 906h7M428 729h7M545 969h7M493 835h7M477 814h7M400 855h7M482 834h7M502 700h7M429 698h7M507 863h7M567 887h7M615 889h7M602 870h7M526 628h7M559 780h7M489 665h7M574 792h7M487 718h7M505 836h7M540 804h7M520 800h7M487 904h7M502 738h7M598 703h7M486 805h7M500 785h7M559 890h7M440 974h7M448 694h7M544 696h7M447 873h7M535 830h7M582 893h7M485 748h7M531 753h7M523 878h7M523 658h7M594 787h7M527 636h7M507 670h7M591 748h7M438 781h7M461 799h7M460 628h7M499 764h7M468 859h7M553 784h7M505 828h7M557 811h7M451 854h7M632 855h7M526 739h7M430 842h7M539 836h7M517 916h7M503 613h7M502 810h7M549 848h7M545 837h7M524 681h7M493 890h7M594 538h7M501 752h7M553 605h7M480 811h7M467 627h7M605 769h7M512 852h7M607 725h7M501 761h7M558 883h7M591 751h7M446 732h7M410 827h7M403 834h7M454 834h7M585 782h7M502 797h7M476 826h7M496 808h7M467 844h7M526 710h7M505 659h7M435 686h7M529 755h7M506 819h7M494 775h7M466 851h7M496 966h7M449 784h7M529 746h7M619 818h7M530 632h7M530 677h7M537 828h7M502 739h7M466 732h7M588 716h7M493 832h7M438 753h7M567 817h7M537 862h7M507 566h7M548 847h7M385 772h7M582 682h7M557 932h7M502 767h7M456 854h7M521 846h7M505 797h7M477 896h7M501 912h7M555 722h7M450 892h7M529 758h7M562 599h7M538 759h7M546 737h7M484 858h7M528 655h7M535 860h7M423 701h7M449 699h7M472 974h7M456 702h7M495 919h7M487 884h7M562 753h7M529 888h7M520 948h7M528 945h7M456 815h7M384 656h7M479 754h7M497 842h7M433 629h7M547 822h7M557 873h7M524 743h7M534 703h7M440 761h7M623 700h7M577 776h7M597 745h7M447 731h7M498 846h7M471 812h7M630 795h7M469 791h7M491 818h7M467 764h7M546 793h7M408 902h7M527 976h7M465 826h7M461 868h7M478 916h7M513 584h7M449 856h7M546 889h7M534 748h7M514 797h7M508 889h7M460 763h7M576 780h7M536 741h7M511 916h7M591 796h7M475 936h7M410 774h7M562 780h7M504 787h7M459 753h7M524 630h7M466 508h7M556 803h7M422 650h7M471 950h7M532 685h7M481 635h7M458 627h7M601 859h7M575 835h7M469 887h7M532 723h7M422 788h7M444 764h7M402 615h7M557 844h7M515 766h7M517 700h7M548 944h7M476 643h7M508 626h7M610 782h7M529 809h7M481 720h7M451 983h7M511 895h7M585 763h7M481 753h7M527 696h7M557 767h7M468 859h7M582 705h7M498 775h7M535 867h7M501 702h7M476 876h7M604 809h7M567 720h7M441 702h7M662 912h7M455 716h7M488 666h7M538 685h7M495 847h7M494 886h7M480 905h7M473 733h7M431 823h7M543 792h7M582 853h7M526 630h7M498 825h7M445 933h7M524 937h7M442 966h7M579 804h7M489 949h7M456 770h7M566 783h7M465 678h7M482 914h7M651 695h7M443 852h7M498 749h7M500 921h7M548 717h7M534 671h7M566 592h7M485 879h7M597 841h7M404 771h7M556 853h7M528 735h7M406 744h7M516 725h7M462 828h7M490 808h7M564 720h7M560 680h7M554 830h7M534 862h7M519 620h7M596 812h7M518 796h7M528 768h7M437 675h7M601 851h7M451 948h7M522 681h7M467 726h7M568 865h7M494 767h7M470 802h7M453 877h7M502 884h7M590 820h7M554 490h7M459 815h7M461 897h7M490 773h7M396 858h7M481 918h7M535 785h7M554 764h7M464 786h7M495 898h7M471 685h7M579 879h7" stroke="#1a1a1a" stroke-opacity="0.62" stroke-width="7" fill="none"/>
<path transform="translate(135.8,354) scale(.1)" d="M508 699h7M472 789h7M503 563h7M515 721h7M537 706h7M525 681h7M516 677h7M589 695h7M522 569h7M517 725h7M538 599h7M516 785h7M513 680h7M535 686h7M503 653h7M469 702h7M535 727h7M497 716h7M489 594h7M536 616h7M479 672h7M509 783h7M548 815h7M524 594h7M482 707h7M479 717h7M548 726h7M470 758h7M567 753h7M586 643h7M515 742h7M547 780h7M514 650h7M513 649h7M521 671h7M540 650h7M545 645h7M553 764h7M518 678h7M528 718h7M489 733h7M466 621h7M484 703h7M495 551h7M549 657h7M509 711h7M529 726h7M482 710h7M546 736h7M560 605h7M553 605h7M487 703h7M585 763h7M515 697h7M550 618h7M509 656h7M553 725h7M528 764h7M512 637h7M545 582h7M527 690h7M473 703h7M494 773h7M541 745h7M547 691h7M550 728h7M535 756h7M575 591h7M506 604h7M483 733h7M491 679h7M503 750h7M565 699h7M499 657h7M513 594h7M484 703h7M526 702h7M528 648h7M516 631h7M526 572h7M534 706h7M507 701h7M548 695h7M574 764h7M522 680h7M485 628h7M525 699h7M529 792h7M531 715h7M512 627h7M506 686h7M539 733h7M490 685h7M540 607h7M512 605h7M500 761h7M529 821h7M490 746h7M514 597h7M525 705h7M511 764h7M510 736h7M519 660h7M530 755h7M560 763h7M471 613h7M512 763h7M466 700h7M486 739h7M548 676h7M557 736h7M515 778h7M579 687h7M526 712h7M542 668h7M513 763h7M516 771h7M527 794h7M561 624h7M539 678h7M503 744h7M549 724h7M550 790h7M530 729h7M533 782h7M495 689h7M486 659h7M530 672h7M498 679h7M551 817h7M523 649h7M525 656h7M529 734h7M574 648h7M516 643h7M550 636h7M556 800h7M472 758h7M584 700h7M518 814h7M514 687h7M494 732h7M557 647h7" stroke="#1a1a1a" stroke-opacity="0.62" stroke-width="7" fill="none"/>
<path transform="translate(135.8,354) scale(.1)" d="M470 859h7M483 817h7M441 840h7M463 805h7M438 868h7M426 743h7M452 729h7M464 711h7M451 853h7M479 765h7M460 907h7M440 850h7M475 901h7M453 849h7M442 862h7M462 788h7M498 869h7M440 826h7M463 751h7M438 876h7M453 820h7M473 806h7M428 746h7M452 811h7M448 763h7M423 807h7M462 843h7M433 781h7M458 656h7M467 817h7M512 817h7M453 824h7M450 777h7M474 847h7M460 805h7M420 791h7M414 780h7M461 805h7M456 934h7M465 894h7M449 801h7M429 927h7M475 819h7M463 841h7M479 859h7M453 750h7M410 660h7M450 907h7M442 807h7M466 936h7M412 813h7M445 881h7M447 702h7M412 706h7M447 749h7M429 962h7M427 802h7M476 823h7M417 824h7M454 917h7M439 716h7M447 745h7M458 868h7M453 819h7M432 726h7M460 921h7M436 673h7M453 841h7M439 690h7M479 690h7M463 882h7M478 819h7M471 805h7M468 916h7M454 701h7M462 612h7" stroke="#1a1a1a" stroke-opacity="0.62" stroke-width="7" fill="none"/>
<path transform="translate(135.8,354) scale(.1)" d="M100 788h7M37 885h7M84 855h7M36 869h7M60 804h7M29 854h7M31 904h7M61 723h7M116 741h7M35 800h7M61 909h7M41 794h7M97 824h7M80 828h7M38 788h7M23 777h7M61 822h7M81 832h7M68 773h7M113 808h7M83 772h7M26 849h7M83 860h7M91 830h7M50 831h7M26 803h7M80 792h7M80 821h7M52 860h7M93 807h7M63 945h7M75 792h7M28 797h7M93 701h7M76 799h7M76 836h7M30 880h7M23 795h7M47 830h7M130 721h7M52 769h7M46 800h7M72 870h7M57 896h7M44 748h7M43 854h7M78 770h7M97 869h7M109 868h7M18 860h7M59 739h7M84 810h7M68 924h7M98 800h7M79 887h7M60 890h7M74 798h7M101 811h7M39 802h7M16 715h7M66 693h7M46 870h7M66 848h7M46 768h7M64 872h7M53 884h7M60 748h7M37 820h7M28 811h7M86 825h7M89 852h7M38 830h7M85 791h7M34 899h7M82 864h7M38 814h7M68 850h7M84 759h7M84 765h7M24 796h7M38 888h7M94 953h7M33 834h7M98 721h7M81 939h7M87 781h7M52 834h7M33 763h7M93 773h7M90 760h7M29 687h7M34 802h7M83 738h7M55 893h7M81 914h7M51 734h7M56 857h7M21 806h7M54 958h7M34 777h7M49 787h7M57 794h7M15 783h7M100 818h7M62 867h7M66 771h7M27 874h7M47 851h7M42 878h7M50 840h7M74 703h7M85 905h7M40 727h7M68 772h7M23 919h7M52 760h7M13 849h7M66 849h7M18 784h7M54 801h7M57 805h7M53 836h7M76 903h7M54 702h7M102 733h7M63 897h7M75 905h7M56 959h7M72 726h7M79 806h7M90 782h7M83 747h7M46 819h7M92 776h7M66 893h7M52 838h7M118 822h7M79 901h7M103 899h7M36 848h7M9 751h7M45 806h7M37 779h7M110 745h7M72 749h7M66 774h7M93 900h7M46 814h7M66 731h7M41 724h7M36 825h7M45 931h7" stroke="#1a1a1a" stroke-opacity="0.62" stroke-width="7" fill="none"/>
<path d="M142.2 438C142.53 436.58 144.37 434.45 146.2 433C148.03 431.55 151.03 430.13 153.2 429.3C155.37 428.47 157.37 427.88 159.2 428C161.03 428.12 162.7 428.92 164.2 430C165.7 431.08 167.45 432.92 168.2 434.5C168.95 436.08 169.2 438.08 168.7 439.5C168.2 440.92 166.95 442.17 165.2 443C163.45 443.83 160.7 444.38 158.2 444.5C155.7 444.62 152.53 444.2 150.2 443.7C147.87 443.2 145.53 442.45 144.2 441.5C142.87 440.55 141.87 439.42 142.2 438Z" fill="#e8e8e8" stroke="#666" stroke-width="0.65"/>
<path d="M144.38 437.82C144.67 436.57 146.29 434.7 147.9 433.42C149.51 432.14 152.15 430.9 154.06 430.16C155.97 429.43 157.73 428.92 159.34 429.02C160.95 429.12 162.42 429.83 163.74 430.78C165.06 431.73 166.6 433.35 167.26 434.74C167.92 436.13 168.14 437.89 167.7 439.14C167.26 440.39 166.16 441.49 164.62 442.22C163.08 442.95 160.66 443.44 158.46 443.54C156.26 443.64 153.47 443.28 151.42 442.84C149.37 442.4 147.31 441.74 146.14 440.9C144.97 440.06 144.09 439.07 144.38 437.82Z" fill="none" stroke="#909090" stroke-width="0.4"/>
<path d="M146.51 437.74C146.76 436.66 148.16 435.04 149.55 433.94C150.94 432.84 153.22 431.76 154.87 431.13C156.52 430.49 158.04 430.05 159.43 430.14C160.82 430.23 162.09 430.84 163.23 431.66C164.37 432.48 165.7 433.88 166.27 435.08C166.84 436.28 167.03 437.8 166.65 438.88C166.27 439.96 165.32 440.91 163.99 441.54C162.66 442.17 160.57 442.59 158.67 442.68C156.77 442.77 154.36 442.45 152.59 442.07C150.82 441.69 149.04 441.12 148.03 440.4C147.02 439.68 146.26 438.82 146.51 437.74Z" fill="none" stroke="#909090" stroke-width="0.4"/>
<path d="M148.64 437.66C148.85 436.75 150.03 435.39 151.2 434.46C152.37 433.53 154.29 432.63 155.68 432.09C157.07 431.56 158.35 431.19 159.52 431.26C160.69 431.33 161.76 431.85 162.72 432.54C163.68 433.23 164.8 434.41 165.28 435.42C165.76 436.43 165.92 437.71 165.6 438.62C165.28 439.53 164.48 440.33 163.36 440.86C162.24 441.39 160.48 441.75 158.88 441.82C157.28 441.89 155.25 441.63 153.76 441.31C152.27 440.99 150.77 440.51 149.92 439.9C149.07 439.29 148.43 438.57 148.64 437.66Z" fill="#f0f0f0" stroke="#909090" stroke-width="0.4"/>
<path d="M150.77 437.58C150.94 436.84 151.9 435.73 152.85 434.98C153.8 434.23 155.36 433.49 156.49 433.06C157.62 432.62 158.66 432.32 159.61 432.38C160.56 432.44 161.43 432.86 162.21 433.42C162.99 433.98 163.9 434.94 164.29 435.76C164.68 436.58 164.81 437.62 164.55 438.36C164.29 439.1 163.64 439.75 162.73 440.18C161.82 440.61 160.39 440.9 159.09 440.96C157.79 441.02 156.14 440.8 154.93 440.54C153.72 440.28 152.5 439.89 151.81 439.4C151.12 438.91 150.6 438.32 150.77 437.58Z" fill="none" stroke="#909090" stroke-width="0.4"/>
<path d="M152.9 437.5C153.03 436.93 153.77 436.08 154.5 435.5C155.23 434.92 156.43 434.35 157.3 434.02C158.17 433.69 158.97 433.45 159.7 433.5C160.43 433.55 161.1 433.87 161.7 434.3C162.3 434.73 163 435.47 163.3 436.1C163.6 436.73 163.7 437.53 163.5 438.1C163.3 438.67 162.8 439.17 162.1 439.5C161.4 439.83 160.3 440.05 159.3 440.1C158.3 440.15 157.03 439.98 156.1 439.78C155.17 439.58 154.23 439.28 153.7 438.9C153.17 438.52 152.77 438.07 152.9 437.5Z" fill="none" stroke="#909090" stroke-width="0.4"/>
<ellipse cx="161.2" cy="436.9" rx="2.1" ry="1" fill="#fff" stroke="none" stroke-width="0.5" opacity="1"/>
<ellipse cx="137.3" cy="436" rx="1.7" ry="6" fill="#222" stroke="none" stroke-width="0.5" opacity="0.9"/>
<ellipse cx="139.2" cy="436.5" rx="1.8" ry="4.2" fill="#444" stroke="none" stroke-width="0.5" opacity="0.55"/>
<ellipse cx="188" cy="436.68" rx="5.89" ry="9.69" fill="#c4c4c4" stroke="#7a7a7a" stroke-width="0.5" opacity="0.9" transform="rotate(14 188 436.68)"/>
<ellipse cx="187.7" cy="437.63" rx="5.42" ry="8.36" fill="#a4a4a4" stroke="#6a6a6a" stroke-width="0.4" opacity="0.9" transform="rotate(14 187.7 437.63)"/>
<ellipse cx="187.2" cy="438.96" rx="5.22" ry="6.93" fill="#5e5e5e" stroke="none" stroke-width="0.5" opacity="0.95" transform="rotate(12 187.2 438.96)"/>
<ellipse cx="187.2" cy="439.06" rx="4.08" ry="5.61" fill="#858585" stroke="#454545" stroke-width="0.5" opacity="1" transform="rotate(12 187.2 439.06)"/>
<ellipse cx="187.2" cy="439.15" rx="3.04" ry="4.27" fill="#6c6c6c" stroke="#3e3e3e" stroke-width="0.5" opacity="1" transform="rotate(12 187.2 439.15)"/>
<ellipse cx="187.2" cy="439.25" rx="1.9" ry="2.85" fill="#949494" stroke="#4a4a4a" stroke-width="0.45" opacity="1" transform="rotate(12 187.2 439.25)"/>
<ellipse cx="187.2" cy="439.34" rx="0.85" ry="1.52" fill="#c6c6c6" stroke="#666" stroke-width="0.35" opacity="1" transform="rotate(12 187.2 439.34)"/>
<rect x="175.5" y="415.3" width="28.5" height="35.5" stroke="#1a1a1a" stroke-width="1.35" fill="none"/>
<text x="190" y="407.56" font-size="9.6" text-anchor="middle" style="stroke-width:.03px">51.9</text>
<text transform="translate(129.68,404.7) rotate(-90)" font-size="8.8" text-anchor="middle">SSC</text>
<rect x="255.1" y="354" width="101" height="100" stroke="#a8a8a8" stroke-width="1" fill="#fff"/>
<path d="M255.1 354V454H356.1" stroke="#3a3a3a" stroke-width="0.9" fill="none"/>
<path d="M258.1 454v1.5M265.17 454v1M269.21 454v1M272.24 454v1M274.66 454v1M276.68 454v1M278.3 454v1.5M285.37 454v1M289.41 454v1M292.44 454v1M294.86 454v1M296.88 454v1M298.5 454v1.5M305.57 454v1M309.61 454v1M312.64 454v1M315.06 454v1M317.08 454v1M318.7 454v1.5M325.77 454v1M329.81 454v1M332.84 454v1M335.26 454v1M337.28 454v1M338.9 454v1.5M345.97 454v1M350.01 454v1M353.04 454v1M253.8 450.5h2M254.2 445.9h1.5M254.2 441.3h1.5M254.2 436.7h1.5M254.2 432.1h1.5M253.8 427.5h2M254.2 422.9h1.5M254.2 418.3h1.5M254.2 413.7h1.5M254.2 409.1h1.5M253.8 404.5h2M254.2 399.9h1.5M254.2 395.3h1.5M254.2 390.7h1.5M254.2 386.1h1.5M253.8 381.5h2M254.2 376.9h1.5M254.2 372.3h1.5M254.2 367.7h1.5M254.2 363.1h1.5M253.8 358.5h2" stroke="#333" stroke-width="0.6" fill="none"/>
<path transform="translate(255.1,354) scale(.1)" d="M427 496h6M383 558h6M375 825h6M319 607h6M553 405h6M343 312h6M400 452h6M387 730h6M466 230h6M540 415h6M384 752h6M326 601h6M336 636h6M383 759h6M543 333h6M283 702h6M283 732h6M400 598h6M302 740h6M184 771h6M363 643h6M480 493h6M273 784h6M412 689h6M701 489h6M312 560h6M398 576h6M179 625h6M469 398h6M587 546h6M281 774h6M273 538h6M304 715h6M460 442h6M419 715h6M280 632h6M203 857h6M221 655h6M268 636h6M732 183h6M397 433h6M517 525h6M475 815h6M180 681h6M279 714h6M477 508h6M211 665h6M567 367h6M604 374h6M305 647h6M498 603h6M363 703h6M99 693h6M134 810h6M335 757h6M303 641h6M241 569h6M338 914h6M360 449h6M238 812h6M277 648h6M411 445h6M235 824h6M258 763h6M100 857h6M526 279h6M361 622h6M385 593h6M432 476h6M265 762h6M289 474h6M452 494h6M508 487h6M187 768h6M538 592h6M396 686h6M573 458h6M613 464h6M169 672h6M380 843h6M475 401h6M510 757h6M270 734h6M388 723h6M149 901h6M479 668h6M461 586h6M271 769h6M430 806h6M425 578h6M405 604h6M370 716h6M319 565h6M548 546h6M504 439h6M604 588h6M493 556h6M271 526h6M241 756h6M555 510h6M324 707h6M318 589h6M432 679h6M202 750h6M309 561h6M287 776h6M671 331h6M416 792h6M276 480h6M181 572h6M434 757h6M866 552h6M491 464h6M270 683h6M177 708h6M437 581h6M397 584h6M222 858h6M437 669h6M337 535h6M558 541h6M395 701h6M410 529h6M363 541h6M531 408h6M627 604h6M434 655h6M454 300h6M705 367h6M232 796h6" stroke="#1a1a1a" stroke-opacity="0.44999999999999996" stroke-width="6" fill="none"/>
<path transform="translate(255.1,354) scale(.1)" d="M689 459h6M635 605h6M494 499h6M661 324h6M546 360h6M502 414h6M390 347h6M419 298h6M499 601h6M462 577h6M510 327h6M421 468h6M533 564h6M496 129h6M577 648h6M541 464h6M573 484h6M719 429h6M575 581h6M576 185h6M567 394h6M469 587h6M493 507h6M490 536h6M632 316h6M484 587h6M476 605h6M566 307h6M500 646h6M598 468h6M554 612h6M496 498h6M571 648h6M513 418h6M558 413h6M521 530h6M505 405h6M557 465h6M513 433h6M455 333h6M489 281h6M644 766h6M522 432h6M529 392h6M500 584h6M576 251h6M554 321h6M583 331h6M560 335h6M526 502h6M587 238h6M500 322h6M421 483h6M523 401h6M482 715h6M477 50h6M514 490h6M463 425h6M378 407h6M543 303h6M462 285h6M501 605h6M545 352h6M504 563h6M491 310h6M592 444h6M630 408h6M517 509h6" stroke="#1a1a1a" stroke-opacity="0.44999999999999996" stroke-width="6" fill="none"/>
<path transform="translate(255.1,354) scale(.1)" d="M332 707h6M150 636h6M179 653h6M505 612h6M374 747h6M53 805h6M337 740h6M332 803h6M362 637h6M201 617h6M176 617h6M337 800h6M268 806h6M480 771h6M39 443h6M472 752h6M77 628h6M336 701h6M95 697h6M66 677h6M399 730h6M208 766h6M608 674h6M321 558h6M426 540h6M265 794h6M394 374h6M171 459h6M253 555h6M657 822h6M142 671h6M310 800h6M522 769h6M97 384h6M54 585h6M423 568h6M505 781h6M312 785h6M186 807h6M316 642h6M174 492h6M248 755h6M235 656h6M574 991h6M84 827h6M296 700h6M168 675h6M349 744h6M208 647h6M404 853h6M232 754h6M418 738h6M153 704h6M314 589h6M309 700h6M188 868h6M349 615h6M491 672h6M140 580h6M472 582h6M353 748h6M209 776h6M467 694h6M301 769h6M313 835h6M423 710h6M337 661h6M407 628h6M295 574h6M683 731h6M310 749h6M34 848h6M38 765h6M239 777h6M404 728h6M462 670h6M340 670h6M192 591h6M361 875h6M166 651h6M190 741h6M183 599h6M340 721h6M348 825h6M76 814h6M387 948h6M523 753h6M547 785h6M289 576h6M310 552h6M175 660h6M368 637h6M291 698h6M344 763h6M378 672h6M327 637h6M107 642h6M298 495h6M426 738h6M49 596h6M158 468h6M21 744h6" stroke="#1a1a1a" stroke-opacity="0.44999999999999996" stroke-width="6" fill="none"/>
<path transform="translate(255.1,354) scale(.1)" d="M449 961h7M299 927h7M436 741h7M478 757h7M157 598h7M161 677h7M593 858h7M364 783h7M372 873h7M152 873h7M146 713h7M137 772h7M434 812h7M272 827h7M268 834h7M169 709h7M238 800h7M49 805h7M400 746h7M348 688h7M538 890h7M98 861h7M52 715h7M149 755h7M269 714h7M280 865h7M352 882h7M333 918h7M428 919h7M414 709h7M172 954h7M114 891h7M395 944h7M114 847h7M194 882h7M414 824h7M387 951h7M241 789h7M122 720h7M143 809h7M378 765h7M99 820h7M179 937h7M220 951h7M231 595h7M186 727h7M218 744h7M370 800h7M162 784h7M159 890h7M258 828h7M414 772h7M341 898h7M269 781h7M193 924h7M59 909h7M306 863h7M305 783h7M491 831h7M356 808h7M162 921h7M53 823h7M77 684h7M383 827h7M612 919h7M180 858h7M170 846h7M196 843h7M139 901h7M17 674h7M236 876h7M349 690h7M517 881h7M195 917h7M495 914h7M252 799h7M125 787h7M14 857h7M391 800h7M348 885h7M197 821h7M469 759h7M101 789h7M90 876h7M319 801h7M325 667h7M381 735h7M366 768h7M320 887h7M334 880h7M255 798h7M353 859h7M163 925h7M482 774h7M151 733h7M16 842h7M381 700h7M179 856h7M120 903h7M320 822h7M417 858h7M405 881h7M177 960h7M105 861h7M165 754h7M447 924h7M239 881h7M265 880h7M298 923h7M246 780h7M216 816h7M93 982h7M170 816h7M231 869h7M192 824h7M223 816h7M403 749h7M91 872h7M186 908h7M232 984h7M390 745h7M399 753h7M272 794h7M314 799h7M77 759h7M195 925h7M144 821h7M151 718h7M155 771h7M418 842h7M433 820h7M246 950h7M296 834h7M300 857h7M409 773h7M141 748h7M422 884h7M168 877h7M539 896h7M205 744h7M417 800h7M78 792h7M582 791h7M504 620h7M351 805h7M248 773h7M269 884h7M168 897h7M345 725h7M520 841h7M364 952h7M70 734h7M160 989h7M489 899h7M58 793h7M185 836h7M28 830h7M139 866h7M58 779h7M241 885h7M232 842h7M193 772h7M147 750h7M307 861h7M190 751h7M151 811h7M388 796h7M253 768h7M327 802h7M76 658h7M161 795h7M411 716h7M117 718h7M347 849h7M155 879h7M243 783h7M208 878h7M372 978h7M264 831h7M233 754h7M189 874h7M152 799h7M392 826h7M245 843h7M225 807h7M385 852h7M156 719h7M386 808h7M311 781h7M15 877h7M409 683h7M246 816h7M135 871h7M221 988h7M66 792h7M263 887h7M216 924h7M407 861h7M366 965h7M250 901h7M153 801h7M338 683h7M185 751h7M259 876h7M250 944h7M232 934h7M256 650h7M212 749h7M156 619h7M176 796h7M32 805h7M351 832h7M329 749h7M500 746h7M13 843h7M314 938h7M339 909h7M117 639h7M462 724h7M323 898h7M165 740h7M435 826h7M243 837h7M272 879h7M245 910h7M210 709h7M85 874h7M68 845h7M341 769h7M211 717h7M11 868h7M251 730h7M145 766h7M161 770h7M133 711h7M149 931h7M181 882h7M160 789h7M454 848h7M121 886h7M167 789h7M230 719h7M286 808h7M174 853h7M157 915h7M71 851h7M189 628h7M52 782h7M287 714h7M120 782h7M371 905h7M44 758h7M95 640h7M581 760h7M263 781h7M164 692h7M37 810h7M99 882h7M123 857h7M295 720h7M410 806h7M615 776h7M380 886h7M213 905h7M31 890h7M206 876h7M314 834h7M436 704h7M150 912h7M41 887h7M218 849h7M324 722h7M340 885h7M25 733h7M448 784h7" stroke="#1a1a1a" stroke-opacity="0.6" stroke-width="7" fill="none"/>
<path transform="translate(255.1,354) scale(.1)" d="M341 716h7M190 752h7M302 792h7M372 663h7M183 796h7M331 692h7M314 763h7M218 849h7M382 695h7M320 747h7M261 786h7M287 716h7M283 736h7M275 777h7M356 741h7M276 775h7M303 798h7M243 806h7M233 710h7M318 679h7M238 768h7M317 723h7M322 735h7M211 831h7M372 676h7M332 709h7M238 761h7M164 788h7M350 747h7M326 732h7M269 790h7M415 687h7M402 686h7M293 774h7M297 730h7M262 763h7M267 696h7M350 773h7M323 742h7M340 748h7M335 706h7M232 792h7M312 711h7M285 763h7M381 671h7M237 771h7M238 753h7M255 805h7M324 731h7M440 778h7M344 745h7M245 789h7M234 719h7M310 711h7M378 685h7M265 726h7M283 744h7M321 698h7M234 735h7M247 752h7M275 727h7M338 690h7M307 729h7M318 731h7M268 754h7M261 754h7M377 726h7M363 673h7M373 714h7M329 712h7M387 658h7M289 695h7M283 761h7M313 740h7M358 668h7M205 827h7M199 782h7M446 685h7M301 771h7M255 789h7M260 735h7M227 756h7M337 783h7M366 736h7M313 793h7M311 784h7M230 798h7M226 766h7M256 696h7M319 730h7M190 794h7M264 700h7M271 791h7M266 749h7M284 738h7M227 772h7M179 809h7M256 714h7M207 796h7M258 738h7M264 765h7M350 695h7M166 779h7M244 784h7M366 714h7M258 795h7M250 722h7M314 804h7M282 722h7M327 694h7M374 723h7M209 772h7M260 730h7M312 722h7M400 693h7M365 737h7M333 749h7M268 791h7M369 738h7M253 743h7" stroke="#1a1a1a" stroke-opacity="0.6" stroke-width="7" fill="none"/>
<path transform="translate(255.1,354) scale(.1)" d="M571 786h7M641 844h7M454 856h7M525 606h7M483 576h7M646 677h7M470 760h7M472 913h7M499 653h7M551 826h7M441 885h7M445 704h7M587 744h7M515 711h7M497 592h7M497 715h7M559 749h7M470 745h7M416 832h7M422 671h7M525 761h7M615 655h7M530 969h7M480 663h7M564 976h7M473 875h7M546 804h7M554 766h7M545 767h7M504 685h7M510 782h7M467 720h7M493 931h7M537 858h7M579 861h7M597 932h7M549 783h7M519 784h7M475 641h7M534 660h7M548 964h7M518 700h7M480 852h7M508 750h7M526 678h7M461 831h7M476 854h7M488 800h7M505 917h7M499 801h7M456 806h7M505 822h7M410 854h7M517 823h7M533 892h7M464 741h7M525 646h7M625 595h7M540 745h7M545 940h7M608 723h7M516 718h7M444 805h7M481 671h7M496 733h7M455 812h7M540 829h7M478 704h7M397 861h7M562 707h7M444 675h7M584 773h7M491 799h7M513 761h7M504 855h7M560 685h7M506 785h7M547 865h7M508 846h7M574 911h7M472 809h7M531 688h7M496 747h7M558 797h7M613 845h7M491 819h7M518 715h7M531 658h7M523 747h7M518 725h7M600 728h7M553 799h7M572 726h7M449 860h7M566 856h7M320 958h7M586 796h7M468 842h7M426 762h7M544 926h7M493 772h7M444 780h7M478 794h7M475 836h7M508 727h7M542 844h7M500 775h7M554 841h7M505 982h7M488 668h7M480 813h7M425 975h7M559 700h7M532 670h7M511 770h7M591 614h7M488 611h7M488 762h7M513 893h7M467 740h7M586 796h7M464 795h7M457 708h7M486 647h7M603 754h7M524 768h7M507 714h7M534 750h7M470 881h7M589 835h7M539 761h7M519 861h7M514 920h7M584 815h7M524 712h7M491 730h7M495 706h7M532 824h7M505 949h7M525 787h7M522 735h7M551 705h7M511 983h7M527 691h7M456 902h7M419 951h7M579 748h7M526 747h7M466 834h7M478 850h7M529 733h7M517 797h7M504 771h7M574 723h7M520 891h7M533 753h7M455 767h7M414 750h7M512 918h7M544 891h7M536 815h7M433 738h7M501 784h7M450 646h7M522 766h7M513 771h7M501 683h7M556 830h7M511 956h7M477 871h7M510 794h7M556 792h7M512 679h7M527 830h7M491 681h7M561 806h7M571 786h7M641 678h7M549 806h7M525 773h7M541 873h7M517 695h7M561 886h7M454 815h7M589 851h7M488 819h7M530 690h7M499 762h7M496 918h7M424 697h7M477 911h7M508 768h7M502 940h7M610 815h7M464 767h7M425 880h7M503 897h7M483 723h7M405 817h7M566 590h7M459 785h7M565 969h7M595 819h7M441 715h7M538 794h7M473 785h7M497 847h7M528 864h7M478 932h7M580 841h7M458 692h7M503 781h7M469 781h7M435 775h7M445 819h7M389 722h7M491 656h7M490 773h7M578 857h7M492 869h7M509 868h7M491 818h7M496 881h7M600 943h7M583 778h7M592 765h7M511 709h7M559 641h7M508 857h7M456 838h7M458 762h7M530 924h7M617 699h7M429 723h7M524 782h7M447 710h7M523 796h7M614 682h7" stroke="#1a1a1a" stroke-opacity="0.6" stroke-width="7" fill="none"/>
<path transform="translate(255.1,354) scale(.1)" d="M507 887h7M489 754h7M509 699h7M556 660h7M516 694h7M524 788h7M561 656h7M557 607h7M504 652h7M506 701h7M530 641h7M533 655h7M537 708h7M492 640h7M549 687h7M530 673h7M564 717h7M504 704h7M493 669h7M513 634h7M499 751h7M498 679h7M489 761h7M497 733h7M540 722h7M509 568h7M498 678h7M483 626h7M531 691h7M551 717h7M557 707h7M519 702h7M546 745h7M540 665h7M494 748h7M551 635h7M524 637h7M525 811h7M513 668h7M521 666h7M533 603h7M543 649h7M524 831h7M556 702h7M519 719h7M548 880h7M576 774h7M501 774h7M518 702h7M513 672h7M538 703h7M543 663h7M499 669h7M516 712h7M572 700h7M516 833h7M572 743h7M550 592h7M513 690h7M523 582h7M531 794h7M560 708h7M537 692h7M465 722h7M549 611h7M586 736h7M537 773h7M497 687h7M483 746h7M536 821h7M543 669h7M468 673h7M514 689h7M509 673h7M527 658h7M501 679h7M482 563h7M521 636h7M483 684h7M523 763h7M508 691h7M517 656h7M487 582h7M473 630h7M498 662h7M472 706h7M532 621h7M503 666h7" stroke="#1a1a1a" stroke-opacity="0.6" stroke-width="7" fill="none"/>
<path transform="translate(255.1,354) scale(.1)" d="M468 899h7M468 867h7M480 866h7M461 857h7M475 832h7M475 785h7M438 819h7M467 956h7M454 753h7M427 761h7M452 794h7M464 823h7M447 986h7M448 803h7M436 779h7M462 707h7M452 771h7M459 860h7M456 883h7M448 844h7M441 713h7M440 802h7M466 942h7M465 862h7M443 933h7M446 813h7M491 882h7M496 782h7M465 740h7M464 779h7M481 856h7M428 796h7M444 827h7M476 742h7M454 865h7M442 793h7M446 890h7M471 746h7M476 928h7M452 843h7M468 868h7M496 828h7M452 836h7M456 701h7M473 841h7M443 764h7M430 832h7M463 832h7" stroke="#1a1a1a" stroke-opacity="0.6" stroke-width="7" fill="none"/>
<path transform="translate(255.1,354) scale(.1)" d="M84 810h7M19 828h7M103 902h7M55 932h7M26 792h7M43 940h7M57 773h7M67 712h7M62 769h7M32 840h7M51 795h7M55 783h7M95 844h7M64 904h7M112 739h7M59 755h7M75 791h7M33 809h7M90 769h7M66 809h7M44 831h7M110 800h7M61 846h7M7 809h7M72 845h7M58 768h7M43 857h7M32 877h7M67 915h7M116 865h7M66 764h7M56 852h7M96 710h7M52 758h7M122 915h7M56 806h7M100 918h7M42 878h7M64 837h7M10 943h7M52 764h7M13 911h7M63 878h7M59 746h7M49 779h7M21 833h7M32 843h7M59 795h7M27 810h7M87 885h7M92 776h7M27 837h7M54 861h7M68 743h7M62 910h7M51 821h7M57 735h7M77 848h7M81 793h7M33 764h7M50 822h7M73 770h7M32 758h7M39 873h7M82 826h7M89 849h7M41 862h7M16 783h7M61 825h7M34 806h7M21 779h7M139 858h7M85 893h7M32 743h7M38 830h7M88 886h7M59 895h7M74 964h7M48 809h7M71 812h7M26 798h7M63 966h7M48 797h7M8 796h7M37 831h7M72 800h7M73 780h7M37 842h7M42 864h7M80 789h7M121 863h7M36 756h7M50 826h7M75 842h7M74 738h7M36 819h7M79 816h7" stroke="#1a1a1a" stroke-opacity="0.6" stroke-width="7" fill="none"/>
<path d="M261.2 438C261.57 436.58 263.58 434.45 265.6 433C267.62 431.55 270.92 430.13 273.3 429.3C275.68 428.47 277.88 427.88 279.9 428C281.92 428.12 283.75 428.92 285.4 430C287.05 431.08 288.98 432.92 289.8 434.5C290.62 436.08 290.9 438.08 290.35 439.5C289.8 440.92 288.43 442.17 286.5 443C284.57 443.83 281.55 444.38 278.8 444.5C276.05 444.62 272.57 444.2 270 443.7C267.43 443.2 264.87 442.45 263.4 441.5C261.93 440.55 260.83 439.42 261.2 438Z" fill="#e8e8e8" stroke="#666" stroke-width="0.65"/>
<path d="M263.55 437.82C263.87 436.57 265.65 434.7 267.42 433.42C269.19 432.14 272.1 430.9 274.2 430.16C276.29 429.43 278.23 428.92 280 429.02C281.78 429.12 283.39 429.83 284.84 430.78C286.3 431.73 287.99 433.35 288.72 434.74C289.44 436.13 289.68 437.89 289.2 439.14C288.72 440.39 287.51 441.49 285.81 442.22C284.12 442.95 281.46 443.44 279.04 443.54C276.62 443.64 273.55 443.28 271.29 442.84C269.03 442.4 266.77 441.74 265.48 440.9C264.19 440.06 263.23 439.07 263.55 437.82Z" fill="none" stroke="#909090" stroke-width="0.4"/>
<path d="M265.85 437.74C266.12 436.66 267.66 435.04 269.19 433.94C270.72 432.84 273.23 431.76 275.04 431.13C276.85 430.49 278.53 430.05 280.06 430.14C281.59 430.23 282.98 430.84 284.24 431.66C285.49 432.48 286.95 433.88 287.58 435.08C288.21 436.28 288.42 437.8 288 438.88C287.58 439.96 286.54 440.91 285.07 441.54C283.61 442.17 281.31 442.59 279.22 442.68C277.13 442.77 274.48 442.45 272.53 442.07C270.58 441.69 268.63 441.12 267.52 440.4C266.4 439.68 265.57 438.82 265.85 437.74Z" fill="none" stroke="#909090" stroke-width="0.4"/>
<path d="M268.14 437.66C268.38 436.75 269.67 435.39 270.96 434.46C272.25 433.53 274.36 432.63 275.89 432.09C277.41 431.56 278.82 431.19 280.11 431.26C281.4 431.33 282.58 431.85 283.63 432.54C284.69 433.23 285.92 434.41 286.45 435.42C286.98 436.43 287.15 437.71 286.8 438.62C286.45 439.53 285.57 440.33 284.34 440.86C283.1 441.39 281.17 441.75 279.41 441.82C277.65 441.89 275.42 441.63 273.78 441.31C272.13 440.99 270.49 440.51 269.55 439.9C268.61 439.29 267.91 438.57 268.14 437.66Z" fill="#f0f0f0" stroke="#909090" stroke-width="0.4"/>
<path d="M270.44 437.58C270.63 436.84 271.68 435.73 272.73 434.98C273.78 434.23 275.49 433.49 276.73 433.06C277.97 432.62 279.12 432.32 280.17 432.38C281.21 432.44 282.17 432.86 283.03 433.42C283.88 433.98 284.89 434.94 285.31 435.76C285.74 436.58 285.89 437.62 285.6 438.36C285.31 439.1 284.6 439.75 283.6 440.18C282.6 440.61 281.02 440.9 279.59 440.96C278.16 441.02 276.35 440.8 275.02 440.54C273.68 440.28 272.35 439.89 271.59 439.4C270.82 438.91 270.25 438.32 270.44 437.58Z" fill="none" stroke="#909090" stroke-width="0.4"/>
<path d="M272.74 437.5C272.89 436.93 273.69 436.08 274.5 435.5C275.31 434.92 276.63 434.35 277.58 434.02C278.53 433.69 279.41 433.45 280.22 433.5C281.03 433.55 281.76 433.87 282.42 434.3C283.08 434.73 283.85 435.47 284.18 436.1C284.51 436.73 284.62 437.53 284.4 438.1C284.18 438.67 283.63 439.17 282.86 439.5C282.09 439.83 280.88 440.05 279.78 440.1C278.68 440.15 277.29 439.98 276.26 439.78C275.23 439.58 274.21 439.28 273.62 438.9C273.03 438.52 272.59 438.07 272.74 437.5Z" fill="none" stroke="#909090" stroke-width="0.4"/>
<ellipse cx="281.6" cy="436.9" rx="2.1" ry="1" fill="#fff" stroke="none" stroke-width="0.5" opacity="1"/>
<ellipse cx="256.6" cy="436" rx="1.7" ry="6" fill="#222" stroke="none" stroke-width="0.5" opacity="0.9"/>
<ellipse cx="258.5" cy="436.5" rx="1.8" ry="4.2" fill="#444" stroke="none" stroke-width="0.5" opacity="0.55"/>
<ellipse cx="307.7" cy="436.95" rx="4.84" ry="7.96" fill="#c4c4c4" stroke="#7a7a7a" stroke-width="0.5" opacity="0.9" transform="rotate(14 307.7 436.95)"/>
<ellipse cx="307.4" cy="437.73" rx="4.45" ry="6.86" fill="#a4a4a4" stroke="#6a6a6a" stroke-width="0.4" opacity="0.9" transform="rotate(14 307.4 437.73)"/>
<ellipse cx="306.9" cy="438.82" rx="4.29" ry="5.69" fill="#5e5e5e" stroke="none" stroke-width="0.5" opacity="0.95" transform="rotate(12 306.9 438.82)"/>
<ellipse cx="306.9" cy="438.9" rx="3.35" ry="4.6" fill="#858585" stroke="#454545" stroke-width="0.5" opacity="1" transform="rotate(12 306.9 438.9)"/>
<ellipse cx="306.9" cy="438.98" rx="2.5" ry="3.51" fill="#6c6c6c" stroke="#3e3e3e" stroke-width="0.5" opacity="1" transform="rotate(12 306.9 438.98)"/>
<ellipse cx="306.9" cy="439.06" rx="1.56" ry="2.34" fill="#949494" stroke="#4a4a4a" stroke-width="0.45" opacity="1" transform="rotate(12 306.9 439.06)"/>
<ellipse cx="306.9" cy="439.14" rx="0.7" ry="1.25" fill="#c6c6c6" stroke="#666" stroke-width="0.35" opacity="1" transform="rotate(12 306.9 439.14)"/>
<rect x="295.6" y="415.3" width="28.1" height="35.5" stroke="#1a1a1a" stroke-width="1.35" fill="none"/>
<text x="309.8" y="407.56" font-size="9.6" text-anchor="middle" style="stroke-width:.03px">38.0</text>
<text transform="translate(251.98,404.7) rotate(-90)" font-size="8.8" text-anchor="middle">SSC</text>
<rect x="376.6" y="354" width="101" height="100" stroke="#a8a8a8" stroke-width="1" fill="#fff"/>
<path d="M376.6 354V454H477.6" stroke="#3a3a3a" stroke-width="0.9" fill="none"/>
<path d="M379.6 454v1.5M386.67 454v1M390.71 454v1M393.74 454v1M396.16 454v1M398.18 454v1M399.8 454v1.5M406.87 454v1M410.91 454v1M413.94 454v1M416.36 454v1M418.38 454v1M420 454v1.5M427.07 454v1M431.11 454v1M434.14 454v1M436.56 454v1M438.58 454v1M440.2 454v1.5M447.27 454v1M451.31 454v1M454.34 454v1M456.76 454v1M458.78 454v1M460.4 454v1.5M467.47 454v1M471.51 454v1M474.54 454v1M375.3 450.5h2M375.7 445.9h1.5M375.7 441.3h1.5M375.7 436.7h1.5M375.7 432.1h1.5M375.3 427.5h2M375.7 422.9h1.5M375.7 418.3h1.5M375.7 413.7h1.5M375.7 409.1h1.5M375.3 404.5h2M375.7 399.9h1.5M375.7 395.3h1.5M375.7 390.7h1.5M375.7 386.1h1.5M375.3 381.5h2M375.7 376.9h1.5M375.7 372.3h1.5M375.7 367.7h1.5M375.7 363.1h1.5M375.3 358.5h2" stroke="#333" stroke-width="0.6" fill="none"/>
<path transform="translate(376.6,354) scale(.1)" d="M346 528h6M529 472h6M189 778h6M354 662h6M553 291h6M471 371h6M294 566h6M436 694h6M653 446h6M411 688h6M174 810h6M154 588h6M258 583h6M472 409h6M514 449h6M551 518h6M496 385h6M221 802h6M757 379h6M453 675h6M387 634h6M556 475h6M369 642h6M609 541h6M604 445h6M305 802h6M290 610h6M320 590h6M220 792h6M314 794h6M343 501h6M460 585h6M277 821h6M309 654h6M336 395h6M352 732h6M516 654h6M456 548h6M518 456h6M321 359h6M258 876h6M550 507h6M404 378h6M354 479h6M261 641h6M467 428h6M549 536h6M449 597h6M549 472h6M504 553h6M283 953h6M443 543h6M403 478h6M285 569h6M430 701h6M148 730h6M407 509h6M661 219h6M529 468h6M504 620h6M716 440h6M461 520h6M537 563h6M320 572h6M173 653h6M495 636h6M438 531h6M267 791h6M840 339h6M460 713h6M383 615h6M313 522h6M560 377h6M413 615h6M410 490h6M276 691h6M207 692h6M459 500h6M445 517h6M388 529h6M542 377h6M556 662h6M538 371h6M311 722h6M497 656h6M362 709h6M324 604h6M662 511h6M483 553h6M448 774h6M338 806h6M342 737h6M381 574h6M372 657h6M284 631h6M514 386h6M327 533h6M193 750h6M676 337h6M532 568h6M194 694h6M435 688h6M330 522h6M272 530h6M337 496h6M148 627h6M241 686h6M464 478h6M317 617h6M367 582h6M210 761h6M355 439h6M180 923h6M308 585h6M165 803h6M479 437h6M545 731h6M462 517h6M307 846h6M489 465h6M520 545h6M649 455h6M445 648h6M290 581h6M311 634h6M543 462h6M402 496h6M444 482h6M225 856h6M500 671h6M600 390h6M74 663h6M303 530h6M587 469h6M108 657h6M644 483h6M610 572h6M405 503h6M412 590h6M295 691h6M208 510h6M365 551h6M790 374h6M489 481h6M51 813h6M394 725h6M96 887h6M576 489h6M239 743h6M498 630h6M305 663h6M286 570h6M346 742h6M289 644h6M231 667h6M493 538h6M446 572h6M429 649h6M264 693h6M309 847h6M483 522h6M480 602h6M513 557h6M375 610h6" stroke="#1a1a1a" stroke-opacity="0.44999999999999996" stroke-width="6" fill="none"/>
<path transform="translate(376.6,354) scale(.1)" d="M608 542h6M566 603h6M486 442h6M463 600h6M586 444h6M509 418h6M360 558h6M583 519h6M484 382h6M505 426h6M493 307h6M666 341h6M554 497h6M627 620h6M516 530h6M600 491h6M399 170h6M488 690h6M608 416h6M546 475h6M539 545h6M485 370h6M523 248h6M452 315h6M452 560h6M609 506h6M464 484h6M546 233h6M616 501h6M585 126h6M473 743h6M475 680h6M568 352h6M484 306h6M506 91h6M635 808h6M551 444h6M496 413h6M500 600h6M483 415h6M640 646h6M491 175h6M665 312h6M514 441h6M591 364h6M512 373h6M457 583h6M506 461h6M488 561h6M671 338h6M541 430h6M640 358h6M616 479h6M600 362h6M484 392h6M600 418h6M592 666h6M429 279h6M496 337h6M574 271h6M477 416h6M534 450h6M535 202h6M500 505h6M558 496h6M460 335h6M414 395h6M469 531h6M515 604h6M685 476h6M566 255h6M500 79h6M490 778h6M581 626h6M521 393h6M547 369h6M571 530h6M443 129h6M520 405h6M435 538h6M630 514h6M439 463h6M470 581h6M559 487h6M596 526h6" stroke="#1a1a1a" stroke-opacity="0.44999999999999996" stroke-width="6" fill="none"/>
<path transform="translate(376.6,354) scale(.1)" d="M706 560h6M318 780h6M418 436h6M466 650h6M133 868h6M270 772h6M388 756h6M465 731h6M499 698h6M154 838h6M306 773h6M66 447h6M316 723h6M538 573h6M160 723h6M488 725h6M380 779h6M637 842h6M252 540h6M22 667h6M151 709h6M270 470h6M451 759h6M161 568h6M525 723h6M257 601h6M187 851h6M180 696h6M232 681h6M102 821h6M310 776h6M138 679h6M613 693h6M227 559h6M191 751h6M223 633h6M472 857h6M279 965h6M235 657h6M42 600h6M177 937h6M115 690h6M320 744h6M105 685h6M249 582h6M317 735h6M422 580h6M84 698h6M303 638h6M30 695h6M468 604h6M380 572h6M401 560h6M460 689h6M471 655h6M73 600h6M133 722h6M190 752h6M273 648h6M209 669h6M371 826h6M216 701h6M457 834h6M153 578h6M202 819h6M222 791h6M268 756h6M363 685h6M191 704h6M673 598h6M419 673h6M81 686h6M434 574h6M116 771h6M75 814h6M474 630h6M321 813h6M440 498h6M59 707h6M474 853h6M357 686h6M156 768h6M298 892h6M603 777h6M168 691h6M471 726h6M383 640h6M590 658h6M332 517h6M528 937h6M520 597h6M318 715h6M355 641h6M372 716h6M112 601h6M565 725h6M371 903h6M195 822h6M481 629h6M272 733h6M50 532h6M200 830h6M259 857h6M25 668h6M354 811h6M422 806h6M411 717h6M548 781h6M196 787h6M398 720h6M395 674h6M237 542h6M233 839h6M397 765h6M48 696h6M338 807h6M314 636h6M390 712h6M120 703h6M344 693h6M228 698h6M312 771h6M122 651h6M398 657h6M152 576h6M71 605h6" stroke="#1a1a1a" stroke-opacity="0.44999999999999996" stroke-width="6" fill="none"/>
<path transform="translate(376.6,354) scale(.1)" d="M222 879h7M254 838h7M323 819h7M38 833h7M210 712h7M192 804h7M217 798h7M582 851h7M207 823h7M227 916h7M232 904h7M88 845h7M217 841h7M53 773h7M420 823h7M23 796h7M393 690h7M182 835h7M160 847h7M297 856h7M365 912h7M198 833h7M260 730h7M43 972h7M254 855h7M490 669h7M265 806h7M214 941h7M216 706h7M58 717h7M402 775h7M60 809h7M26 862h7M247 844h7M401 793h7M366 687h7M371 976h7M107 891h7M80 835h7M308 781h7M68 817h7M220 858h7M242 682h7M394 865h7M8 813h7M209 781h7M417 821h7M227 694h7M75 859h7M509 857h7M206 795h7M58 727h7M344 980h7M183 755h7M386 689h7M187 928h7M468 768h7M270 866h7M256 820h7M260 841h7M204 810h7M232 917h7M97 948h7M390 838h7M601 894h7M511 753h7M240 773h7M77 872h7M359 919h7M227 791h7M25 746h7M436 716h7M216 786h7M128 719h7M171 866h7M189 853h7M129 740h7M352 816h7M193 870h7M377 779h7M241 807h7M434 715h7M122 820h7M303 918h7M478 801h7M312 830h7M116 846h7M223 933h7M193 708h7M269 776h7M249 858h7M283 894h7M141 821h7M303 777h7M217 783h7M384 824h7M85 845h7M121 799h7M43 807h7M349 883h7M319 754h7M227 822h7M194 801h7M118 837h7M258 734h7M138 856h7M225 869h7M78 818h7M88 827h7M131 783h7M318 917h7M219 845h7M87 785h7M165 859h7M488 671h7M403 941h7M318 798h7M342 705h7M28 839h7M140 886h7M96 673h7M206 873h7M8 832h7M245 860h7M351 848h7M128 716h7M324 803h7M369 926h7M138 780h7M421 843h7M63 811h7M171 928h7M40 771h7M353 896h7M264 783h7M91 612h7M333 849h7M241 719h7M166 926h7M581 712h7M116 894h7M377 892h7M210 784h7M164 712h7M127 761h7M402 943h7M273 696h7M204 782h7M412 743h7M292 820h7M357 778h7M477 853h7M205 807h7M161 916h7M353 805h7M652 865h7M373 958h7M399 864h7M86 750h7M350 818h7M189 930h7M340 946h7M188 744h7M215 899h7M71 823h7M324 844h7M301 620h7M310 907h7M95 853h7M229 824h7M728 800h7M44 761h7M130 830h7M292 785h7M594 865h7M237 796h7M265 754h7M203 781h7M349 760h7M60 790h7M397 858h7M169 817h7M112 757h7M278 769h7M102 796h7M239 871h7M158 843h7M294 970h7M252 641h7M278 739h7M286 837h7M74 630h7M308 757h7M388 707h7M37 701h7M269 947h7M260 724h7M317 704h7M239 950h7M220 704h7M230 854h7M241 634h7M307 736h7M160 921h7M327 777h7M462 780h7M503 803h7M62 744h7M210 973h7M185 742h7M293 830h7M404 734h7M342 738h7M160 904h7M147 865h7M164 904h7M280 864h7M480 727h7M346 842h7M75 819h7M282 729h7M158 931h7M181 710h7M591 967h7M159 859h7M186 858h7M266 765h7M281 807h7M127 979h7M24 788h7M487 764h7M247 953h7M83 906h7M268 761h7M239 873h7M280 784h7M287 849h7M73 713h7M116 818h7M220 887h7M192 818h7M412 720h7M384 756h7M421 852h7M131 964h7M249 889h7M248 905h7M72 805h7M445 799h7M148 775h7M232 805h7M463 935h7M217 902h7M125 878h7M384 786h7M195 850h7M398 785h7M341 822h7M143 920h7M454 722h7M261 797h7M56 834h7M225 774h7M33 889h7M398 830h7M482 819h7M218 791h7M186 823h7M339 956h7M300 807h7M152 692h7M449 795h7M213 709h7M294 818h7M114 864h7M586 802h7M203 874h7M130 799h7M463 803h7M259 748h7M42 800h7M214 724h7M153 854h7M264 967h7M119 726h7M297 793h7M324 762h7M163 876h7M468 786h7M21 846h7M333 868h7M561 720h7M427 700h7M138 720h7M399 907h7M316 754h7M307 864h7M471 719h7M212 876h7M209 740h7M361 920h7M302 816h7M182 805h7M189 803h7M47 788h7M249 741h7M450 959h7M97 726h7M127 809h7M77 841h7M186 888h7M143 884h7M165 719h7M375 828h7M472 825h7M209 990h7M105 723h7M283 715h7M213 677h7M439 880h7M298 770h7M16 942h7M334 798h7M60 826h7M145 797h7M16 937h7M293 818h7M334 790h7M356 892h7M436 824h7M206 936h7M210 775h7M390 790h7M367 923h7M111 823h7M254 814h7M191 939h7M253 840h7M240 777h7M288 904h7M80 867h7M460 894h7M447 835h7M155 783h7M218 757h7M433 916h7M301 863h7M169 721h7M214 789h7M188 749h7M205 859h7M247 942h7M214 957h7M227 832h7M269 830h7M104 683h7M151 809h7M251 906h7M311 752h7M291 760h7M37 760h7M163 694h7M201 763h7M384 714h7M297 766h7M127 873h7" stroke="#1a1a1a" stroke-opacity="0.6" stroke-width="7" fill="none"/>
<path transform="translate(376.6,354) scale(.1)" d="M339 689h7M210 742h7M277 793h7M262 771h7M231 782h7M394 720h7M298 768h7M231 723h7M242 716h7M356 750h7M323 749h7M289 736h7M335 691h7M212 822h7M292 820h7M270 712h7M326 694h7M266 807h7M382 755h7M444 721h7M357 705h7M286 803h7M376 694h7M250 789h7M427 724h7M235 736h7M323 719h7M311 796h7M366 753h7M261 766h7M394 719h7M409 726h7M330 716h7M250 735h7M264 749h7M353 806h7M310 725h7M343 758h7M288 762h7M375 672h7M305 778h7M346 746h7M347 798h7M289 750h7M349 702h7M419 696h7M285 691h7M434 726h7M375 751h7M408 684h7M260 803h7M223 783h7M175 778h7M300 711h7M292 697h7M334 785h7M276 751h7M236 765h7M198 796h7M242 705h7M402 755h7M317 735h7M215 827h7M322 819h7M430 702h7M396 690h7M237 780h7M281 778h7M290 716h7M295 743h7M477 646h7M323 795h7M206 782h7M379 770h7M234 793h7M300 740h7M214 790h7M365 744h7M272 758h7M311 714h7M240 789h7M395 752h7M350 720h7M306 692h7M254 698h7M254 711h7M390 782h7M284 722h7M315 713h7M331 679h7M418 741h7M287 715h7M317 699h7M325 728h7M408 715h7M241 780h7M297 799h7M381 700h7M310 706h7M245 787h7M330 702h7M423 698h7M394 637h7M298 767h7M361 727h7M259 759h7M238 805h7M260 776h7M400 753h7M390 705h7M176 811h7M264 804h7M202 796h7M161 811h7M282 751h7M336 722h7M375 717h7M248 734h7M398 721h7M263 714h7M260 752h7M345 731h7M374 738h7M252 738h7M275 731h7M365 757h7M328 701h7M417 751h7M398 728h7M272 787h7M341 710h7M337 653h7M369 618h7M314 726h7M308 758h7M315 779h7M221 833h7M399 677h7M187 800h7M332 735h7M359 686h7M354 675h7M252 764h7M272 675h7M267 761h7M279 776h7M330 703h7M250 764h7M452 702h7M243 728h7" stroke="#1a1a1a" stroke-opacity="0.6" stroke-width="7" fill="none"/>
<path transform="translate(376.6,354) scale(.1)" d="M462 811h7M588 839h7M469 675h7M552 871h7M501 799h7M575 814h7M574 887h7M529 969h7M491 878h7M461 919h7M426 674h7M468 991h7M531 982h7M551 654h7M515 834h7M486 889h7M551 779h7M489 695h7M643 945h7M516 841h7M523 815h7M507 782h7M510 723h7M483 976h7M570 928h7M610 768h7M505 851h7M524 758h7M464 893h7M543 671h7M468 795h7M489 638h7M535 692h7M518 692h7M553 905h7M541 810h7M561 790h7M639 707h7M459 973h7M598 711h7M498 899h7M477 650h7M562 736h7M510 758h7M540 726h7M511 775h7M464 856h7M450 803h7M613 778h7M500 816h7M540 968h7M499 672h7M511 724h7M455 809h7M484 890h7M561 883h7M474 692h7M536 603h7M477 707h7M481 860h7M530 776h7M545 868h7M543 926h7M590 759h7M453 756h7M467 871h7M502 705h7M522 855h7M579 814h7M499 734h7M461 740h7M531 833h7M527 569h7M494 921h7M455 842h7M485 901h7M536 855h7M544 897h7M462 705h7M485 924h7M404 889h7M496 835h7M472 827h7M552 647h7M570 758h7M520 648h7M532 814h7M612 647h7M499 817h7M538 973h7M456 912h7M501 713h7M542 825h7M510 866h7M434 798h7M472 785h7M522 780h7M531 692h7M513 784h7M640 839h7M453 809h7M615 853h7M440 978h7M552 851h7M583 619h7M527 768h7M529 602h7M571 678h7M539 899h7M520 810h7M448 726h7M527 764h7M546 694h7M511 710h7M430 807h7M506 816h7M487 935h7M660 934h7M448 779h7M588 882h7M465 750h7M516 739h7M580 518h7M540 664h7M536 966h7M536 554h7M512 756h7M559 659h7M498 780h7M517 828h7M569 810h7M593 819h7M632 880h7M520 689h7M495 746h7M580 764h7M510 836h7M510 868h7M482 719h7M499 891h7M461 585h7M517 738h7M532 770h7M593 825h7M488 767h7M596 730h7M530 959h7M551 889h7M459 812h7M587 865h7M419 913h7M556 810h7M550 697h7M591 930h7M554 889h7M450 777h7M513 865h7M447 805h7M576 703h7M598 847h7M486 706h7M596 744h7M474 782h7M570 917h7M495 594h7M588 802h7M497 801h7M428 950h7M441 704h7M433 923h7M480 812h7M472 675h7M477 821h7M488 748h7M517 736h7M510 679h7M433 660h7M456 866h7M432 663h7M645 749h7M570 699h7M492 767h7M488 840h7M518 903h7M498 821h7M467 907h7M446 652h7M474 726h7M426 616h7M460 805h7M594 720h7M463 800h7M555 925h7M550 724h7M554 566h7M527 956h7M488 805h7M505 874h7M572 787h7M546 831h7M522 656h7M524 879h7M483 632h7M564 955h7M501 896h7M442 920h7M497 910h7M452 822h7M478 604h7M429 846h7M483 869h7M533 870h7M494 728h7M500 833h7M470 846h7M513 794h7M583 886h7M419 679h7M624 947h7M524 702h7M468 823h7M577 741h7M547 844h7M476 885h7M413 773h7M484 960h7M488 663h7M477 605h7M535 661h7M535 810h7M525 804h7M535 882h7M455 844h7M436 761h7M451 917h7M532 747h7M497 689h7M547 705h7M542 919h7M408 970h7M558 925h7M466 627h7M494 759h7M518 671h7M637 857h7M534 815h7M412 867h7M481 625h7M460 762h7M585 949h7M463 881h7M514 868h7M512 734h7M442 842h7M468 713h7M598 735h7M607 615h7M548 816h7M500 823h7M450 702h7M428 677h7M448 727h7M516 620h7M527 784h7M484 755h7M551 624h7M515 762h7M532 841h7M615 773h7M556 656h7M440 702h7M402 858h7M495 698h7M515 927h7M472 801h7M583 957h7M556 762h7M535 793h7M470 681h7M522 629h7M456 691h7M557 699h7M486 698h7M516 873h7M634 908h7M524 681h7M576 547h7M596 792h7M466 859h7M541 843h7M494 618h7M567 829h7M476 805h7M593 801h7" stroke="#1a1a1a" stroke-opacity="0.6" stroke-width="7" fill="none"/>
<path transform="translate(376.6,354) scale(.1)" d="M469 658h7M552 753h7M506 705h7M505 720h7M527 736h7M525 684h7M524 720h7M545 570h7M512 748h7M500 719h7M535 727h7M537 666h7M558 618h7M552 645h7M517 748h7M513 693h7M528 637h7M524 563h7M503 674h7M541 674h7M485 677h7M569 696h7M534 690h7M519 640h7M522 698h7M495 746h7M527 780h7M524 743h7M487 721h7M518 673h7M491 755h7M529 751h7M553 637h7M471 693h7M514 620h7M516 665h7M499 691h7M506 691h7M556 736h7M533 770h7M525 700h7M523 593h7M524 616h7M566 709h7M501 748h7M524 639h7M553 733h7M541 768h7M483 630h7M514 698h7M496 658h7M538 832h7M541 607h7M552 716h7M532 656h7M495 634h7M575 748h7M494 689h7M489 653h7M529 802h7M480 785h7M548 613h7M498 767h7M580 741h7M530 726h7M504 656h7M497 678h7M510 700h7M510 761h7M489 745h7M529 763h7M520 797h7M511 797h7M496 730h7M532 679h7M531 686h7M533 713h7M485 692h7M542 633h7M536 725h7M550 694h7M497 658h7M507 753h7M555 720h7M508 758h7M489 766h7M513 701h7M494 749h7M539 770h7M511 824h7M454 700h7M535 737h7M504 705h7M507 729h7M528 643h7M548 594h7M513 728h7M466 623h7M571 754h7M492 691h7M531 864h7M526 734h7M530 662h7M521 685h7M515 692h7M503 637h7M528 732h7M568 824h7M515 692h7M532 726h7" stroke="#1a1a1a" stroke-opacity="0.6" stroke-width="7" fill="none"/>
<path transform="translate(376.6,354) scale(.1)" d="M449 789h7M510 822h7M428 780h7M467 824h7M440 773h7M500 733h7M478 833h7M482 840h7M475 808h7M452 901h7M439 706h7M468 840h7M449 852h7M458 755h7M453 880h7M440 992h7M454 745h7M481 833h7M464 946h7M458 818h7M493 831h7M447 812h7M469 914h7M447 777h7M464 861h7M454 793h7M431 878h7M455 714h7M474 827h7M437 878h7M479 869h7M504 795h7M440 850h7M464 898h7M456 753h7M442 911h7M458 819h7M476 767h7M470 716h7M459 787h7M473 882h7M458 828h7M428 786h7M468 991h7M489 943h7M457 762h7M437 803h7M436 907h7M451 706h7M439 941h7M472 850h7M443 768h7M484 888h7M467 732h7M470 941h7M447 696h7M437 811h7M432 845h7M453 860h7M449 829h7" stroke="#1a1a1a" stroke-opacity="0.6" stroke-width="7" fill="none"/>
<path transform="translate(376.6,354) scale(.1)" d="M75 926h7M114 841h7M27 709h7M39 753h7M62 856h7M92 737h7M77 974h7M26 735h7M58 771h7M35 853h7M77 891h7M14 905h7M49 851h7M91 842h7M121 808h7M25 740h7M110 842h7M36 801h7M103 844h7M89 855h7M100 840h7M133 859h7M56 805h7M135 834h7M81 732h7M51 713h7M52 850h7M13 839h7M88 785h7M56 839h7M91 953h7M101 827h7M89 797h7M85 763h7M29 858h7M76 840h7M100 862h7M55 824h7M47 833h7M33 793h7M40 805h7M96 780h7M53 711h7M46 833h7M16 788h7M56 748h7M34 819h7M61 850h7M26 905h7M87 850h7M44 809h7M127 933h7M57 793h7M90 819h7M75 941h7M37 853h7M56 906h7M48 822h7M77 856h7M57 732h7M92 873h7M62 791h7M13 821h7M37 802h7M40 753h7M77 816h7M59 856h7M38 771h7M8 801h7M79 897h7M93 884h7M67 797h7M40 808h7M50 763h7M66 875h7M39 719h7M43 913h7M21 883h7M33 822h7M58 833h7M78 807h7M25 718h7M13 891h7M60 913h7M23 781h7M61 800h7M15 885h7M49 799h7M49 836h7M46 826h7M94 781h7M63 804h7M39 843h7M21 873h7M96 683h7M23 914h7M90 709h7M55 929h7M94 856h7M76 801h7M30 890h7M28 898h7M66 842h7M74 840h7M32 814h7M15 927h7M43 692h7M79 800h7M75 894h7M61 790h7M46 842h7M67 780h7M8 856h7M87 845h7M21 933h7M98 863h7M33 811h7M97 708h7M7 959h7M10 785h7M36 847h7M101 846h7M21 843h7M79 932h7M24 825h7M11 891h7M24 809h7" stroke="#1a1a1a" stroke-opacity="0.6" stroke-width="7" fill="none"/>
<path d="M386 438C386.33 436.58 388.17 434.45 390 433C391.83 431.55 394.83 430.13 397 429.3C399.17 428.47 401.17 427.88 403 428C404.83 428.12 406.5 428.92 408 430C409.5 431.08 411.25 432.92 412 434.5C412.75 436.08 413 438.08 412.5 439.5C412 440.92 410.75 442.17 409 443C407.25 443.83 404.5 444.38 402 444.5C399.5 444.62 396.33 444.2 394 443.7C391.67 443.2 389.33 442.45 388 441.5C386.67 440.55 385.67 439.42 386 438Z" fill="#e8e8e8" stroke="#666" stroke-width="0.65"/>
<path d="M388.18 437.82C388.47 436.57 390.09 434.7 391.7 433.42C393.31 432.14 395.95 430.9 397.86 430.16C399.77 429.43 401.53 428.92 403.14 429.02C404.75 429.12 406.22 429.83 407.54 430.78C408.86 431.73 410.4 433.35 411.06 434.74C411.72 436.13 411.94 437.89 411.5 439.14C411.06 440.39 409.96 441.49 408.42 442.22C406.88 442.95 404.46 443.44 402.26 443.54C400.06 443.64 397.27 443.28 395.22 442.84C393.17 442.4 391.11 441.74 389.94 440.9C388.77 440.06 387.89 439.07 388.18 437.82Z" fill="none" stroke="#909090" stroke-width="0.4"/>
<path d="M390.31 437.74C390.56 436.66 391.96 435.04 393.35 433.94C394.74 432.84 397.02 431.76 398.67 431.13C400.32 430.49 401.84 430.05 403.23 430.14C404.62 430.23 405.89 430.84 407.03 431.66C408.17 432.48 409.5 433.88 410.07 435.08C410.64 436.28 410.83 437.8 410.45 438.88C410.07 439.96 409.12 440.91 407.79 441.54C406.46 442.17 404.37 442.59 402.47 442.68C400.57 442.77 398.16 442.45 396.39 442.07C394.62 441.69 392.84 441.12 391.83 440.4C390.82 439.68 390.06 438.82 390.31 437.74Z" fill="none" stroke="#909090" stroke-width="0.4"/>
<path d="M392.44 437.66C392.65 436.75 393.83 435.39 395 434.46C396.17 433.53 398.09 432.63 399.48 432.09C400.87 431.56 402.15 431.19 403.32 431.26C404.49 431.33 405.56 431.85 406.52 432.54C407.48 433.23 408.6 434.41 409.08 435.42C409.56 436.43 409.72 437.71 409.4 438.62C409.08 439.53 408.28 440.33 407.16 440.86C406.04 441.39 404.28 441.75 402.68 441.82C401.08 441.89 399.05 441.63 397.56 441.31C396.07 440.99 394.57 440.51 393.72 439.9C392.87 439.29 392.23 438.57 392.44 437.66Z" fill="#f0f0f0" stroke="#909090" stroke-width="0.4"/>
<path d="M394.57 437.58C394.74 436.84 395.7 435.73 396.65 434.98C397.6 434.23 399.16 433.49 400.29 433.06C401.42 432.62 402.46 432.32 403.41 432.38C404.36 432.44 405.23 432.86 406.01 433.42C406.79 433.98 407.7 434.94 408.09 435.76C408.48 436.58 408.61 437.62 408.35 438.36C408.09 439.1 407.44 439.75 406.53 440.18C405.62 440.61 404.19 440.9 402.89 440.96C401.59 441.02 399.94 440.8 398.73 440.54C397.52 440.28 396.3 439.89 395.61 439.4C394.92 438.91 394.4 438.32 394.57 437.58Z" fill="none" stroke="#909090" stroke-width="0.4"/>
<path d="M396.7 437.5C396.83 436.93 397.57 436.08 398.3 435.5C399.03 434.92 400.23 434.35 401.1 434.02C401.97 433.69 402.77 433.45 403.5 433.5C404.23 433.55 404.9 433.87 405.5 434.3C406.1 434.73 406.8 435.47 407.1 436.1C407.4 436.73 407.5 437.53 407.3 438.1C407.1 438.67 406.6 439.17 405.9 439.5C405.2 439.83 404.1 440.05 403.1 440.1C402.1 440.15 400.83 439.98 399.9 439.78C398.97 439.58 398.03 439.28 397.5 438.9C396.97 438.52 396.57 438.07 396.7 437.5Z" fill="none" stroke="#909090" stroke-width="0.4"/>
<ellipse cx="405" cy="436.9" rx="2.1" ry="1" fill="#fff" stroke="none" stroke-width="0.5" opacity="1"/>
<ellipse cx="378.1" cy="436" rx="1.7" ry="6" fill="#222" stroke="none" stroke-width="0.5" opacity="0.9"/>
<ellipse cx="380" cy="436.5" rx="1.8" ry="4.2" fill="#444" stroke="none" stroke-width="0.5" opacity="0.55"/>
<ellipse cx="429.2" cy="436.76" rx="5.58" ry="9.18" fill="#c4c4c4" stroke="#7a7a7a" stroke-width="0.5" opacity="0.9" transform="rotate(14 429.2 436.76)"/>
<ellipse cx="428.9" cy="437.66" rx="5.13" ry="7.92" fill="#a4a4a4" stroke="#6a6a6a" stroke-width="0.4" opacity="0.9" transform="rotate(14 428.9 437.66)"/>
<ellipse cx="428.4" cy="438.92" rx="4.95" ry="6.57" fill="#5e5e5e" stroke="none" stroke-width="0.5" opacity="0.95" transform="rotate(12 428.4 438.92)"/>
<ellipse cx="428.4" cy="439.01" rx="3.87" ry="5.31" fill="#858585" stroke="#454545" stroke-width="0.5" opacity="1" transform="rotate(12 428.4 439.01)"/>
<ellipse cx="428.4" cy="439.1" rx="2.88" ry="4.05" fill="#6c6c6c" stroke="#3e3e3e" stroke-width="0.5" opacity="1" transform="rotate(12 428.4 439.1)"/>
<ellipse cx="428.4" cy="439.19" rx="1.8" ry="2.7" fill="#949494" stroke="#4a4a4a" stroke-width="0.45" opacity="1" transform="rotate(12 428.4 439.19)"/>
<ellipse cx="428.4" cy="439.28" rx="0.81" ry="1.44" fill="#c6c6c6" stroke="#666" stroke-width="0.35" opacity="1" transform="rotate(12 428.4 439.28)"/>
<rect x="417.8" y="415.3" width="28.5" height="35.5" stroke="#1a1a1a" stroke-width="1.35" fill="none"/>
<text x="432.4" y="407.56" font-size="9.6" text-anchor="middle" style="stroke-width:.03px">52.8</text>
<text transform="translate(373.48,404.7) rotate(-90)" font-size="8.8" text-anchor="middle">SSC</text>
<text x="15.3" y="464.29" font-size="9.4" text-anchor="start">CD4-Bv421</text>
<path d="M69.5 461.2L475 461.2" stroke="#111" stroke-width="1.4" fill="none"/>
<path d="M474.3 457.8L478.3 461.2L474.3 464.6Z" fill="#111"/>
<text x="478.8" y="326.65" font-size="25" text-anchor="start" style="stroke-width:.3px">E</text>
<path d="M514.9 341.1L514.9 453" stroke="#222" stroke-width="1.3" fill="none"/>
<path d="M514.3 452.4L625.8 452.4" stroke="#222" stroke-width="1.3" fill="none"/>
<path d="M531.1 452.4L531.1 455.2" stroke="#222" stroke-width="1.1" fill="none"/>
<path d="M556.9 452.4L556.9 455.2" stroke="#222" stroke-width="1.1" fill="none"/>
<path d="M582.3 452.4L582.3 455.2" stroke="#222" stroke-width="1.1" fill="none"/>
<path d="M607.7 452.4L607.7 455.2" stroke="#222" stroke-width="1.1" fill="none"/>
<path d="M512.1 452.4L514.9 452.4" stroke="#222" stroke-width="1.1" fill="none"/>
<text x="508.4" y="456.74" font-size="10.4" text-anchor="end">0</text>
<path d="M512.1 415.5L514.9 415.5" stroke="#222" stroke-width="1.1" fill="none"/>
<text x="508.4" y="419.64" font-size="10.4" text-anchor="end">20</text>
<path d="M512.1 378.6L514.9 378.6" stroke="#222" stroke-width="1.1" fill="none"/>
<text x="508.4" y="382.74" font-size="10.4" text-anchor="end">40</text>
<path d="M512.1 341.7L514.9 341.7" stroke="#222" stroke-width="1.1" fill="none"/>
<text x="508.4" y="346.14" font-size="10.4" text-anchor="end">60</text>
<text transform="translate(491.74,397.9) rotate(-90)" font-size="9.55" text-anchor="middle">Percen of CD4<tspan font-size="5.54" dy="-3.44">+</tspan><tspan dy="3.44"> T cell (%)</tspan></text>
<path d="M550.7 460.2L625.2 460.2" stroke="#222" stroke-width="1.4" fill="none"/>
<circle cx="525.9" cy="350.8" r="2.7" fill="#000"/>
<circle cx="528.7" cy="348.7" r="2.7" fill="#000"/>
<circle cx="531.6" cy="350.8" r="2.7" fill="#000"/>
<circle cx="534.8" cy="349.2" r="2.7" fill="#000"/>
<circle cx="537.4" cy="351.6" r="2.7" fill="#000"/>
<rect x="549.2" y="353.2" width="16.6" height="6.2" stroke="#3b8d9c" stroke-width="0.9" fill="#fff"/>
<rect x="548.6" y="353" width="5.2" height="5.2" fill="#3b8d9c"/>
<rect x="552" y="352.3" width="5.2" height="5.2" fill="#3b8d9c"/>
<rect x="555.4" y="353" width="5.2" height="5.2" fill="#3b8d9c"/>
<rect x="558.4" y="354" width="5.2" height="5.2" fill="#3b8d9c"/>
<rect x="561" y="354.8" width="5.2" height="5.2" fill="#3b8d9c"/>
<rect x="553.4" y="354.2" width="5.2" height="5.2" fill="#3b8d9c"/>
<rect x="575" y="378.3" width="16" height="5.3" stroke="#e8582a" stroke-width="1.3" fill="#fff"/>
<path d="M575 381L591 381" stroke="#e8582a" stroke-width="1.2" fill="none"/>
<path d="M573.6 381.75L579.6 381.75L576.6 376.05Z" fill="#e8582a"/>
<path d="M574.2 385.05L580.2 385.05L577.2 379.35Z" fill="#e8582a"/>
<path d="M577.8 383.45L583.8 383.45L580.8 377.75Z" fill="#e8582a"/>
<path d="M582 384.25L588 384.25L585 378.55Z" fill="#e8582a"/>
<path d="M585.8 383.25L591.8 383.25L588.8 377.55Z" fill="#e8582a"/>
<rect x="600.5" y="356.2" width="16.5" height="11" stroke="#b4c033" stroke-width="1.4" fill="#fff"/>
<path d="M600.5 361.5L617 361.5" stroke="#b4c033" stroke-width="1.3" fill="none"/>
<path d="M604.8 351.66L611 351.66L607.9 357.55Z" fill="#b4c033"/>
<path d="M599.7 363.66L605.9 363.66L602.8 369.55Z" fill="#b4c033"/>
<path d="M603 358.25L609.2 358.25L606.1 364.14Z" fill="#b4c033"/>
<path d="M607.4 359.06L613.6 359.06L610.5 364.94Z" fill="#b4c033"/>
<path d="M611.1 359.95L617.3 359.95L614.2 365.84Z" fill="#b4c033"/>
<path d="M531.1 335L617 335" stroke="#222" stroke-width="1.5" fill="none"/>
<text x="579.4" y="335.15" font-size="9" text-anchor="middle" style="font-weight:bold;stroke-width:0">**</text>
<path d="M531.1 343.5L567 343.5" stroke="#222" stroke-width="1.5" fill="none"/>
<text x="555.6" y="342.65" font-size="9" text-anchor="middle" style="font-weight:bold;stroke-width:0">*</text>
<path d="M580.3 343.5L617 343.5" stroke="#222" stroke-width="1.5" fill="none"/>
<text x="597.9" y="342.95" font-size="9" text-anchor="middle" style="font-weight:bold;stroke-width:0">***</text>
<rect x="632.6" y="335.9" width="10.1" height="10" stroke="none" stroke-width="0" fill="#cbcbcb"/>
<rect x="632.6" y="353" width="10.1" height="10" stroke="none" stroke-width="0" fill="#4bada8"/>
<rect x="632.6" y="371" width="10.1" height="10" stroke="none" stroke-width="0" fill="#e8582a"/>
<rect x="632.6" y="388.9" width="10.1" height="10" stroke="none" stroke-width="0" fill="#d2e635"/>
<text x="644.5" y="344.12" font-size="9.5" text-anchor="start">Ctrl</text>
<text x="644.5" y="361.52" font-size="9.5" text-anchor="start">Jα18<tspan font-size="5.51" dy="-3.42">-/-</tspan></text>
<text x="644.5" y="379.32" font-size="9.5" text-anchor="start">HCC-m</text>
<text x="644.5" y="396.82" font-size="9.5" text-anchor="start">HCC-m+</text>
<text x="644.5" y="406.93" font-size="9.5" text-anchor="start">iNKT tran</text>
<text x="534.5" y="471.52" font-size="9.5" text-anchor="middle">WT</text>
<text x="589" y="471.52" font-size="9.5" text-anchor="middle">Jα18<tspan font-size="5.51" dy="-3.42">-/-</tspan></text>
<text x="4.1" y="501.65" font-size="25" text-anchor="start" style="stroke-width:.3px">F</text>
<text x="63.5" y="503.04" font-size="14.1" text-anchor="middle">WT</text>
<text x="181.4" y="503.04" font-size="14.1" text-anchor="middle">WT+HCC-m</text>
<text x="303.6" y="503.04" font-size="14.1" text-anchor="middle">Jα18<tspan font-size="8.18" dy="-5.08">-/-</tspan></text>
<text x="421.9" y="503.04" font-size="14.1" text-anchor="middle">Jα18<tspan font-size="8.18" dy="-5.08">-/-</tspan><tspan dy="5.08">+HCC-m</tspan></text>
<text x="12.8" y="515.09" font-size="9.4" text-anchor="start" style="stroke-width:0">Gated on CD45<tspan font-size="5.45" dy="-3.38">+</tspan><tspan dy="3.38">CD3</tspan><tspan font-size="5.45" dy="-3.38">+</tspan><tspan dy="3.38">CD4</tspan><tspan font-size="5.45" dy="-3.38">+</tspan></text>
<rect x="13.1" y="517.8" width="99.4" height="98.9" stroke="#6a6a6a" stroke-width="0.75" fill="#fff"/>
<path d="M16.1 616.7v1.5M23.06 616.7v1M27.03 616.7v1M30.02 616.7v1M32.4 616.7v1M34.39 616.7v1M35.98 616.7v1.5M42.94 616.7v1M46.91 616.7v1M49.9 616.7v1M52.28 616.7v1M54.27 616.7v1M55.86 616.7v1.5M62.82 616.7v1M66.79 616.7v1M69.78 616.7v1M72.16 616.7v1M74.15 616.7v1M75.74 616.7v1.5M82.7 616.7v1M86.67 616.7v1M89.66 616.7v1M92.04 616.7v1M94.03 616.7v1M95.62 616.7v1.5M102.58 616.7v1M106.55 616.7v1M109.54 616.7v1M11.8 613.2h2M12.2 608.5h1.5M12.2 603.8h1.5M12.2 599.1h1.5M12.2 594.4h1.5M11.8 589.7h2M12.2 585h1.5M12.2 580.3h1.5M12.2 575.6h1.5M12.2 570.9h1.5M11.8 566.2h2M12.2 561.5h1.5M12.2 556.8h1.5M12.2 552.1h1.5M12.2 547.4h1.5M11.8 542.7h2M12.2 538h1.5M12.2 533.3h1.5M12.2 528.6h1.5M12.2 523.9h1.5" stroke="#444" stroke-width="0.6" fill="none"/>
<path transform="translate(13.1,517.8) scale(.1)" d="M281 603h7M244 615h7M594 700h7M622 718h7M242 861h7M123 740h7M435 596h7M566 698h7M304 624h7M588 691h7M154 734h7M157 701h7M347 610h7M155 717h7M561 687h7M89 776h7M183 681h7M148 665h7M428 633h7M615 721h7M263 644h7M116 824h7M270 630h7M582 705h7M607 789h7M404 613h7M393 595h7M472 654h7M315 628h7M126 649h7M139 744h7M678 746h7M632 740h7M601 708h7M576 699h7M626 757h7M109 746h7M130 748h7M568 699h7M135 809h7M117 856h7M529 683h7M271 608h7M487 667h7M205 659h7M120 774h7M115 734h7M125 794h7M593 793h7M133 815h7M117 789h7M264 582h7M480 638h7M575 810h7M263 865h7M635 724h7M617 769h7M338 624h7M149 664h7M308 632h7M231 624h7M604 701h7M606 786h7M497 635h7M467 606h7M617 767h7M454 639h7M535 627h7M380 590h7M194 855h7M604 692h7M168 676h7M364 631h7M453 608h7M416 583h7M653 701h7M600 672h7M531 669h7M209 614h7M226 646h7M124 693h7M643 711h7M355 862h7M128 797h7M669 745h7M602 718h7M598 784h7M659 660h7M540 663h7M127 778h7M623 770h7M437 586h7M412 639h7M489 662h7M499 636h7M480 635h7M177 677h7M130 694h7M165 717h7M344 622h7M124 769h7M677 766h7M437 606h7M128 830h7M323 591h7M606 781h7M606 789h7M493 616h7M220 609h7M528 832h7M291 623h7M198 687h7M173 699h7M331 605h7M374 599h7M682 785h7M512 648h7M114 764h7M631 732h7M520 833h7M285 617h7M445 601h7M617 733h7M523 829h7M78 794h7M125 839h7M510 635h7M660 766h7M329 625h7M640 790h7M261 619h7M659 744h7M652 725h7M632 755h7M108 706h7M169 727h7M522 657h7M238 861h7M145 713h7M603 708h7M104 786h7M630 712h7M215 868h7M450 643h7M248 631h7M183 676h7M552 687h7M150 856h7M447 850h7M661 755h7M634 719h7M621 719h7M206 668h7M449 635h7M491 836h7M314 555h7M605 680h7M626 729h7M640 750h7M551 817h7M314 863h7M215 636h7M123 837h7M605 788h7M268 644h7M137 770h7M486 635h7M337 616h7M649 717h7M230 636h7M381 620h7M540 837h7M431 855h7M556 693h7M687 747h7M577 809h7M430 850h7M406 601h7M501 678h7M278 625h7M162 679h7M610 713h7M202 633h7M131 813h7M286 601h7M649 766h7M577 696h7M128 773h7M573 696h7M256 866h7M220 642h7M458 591h7M235 649h7M166 679h7M201 662h7M383 862h7M475 644h7M483 632h7M544 679h7M146 726h7M644 687h7M618 773h7M195 658h7M644 708h7M520 680h7M130 837h7M165 733h7M463 618h7M221 872h7M177 668h7M493 649h7M167 706h7M114 804h7M442 856h7M199 629h7M137 678h7M463 655h7M546 821h7M668 778h7M122 811h7M194 671h7M180 664h7M350 857h7M529 833h7M421 639h7M330 860h7M534 830h7M321 610h7M607 719h7M656 705h7M127 811h7M499 839h7M126 693h7M630 744h7M464 625h7M131 748h7M512 676h7M546 837h7M336 629h7M382 627h7M609 714h7M329 621h7M576 669h7M497 646h7M530 636h7M102 752h7M617 721h7M125 785h7M445 845h7M696 738h7M625 770h7M145 703h7M165 673h7M661 708h7M125 764h7M494 650h7M184 675h7M276 628h7M174 704h7M267 622h7M513 668h7M642 767h7M249 863h7M675 727h7M128 731h7M325 624h7M471 660h7M608 797h7M163 605h7M654 748h7M408 856h7M649 751h7M284 628h7M207 659h7M639 701h7M197 862h7M502 838h7M552 691h7M258 604h7M523 656h7M535 826h7M652 728h7M671 741h7M526 657h7M286 615h7M246 865h7M420 628h7M466 659h7M630 745h7M630 715h7M386 617h7M528 664h7M123 775h7M558 814h7M204 636h7M507 831h7M606 708h7M534 826h7M539 691h7M423 851h7M564 691h7M573 679h7M136 796h7M156 657h7M115 772h7M581 695h7M344 603h7M362 603h7M539 679h7M136 850h7M620 737h7M140 662h7M436 643h7M674 760h7M630 728h7M340 857h7M382 854h7M397 861h7M573 816h7M210 646h7M118 684h7M585 692h7M549 685h7M566 812h7M422 860h7M75 717h7M449 855h7M353 590h7M129 795h7M184 681h7M598 690h7M665 705h7M489 653h7M148 713h7M393 634h7M310 860h7M129 834h7M540 831h7M175 685h7M171 856h7M627 744h7M565 696h7M237 639h7M485 847h7M512 653h7M297 599h7M587 685h7M365 859h7M126 740h7M277 640h7M654 727h7M485 839h7M640 710h7M134 648h7M365 631h7M239 860h7M606 696h7M337 612h7M606 711h7M194 679h7M468 638h7M604 696h7M625 715h7M326 612h7M646 716h7M455 853h7M198 652h7M559 683h7M460 622h7M132 811h7M266 861h7M546 828h7M324 616h7M237 636h7M477 646h7M647 754h7M312 858h7M367 616h7M628 766h7M197 677h7M122 802h7M272 596h7M102 740h7M599 796h7M429 852h7M376 634h7M645 757h7M409 852h7M104 791h7M198 661h7M178 653h7M133 743h7M139 849h7M618 782h7M579 696h7M450 847h7M651 707h7M192 656h7M172 701h7M650 732h7M640 781h7M128 758h7M119 742h7M567 808h7M422 634h7M532 829h7M118 780h7M266 620h7M631 716h7M135 751h7M475 839h7M116 840h7M604 686h7M258 643h7M240 859h7M620 726h7M668 753h7M190 613h7M301 868h7M266 874h7M588 701h7M336 600h7M189 667h7M597 644h7M356 599h7M118 656h7M501 845h7M134 754h7M555 690h7M646 749h7M548 825h7M395 586h7M598 699h7M388 855h7M159 663h7M531 680h7M515 659h7M184 676h7M638 798h7M132 747h7M121 803h7M172 610h7M176 669h7M450 645h7M556 689h7M628 743h7M206 668h7M543 830h7M568 691h7M205 654h7M489 843h7M633 702h7M611 793h7M611 792h7M155 713h7M158 648h7M670 718h7M436 850h7M231 630h7M547 686h7M618 782h7M616 721h7M663 754h7M265 867h7M389 599h7M379 621h7M645 723h7M379 628h7M334 606h7M442 626h7M471 650h7M177 862h7M482 842h7M668 697h7M596 799h7M604 707h7M639 733h7M80 749h7M369 855h7M143 856h7M469 659h7M585 684h7M347 618h7M489 842h7M518 664h7M134 751h7M143 798h7M483 633h7M473 848h7M297 620h7M619 728h7M233 617h7M627 713h7M550 691h7M128 802h7M281 621h7M646 731h7M134 786h7M332 614h7M332 585h7M163 665h7M534 680h7M256 623h7M543 825h7M540 825h7M498 624h7M124 789h7M444 642h7M206 863h7M376 614h7M257 860h7M514 675h7M526 684h7M631 715h7M407 635h7M354 599h7M294 616h7M620 733h7M383 607h7M163 618h7M270 639h7M399 855h7M153 712h7M129 834h7M200 861h7M173 654h7M386 857h7M280 586h7M620 731h7M666 738h7M179 652h7M609 777h7M559 661h7M636 698h7M567 696h7M188 633h7M199 622h7M122 700h7M116 775h7M155 729h7M489 843h7M461 593h7M199 673h7M232 646h7M352 855h7M196 647h7M119 711h7M480 849h7M390 598h7M134 806h7M490 655h7M444 646h7M203 656h7M172 635h7M87 756h7M628 746h7M631 763h7M621 767h7M469 846h7M556 812h7M606 719h7M648 734h7M571 694h7M626 776h7M219 863h7M196 674h7M607 699h7M533 837h7M626 738h7M433 643h7M161 726h7M638 754h7M385 854h7M652 752h7M129 828h7M681 706h7M458 615h7M214 642h7M364 625h7M122 713h7M625 734h7M205 654h7M638 743h7M151 856h7M519 835h7M191 658h7M493 658h7M171 666h7M606 661h7M646 745h7M356 622h7M640 707h7M400 630h7M595 701h7M241 860h7M163 699h7M466 659h7M669 751h7M221 639h7M126 763h7M627 729h7M524 825h7M638 697h7M668 757h7M147 849h7M160 853h7M629 774h7M263 615h7M506 840h7M229 618h7M144 756h7M683 760h7M454 588h7M139 749h7M138 777h7M225 648h7M367 613h7M412 639h7M121 816h7M125 757h7M143 852h7M571 697h7M254 636h7M627 738h7M519 672h7M312 623h7M635 775h7M546 825h7M632 782h7M489 672h7M394 595h7M581 677h7M359 587h7M100 781h7M121 634h7M555 815h7M154 725h7M164 687h7M171 682h7M608 698h7M685 734h7M138 755h7M660 766h7M625 696h7M492 658h7M142 740h7M421 640h7M266 633h7M116 802h7M145 727h7M640 778h7M58 786h7M91 773h7M56 795h7M473 638h7M643 744h7M195 669h7M135 820h7M594 701h7M466 648h7M620 715h7M176 681h7M544 670h7M117 665h7M110 698h7M319 860h7M136 785h7M206 630h7M631 732h7M516 842h7M638 751h7M595 679h7M640 788h7M592 792h7M175 689h7M164 723h7M383 632h7M631 733h7M685 752h7M242 645h7M612 715h7M212 659h7M527 828h7M454 566h7M636 732h7M665 740h7M116 745h7M336 870h7M499 837h7M171 687h7M660 762h7M623 744h7M654 758h7M605 797h7M573 691h7M632 717h7M630 712h7M664 761h7M531 663h7M432 576h7M122 837h7M586 804h7M491 644h7M134 697h7M343 864h7M541 686h7M164 655h7M611 694h7" stroke="#1a1a1a" stroke-opacity="0.75" stroke-width="7" fill="none"/>
<path transform="translate(13.1,517.8) scale(.1)" d="M104 699h7M58 677h7M112 766h7M90 768h7M68 856h7M72 811h7M51 682h7M84 747h7M45 675h7M50 728h7M107 820h7M98 750h7M133 795h7M37 718h7M26 741h7M113 738h7M111 717h7M53 720h7M62 870h7M106 747h7M60 608h7M88 657h7M43 791h7M59 751h7M49 877h7M27 754h7M47 815h7M78 747h7M70 828h7M68 633h7M69 800h7M9 849h7M54 844h7M86 760h7M49 784h7M121 760h7M82 694h7M115 741h7M15 884h7M35 885h7M115 729h7M44 625h7M67 876h7M22 831h7M114 625h7M18 810h7M28 862h7M75 794h7M49 482h7M62 785h7M86 850h7M86 808h7M65 832h7M109 726h7M66 854h7M105 709h7M60 616h7M38 806h7M67 821h7M20 814h7M97 760h7M80 687h7M28 765h7M111 826h7M80 854h7M21 590h7M33 796h7M107 810h7M66 673h7M104 770h7M140 672h7M102 748h7M77 671h7M65 780h7M15 701h7M137 857h7M91 788h7M27 884h7M56 688h7M38 766h7M28 705h7M68 647h7M33 751h7M9 734h7M123 758h7M69 708h7M61 518h7M80 722h7M89 761h7M109 689h7M95 745h7M105 796h7M103 757h7M67 635h7M95 836h7M97 808h7M86 653h7M102 907h7M65 703h7M46 726h7M111 641h7M85 807h7M105 770h7M55 814h7M37 730h7M38 735h7M73 755h7M85 806h7M112 815h7M99 719h7M30 739h7M125 743h7M79 816h7M101 625h7M62 684h7M65 731h7M116 828h7M71 664h7M84 685h7M47 725h7M107 811h7M113 679h7M39 742h7M90 639h7M56 667h7M58 828h7M9 728h7M48 752h7M60 746h7M130 683h7M88 726h7M120 673h7M74 709h7M116 716h7M77 699h7M13 798h7M86 715h7M63 797h7M88 865h7M118 775h7M9 765h7M87 832h7M109 687h7M35 824h7M83 661h7M20 687h7M64 724h7M126 856h7M96 789h7M106 727h7M62 819h7M43 747h7M86 771h7M81 731h7M54 675h7M67 711h7M123 892h7M95 787h7M101 684h7M95 766h7M34 672h7M61 712h7M46 779h7M42 912h7M116 846h7M104 886h7M73 811h7M39 697h7M74 701h7M96 883h7M73 602h7M43 785h7M41 779h7M88 772h7M44 632h7M98 647h7M105 732h7M86 796h7M127 648h7M80 723h7M41 781h7M52 753h7M34 615h7M53 895h7M33 659h7M63 816h7M15 890h7M100 695h7M62 757h7M8 807h7M47 763h7M104 739h7M75 781h7M37 805h7M97 681h7M44 694h7M106 820h7M106 612h7M76 576h7M63 768h7M50 794h7M65 730h7M47 836h7M105 711h7M123 695h7M36 844h7M49 837h7M91 822h7M86 687h7M9 758h7M29 740h7M88 824h7M33 750h7M129 763h7M98 734h7M51 759h7M97 815h7M51 756h7M43 690h7M60 777h7M14 691h7M84 799h7M102 692h7M71 739h7M28 713h7M133 744h7M42 857h7M79 738h7M42 738h7M106 780h7" stroke="#1a1a1a" stroke-opacity="0.75" stroke-width="7" fill="none"/>
<path transform="translate(13.1,517.8) scale(.1)" d="M623 657h6M522 558h6M432 784h6M537 686h6M398 438h6M602 610h6M407 678h6M473 729h6M501 704h6M510 730h6M484 654h6M516 552h6M544 647h6M439 790h6M619 595h6M694 556h6M426 723h6M565 793h6M562 578h6M600 674h6M446 700h6M518 817h6M544 640h6M508 555h6M590 578h6M491 540h6M528 801h6M602 642h6M582 629h6M752 649h6M548 570h6M536 624h6M572 591h6M592 645h6M468 750h6M715 774h6M721 647h6M457 766h6M600 670h6M544 596h6M605 727h6M579 543h6M696 778h6M550 786h6M536 654h6M481 825h6M576 766h6M423 779h6M580 720h6M428 633h6M633 634h6M587 755h6M302 755h6M541 574h6M477 794h6M568 544h6M777 684h6M624 674h6M453 848h6M485 691h6M598 567h6M505 791h6M403 544h6M725 714h6M647 562h6M622 775h6M522 747h6M606 692h6M605 687h6M618 627h6" stroke="#1a1a1a" stroke-opacity="0.45" stroke-width="6" fill="none"/>
<path d="M26 602.4C24.63 600.83 26.35 596.63 27.2 594.2C28.05 591.77 29.73 589.55 31.1 587.8C32.47 586.05 32.93 584.87 35.4 583.7C37.87 582.53 42.4 581 45.9 580.8C49.4 580.6 53.28 581.53 56.4 582.5C59.52 583.47 61.88 585.52 64.6 586.6C67.32 587.68 70.85 588.02 72.7 589C74.55 589.98 75.7 591.15 75.7 592.5C75.7 593.85 74.55 595.75 72.7 597.1C70.85 598.45 67.9 599.62 64.6 600.6C61.3 601.58 57.77 602.5 52.9 603C48.03 603.5 39.88 603.7 35.4 603.6C30.92 603.5 27.37 603.97 26 602.4Z" fill="#fff" stroke="#777" stroke-width="0.55"/>
<path d="M29.07 601.69C27.87 600.31 29.38 596.61 30.13 594.47C30.88 592.33 32.36 590.38 33.56 588.84C34.76 587.3 35.17 586.26 37.34 585.23C39.51 584.21 43.5 582.86 46.58 582.68C49.66 582.5 53.08 583.33 55.82 584.18C58.57 585.03 60.65 586.83 63.04 587.78C65.43 588.74 68.54 589.03 70.17 589.9C71.8 590.76 72.81 591.79 72.81 592.98C72.81 594.16 71.8 595.84 70.17 597.02C68.54 598.21 65.94 599.24 63.04 600.1C60.14 600.97 57.03 601.78 52.74 602.22C48.46 602.66 41.29 602.83 37.34 602.74C33.4 602.66 30.27 603.07 29.07 601.69Z" fill="none" stroke="#8c8c8c" stroke-width="0.45"/>
<path d="M31.64 600.48C30.61 599.29 31.91 596.09 32.56 594.24C33.2 592.39 34.48 590.71 35.52 589.38C36.56 588.05 36.91 587.15 38.79 586.26C40.66 585.38 44.11 584.21 46.77 584.06C49.43 583.91 52.38 584.62 54.75 585.35C57.12 586.09 58.92 587.64 60.98 588.47C63.04 589.29 65.73 589.54 67.14 590.29C68.54 591.04 69.42 591.93 69.42 592.95C69.42 593.98 68.54 595.42 67.14 596.45C65.73 597.47 63.49 598.36 60.98 599.11C58.47 599.86 55.79 600.55 52.09 600.93C48.39 601.31 42.2 601.46 38.79 601.39C35.38 601.31 32.68 601.67 31.64 600.48Z" fill="none" stroke="#8c8c8c" stroke-width="0.45"/>
<path d="M34.02 599.26C33.14 598.26 34.24 595.57 34.78 594.02C35.33 592.46 36.41 591.04 37.28 589.92C38.15 588.8 38.45 588.04 40.03 587.3C41.61 586.55 44.51 585.57 46.75 585.44C48.99 585.31 51.48 585.91 53.47 586.53C55.47 587.15 56.98 588.46 58.72 589.15C60.46 589.85 62.72 590.06 63.9 590.69C65.09 591.32 65.82 592.06 65.82 592.93C65.82 593.79 65.09 595.01 63.9 595.87C62.72 596.74 60.83 597.48 58.72 598.11C56.61 598.74 54.35 599.33 51.23 599.65C48.12 599.97 42.9 600.1 40.03 600.03C37.16 599.97 34.89 600.27 34.02 599.26Z" fill="none" stroke="#8c8c8c" stroke-width="0.45"/>
<path d="M36.09 598.05C35.38 597.24 36.27 595.05 36.71 593.79C37.15 592.52 38.03 591.37 38.74 590.46C39.45 589.55 39.69 588.93 40.98 588.33C42.26 587.72 44.62 586.92 46.44 586.82C48.26 586.72 50.28 587.2 51.9 587.7C53.52 588.21 54.75 589.27 56.16 589.84C57.57 590.4 59.41 590.57 60.37 591.08C61.33 591.6 61.93 592.2 61.93 592.9C61.93 593.61 61.33 594.59 60.37 595.3C59.41 596 57.88 596.6 56.16 597.12C54.44 597.63 52.61 598.1 50.08 598.36C47.55 598.62 43.31 598.73 40.98 598.68C38.64 598.62 36.8 598.87 36.09 598.05Z" fill="none" stroke="#8c8c8c" stroke-width="0.45"/>
<ellipse cx="42.6" cy="591.8" rx="7.5" ry="5" fill="none" stroke="#999" stroke-width="0.4" opacity="1" transform="rotate(-15 42.6 591.8)"/>
<ellipse cx="41.6" cy="591.3" rx="4.6" ry="3" fill="none" stroke="#999" stroke-width="0.4" opacity="1" transform="rotate(-15 41.6 591.3)"/>
<ellipse cx="41.1" cy="591.1" rx="2.2" ry="1.4" fill="none" stroke="#999" stroke-width="0.4" opacity="1" transform="rotate(-15 41.1 591.1)"/>
<ellipse cx="65.6" cy="592.8" rx="5.5" ry="3.6" fill="none" stroke="#999" stroke-width="0.4" opacity="1" transform="rotate(-20 65.6 592.8)"/>
<path d="M13.3 583.3q5.4 10.5 0 21.5" fill="#858585" stroke="#2a2a2a" stroke-width="0.8"/>
<rect x="58" y="566.4" width="33.3" height="41.8" stroke="#1a1a1a" stroke-width="1.35" fill="none"/>
<text x="74.8" y="560.96" font-size="9.6" text-anchor="middle" style="stroke-width:.03px">27.3</text>
<text transform="translate(7.48,570.4) rotate(-90)" font-size="8.8" text-anchor="middle">SSC</text>
<rect x="133.6" y="517.8" width="99.4" height="98.9" stroke="#6a6a6a" stroke-width="0.75" fill="#fff"/>
<path d="M136.6 616.7v1.5M143.56 616.7v1M147.53 616.7v1M150.52 616.7v1M152.9 616.7v1M154.89 616.7v1M156.48 616.7v1.5M163.44 616.7v1M167.41 616.7v1M170.4 616.7v1M172.78 616.7v1M174.77 616.7v1M176.36 616.7v1.5M183.32 616.7v1M187.29 616.7v1M190.28 616.7v1M192.66 616.7v1M194.65 616.7v1M196.24 616.7v1.5M203.2 616.7v1M207.17 616.7v1M210.16 616.7v1M212.54 616.7v1M214.53 616.7v1M216.12 616.7v1.5M223.08 616.7v1M227.05 616.7v1M230.04 616.7v1M132.3 613.2h2M132.7 608.5h1.5M132.7 603.8h1.5M132.7 599.1h1.5M132.7 594.4h1.5M132.3 589.7h2M132.7 585h1.5M132.7 580.3h1.5M132.7 575.6h1.5M132.7 570.9h1.5M132.3 566.2h2M132.7 561.5h1.5M132.7 556.8h1.5M132.7 552.1h1.5M132.7 547.4h1.5M132.3 542.7h2M132.7 538h1.5M132.7 533.3h1.5M132.7 528.6h1.5M132.7 523.9h1.5" stroke="#444" stroke-width="0.6" fill="none"/>
<path transform="translate(133.6,517.8) scale(.1)" d="M646 730h7M134 838h7M636 720h7M643 741h7M83 785h7M588 703h7M164 717h7M603 789h7M612 756h7M128 816h7M112 704h7M377 858h7M621 787h7M593 698h7M155 702h7M660 794h7M372 626h7M557 680h7M391 606h7M609 769h7M492 652h7M123 716h7M652 786h7M191 686h7M651 743h7M271 609h7M655 800h7M185 688h7M603 693h7M583 676h7M513 839h7M633 765h7M129 753h7M547 684h7M156 851h7M631 731h7M148 697h7M464 636h7M637 686h7M533 677h7M574 666h7M543 640h7M541 822h7M266 869h7M330 616h7M591 715h7M210 642h7M405 863h7M515 638h7M206 650h7M675 700h7M357 600h7M226 636h7M537 680h7M654 743h7M197 621h7M607 710h7M388 617h7M182 660h7M231 643h7M216 663h7M113 760h7M602 718h7M120 781h7M469 645h7M598 715h7M168 674h7M177 686h7M647 719h7M130 698h7M205 640h7M176 601h7M634 747h7M283 639h7M645 733h7M627 731h7M370 599h7M229 864h7M651 743h7M323 599h7M295 614h7M597 679h7M642 781h7M383 616h7M243 863h7M559 698h7M522 666h7M134 836h7M253 575h7M613 788h7M503 640h7M252 591h7M536 824h7M322 606h7M519 833h7M396 623h7M355 591h7M289 614h7M531 683h7M596 708h7M660 774h7M474 646h7M226 632h7M329 627h7M634 725h7M456 844h7M118 707h7M564 813h7M98 778h7M211 628h7M601 702h7M597 795h7M560 813h7M348 597h7M143 800h7M615 761h7M550 818h7M388 627h7M586 682h7M573 650h7M392 627h7M185 659h7M321 626h7M589 674h7M577 704h7M470 654h7M486 838h7M426 633h7M633 776h7M255 644h7M238 632h7M162 698h7M617 721h7M281 620h7M299 613h7M644 749h7M279 596h7M401 606h7M184 644h7M154 751h7M354 618h7M453 850h7M173 659h7M457 844h7M437 609h7M205 669h7M467 849h7M408 628h7M114 695h7M316 621h7M527 662h7M582 700h7M379 855h7M451 853h7M592 805h7M144 860h7M197 634h7M436 641h7M448 635h7M192 642h7M144 613h7M134 757h7M119 730h7M154 857h7M572 691h7M156 851h7M210 627h7M162 852h7M172 689h7M157 735h7M213 860h7M545 689h7M333 627h7M679 774h7M402 856h7M377 630h7M113 789h7M611 721h7M622 714h7M182 694h7M332 617h7M434 850h7M243 635h7M213 655h7M464 641h7M171 726h7M616 720h7M628 715h7M209 672h7M581 668h7M133 788h7M415 858h7M606 700h7M228 634h7M560 699h7M113 779h7M112 756h7M213 660h7M339 622h7M282 623h7M578 702h7M543 688h7M276 617h7M218 865h7M526 667h7M600 801h7M502 844h7M447 625h7M592 661h7M202 634h7M217 660h7M600 726h7M131 795h7M544 689h7M612 716h7M250 643h7M201 664h7M472 840h7M609 775h7M331 620h7M401 561h7M390 633h7M156 721h7M341 582h7M630 776h7M603 779h7M434 637h7M259 620h7M244 649h7M169 854h7M124 681h7M383 616h7M124 737h7M621 744h7M491 838h7M562 698h7M578 694h7M141 853h7M228 623h7M568 683h7M564 808h7M224 862h7M121 828h7M263 607h7M451 848h7M133 760h7M453 653h7M182 666h7M346 856h7M688 710h7M389 632h7M364 864h7M593 793h7M467 844h7M463 626h7M603 772h7M94 701h7M392 866h7M620 768h7M209 648h7M167 730h7M508 642h7M321 581h7M134 773h7M617 778h7M524 830h7M384 574h7M135 853h7M598 810h7M432 850h7M367 859h7M312 626h7M312 602h7M644 791h7M480 835h7M174 690h7M126 846h7M202 863h7M211 637h7M546 661h7M137 795h7M624 733h7M158 701h7M535 673h7M141 748h7M157 686h7M119 702h7M146 823h7M179 692h7M175 690h7M378 629h7M135 831h7M642 704h7M125 759h7M349 614h7M122 725h7M566 810h7M79 756h7M151 710h7M265 864h7M149 629h7M367 584h7M607 716h7M330 571h7M454 641h7M522 671h7M131 813h7M467 622h7M285 636h7M167 708h7M119 632h7M361 863h7M151 670h7M274 626h7M136 791h7M584 808h7M634 747h7M251 640h7M189 672h7M621 674h7M255 863h7M533 820h7M386 597h7M613 720h7M550 664h7M194 870h7M621 738h7M633 732h7M678 738h7M507 832h7M196 656h7M573 700h7M618 764h7M596 789h7M218 861h7M505 843h7M207 861h7M151 724h7M454 645h7M115 761h7M508 678h7M437 642h7M342 614h7M429 592h7M505 676h7M170 854h7M429 642h7M580 803h7M247 634h7M604 711h7M637 782h7M133 706h7M635 777h7M155 753h7M509 653h7M649 751h7M137 800h7M146 604h7M146 712h7M663 734h7M456 632h7M642 706h7M636 742h7M248 861h7M441 588h7M361 608h7M592 709h7M181 695h7M384 634h7M630 705h7M222 861h7M133 746h7M538 631h7M204 639h7M401 601h7M568 803h7M131 742h7M486 656h7M599 713h7M619 735h7M451 628h7M145 739h7M625 741h7M638 706h7M272 636h7M292 593h7M150 744h7M578 803h7M356 616h7M244 861h7M534 667h7M383 629h7M391 860h7M602 782h7M616 728h7M529 654h7M509 628h7M448 649h7M288 636h7M169 860h7M573 683h7M667 768h7M175 686h7M469 842h7M301 614h7M305 865h7M481 652h7M378 620h7M555 690h7M494 645h7M599 717h7M652 743h7M285 630h7M485 635h7M412 852h7M130 761h7M649 713h7M561 674h7M623 709h7M135 754h7M572 699h7M610 737h7M153 765h7M655 747h7M298 623h7M537 696h7M374 865h7M346 858h7M136 745h7M184 661h7M355 601h7M552 630h7M638 742h7M471 841h7M194 659h7M203 640h7M633 739h7M162 648h7M131 848h7M609 653h7M222 868h7M437 620h7M575 809h7M250 621h7M633 743h7M605 773h7M647 734h7M561 694h7M599 786h7M352 587h7M651 734h7M137 769h7M428 629h7M157 701h7M587 699h7M631 754h7M524 595h7M305 602h7M558 817h7M630 768h7M143 757h7M407 618h7M200 674h7M562 815h7M156 753h7M174 704h7M623 706h7M559 689h7M153 704h7M640 726h7M172 854h7M532 683h7M530 662h7M316 613h7M634 785h7M655 779h7M462 632h7M319 625h7M210 653h7M536 685h7M248 637h7M366 592h7M654 787h7M624 765h7M493 669h7M156 676h7M622 750h7M340 608h7M308 603h7M655 735h7M454 555h7M572 681h7M561 813h7M141 752h7M195 693h7M146 854h7M322 866h7M213 640h7M156 723h7M554 814h7M362 609h7M519 826h7M590 726h7M560 695h7M649 755h7M263 621h7M415 856h7M200 659h7M342 613h7M436 622h7M627 738h7M688 808h7M546 823h7M154 860h7M157 734h7M518 640h7M370 622h7M610 703h7M464 640h7M177 685h7M472 642h7M249 647h7M320 621h7M627 719h7M201 644h7M402 638h7M467 621h7M653 723h7M606 650h7M440 856h7M431 616h7M321 858h7M626 697h7M194 616h7M390 616h7M486 655h7M299 862h7M178 857h7" stroke="#1a1a1a" stroke-opacity="0.65" stroke-width="7" fill="none"/>
<path transform="translate(133.6,517.8) scale(.1)" d="M75 750h7M122 759h7M84 722h7M79 764h7M35 694h7M44 674h7M85 741h7M70 813h7M51 786h7M76 712h7M72 784h7M35 803h7M38 713h7M75 717h7M112 741h7M20 836h7M28 729h7M59 709h7M67 684h7M112 728h7M113 719h7M49 791h7M52 735h7M128 798h7M77 676h7M112 730h7M118 650h7M86 832h7M47 649h7M27 748h7M134 868h7M35 839h7M135 797h7M125 829h7M69 816h7M126 664h7M23 768h7M73 727h7M48 769h7M76 781h7M35 865h7M107 779h7M73 760h7M95 726h7M82 677h7M112 790h7M25 690h7M12 703h7M73 886h7M80 776h7M32 628h7M76 809h7M81 649h7M76 734h7M63 815h7M36 823h7M113 731h7M91 866h7M136 842h7M28 694h7M101 696h7M37 729h7M33 678h7M70 649h7M78 842h7M76 665h7M50 710h7M133 683h7M85 712h7M71 852h7M121 704h7M125 760h7M27 787h7M101 727h7M119 720h7M130 697h7M86 661h7M24 769h7M25 782h7M87 889h7M62 689h7M27 835h7M96 803h7M61 825h7M60 746h7M64 810h7M35 686h7M60 755h7M10 711h7M127 637h7M77 692h7M83 804h7M66 697h7M73 811h7M30 713h7M63 708h7M77 794h7M70 685h7M61 748h7M80 892h7M121 794h7M67 747h7M20 708h7M77 728h7M18 808h7M52 717h7M116 848h7M117 727h7M50 826h7M28 707h7M130 772h7M84 791h7M100 725h7M66 739h7M121 802h7M70 799h7M13 717h7M57 783h7M95 731h7M78 740h7M48 807h7M74 713h7M80 839h7M106 725h7M51 765h7M70 739h7M73 762h7M67 787h7M82 658h7M89 728h7M54 835h7M101 747h7M68 688h7M34 767h7M74 793h7M92 826h7M116 699h7M52 761h7M94 792h7M86 784h7M12 836h7M133 866h7M114 668h7M100 689h7M71 775h7M112 726h7M96 687h7M41 771h7M55 806h7M81 639h7M38 786h7M53 783h7M78 821h7M76 829h7M48 691h7M91 729h7M49 665h7M16 857h7M92 847h7M105 742h7M97 698h7M22 632h7M77 719h7M45 639h7M15 767h7M122 840h7M63 896h7M115 768h7M39 713h7M64 708h7M88 682h7M92 695h7M58 706h7M101 744h7" stroke="#1a1a1a" stroke-opacity="0.65" stroke-width="7" fill="none"/>
<path transform="translate(133.6,517.8) scale(.1)" d="M500 673h6M581 763h6M672 729h6M599 801h6M712 714h6M499 846h6M574 780h6M491 643h6M517 663h6M497 608h6M494 688h6M527 624h6M479 645h6M477 839h6M659 846h6M524 573h6M634 507h6M557 577h6M683 617h6M668 665h6M551 612h6M632 868h6M751 589h6M592 756h6M595 822h6M524 858h6M421 700h6M561 693h6M488 445h6M688 659h6M457 698h6M580 741h6M579 707h6M642 630h6M493 780h6M648 588h6M639 686h6M522 512h6M472 706h6M755 635h6M437 809h6M517 639h6M543 660h6M575 536h6M710 693h6M567 674h6M482 576h6M515 723h6M503 804h6M462 637h6M617 643h6M669 528h6" stroke="#1a1a1a" stroke-opacity="0.45" stroke-width="6" fill="none"/>
<path d="M147.27 602.4C145.94 600.83 147.61 596.63 148.43 594.2C149.26 591.77 150.89 589.55 152.22 587.8C153.54 586.05 153.99 584.87 156.39 583.7C158.78 582.53 163.18 581 166.57 580.8C169.97 580.6 173.73 581.53 176.76 582.5C179.78 583.47 182.07 585.52 184.71 586.6C187.35 587.68 190.77 588.02 192.57 589C194.36 589.98 195.48 591.15 195.48 592.5C195.48 593.85 194.36 595.75 192.57 597.1C190.77 598.45 187.91 599.62 184.71 600.6C181.51 601.58 178.08 602.5 173.36 603C168.64 603.5 160.73 603.7 156.39 603.6C152.04 603.5 148.59 603.97 147.27 602.4Z" fill="#fff" stroke="#777" stroke-width="0.55"/>
<path d="M150.25 601.69C149.08 600.31 150.55 596.61 151.27 594.47C152 592.33 153.43 590.38 154.6 588.84C155.77 587.3 156.17 586.26 158.27 585.23C160.38 584.21 164.25 582.86 167.23 582.68C170.22 582.5 173.54 583.33 176.2 584.18C178.86 585.03 180.88 586.83 183.2 587.78C185.52 588.74 188.53 589.03 190.11 589.9C191.69 590.76 192.67 591.79 192.67 592.98C192.67 594.16 191.69 595.84 190.11 597.02C188.53 598.21 186.01 599.24 183.2 600.1C180.38 600.97 177.36 601.78 173.21 602.22C169.06 602.66 162.1 602.83 158.27 602.74C154.44 602.66 151.41 603.07 150.25 601.69Z" fill="none" stroke="#8c8c8c" stroke-width="0.45"/>
<path d="M152.73 600.48C151.72 599.29 152.99 596.09 153.61 594.24C154.24 592.39 155.48 590.71 156.49 589.38C157.49 588.05 157.84 587.15 159.66 586.26C161.48 585.38 164.82 584.21 167.4 584.06C169.98 583.91 172.84 584.62 175.14 585.35C177.44 586.09 179.18 587.64 181.18 588.47C183.19 589.29 185.79 589.54 187.15 590.29C188.52 591.04 189.37 591.93 189.37 592.95C189.37 593.98 188.52 595.42 187.15 596.45C185.79 597.47 183.62 598.36 181.18 599.11C178.75 599.86 176.15 600.55 172.56 600.93C168.97 601.31 162.96 601.46 159.66 601.39C156.35 601.31 153.74 601.67 152.73 600.48Z" fill="none" stroke="#8c8c8c" stroke-width="0.45"/>
<path d="M155.01 599.26C154.16 598.26 155.22 595.57 155.75 594.02C156.28 592.46 157.33 591.04 158.17 589.92C159.02 588.8 159.31 588.04 160.84 587.3C162.37 586.55 165.19 585.57 167.36 585.44C169.53 585.31 171.95 585.91 173.88 586.53C175.81 587.15 177.28 588.46 178.97 589.15C180.66 589.85 182.85 590.06 184 590.69C185.15 591.32 185.86 592.06 185.86 592.93C185.86 593.79 185.15 595.01 184 595.87C182.85 596.74 181.02 597.48 178.97 598.11C176.92 598.74 174.73 599.33 171.71 599.65C168.69 599.97 163.63 600.1 160.84 600.03C158.06 599.97 155.86 600.27 155.01 599.26Z" fill="none" stroke="#8c8c8c" stroke-width="0.45"/>
<path d="M156.99 598.05C156.3 597.24 157.16 595.05 157.59 593.79C158.02 592.52 158.87 591.37 159.56 590.46C160.25 589.55 160.48 588.93 161.73 588.33C162.97 587.72 165.26 586.92 167.02 586.82C168.79 586.72 170.75 587.2 172.32 587.7C173.89 588.21 175.09 589.27 176.46 589.84C177.83 590.4 179.61 590.57 180.54 591.08C181.48 591.6 182.06 592.2 182.06 592.9C182.06 593.61 181.48 594.59 180.54 595.3C179.61 596 178.12 596.6 176.46 597.12C174.79 597.63 173.01 598.1 170.56 598.36C168.1 598.62 163.99 598.73 161.73 598.68C159.47 598.62 157.68 598.87 156.99 598.05Z" fill="none" stroke="#8c8c8c" stroke-width="0.45"/>
<ellipse cx="163.1" cy="591.8" rx="7.5" ry="5" fill="none" stroke="#999" stroke-width="0.4" opacity="1" transform="rotate(-15 163.1 591.8)"/>
<ellipse cx="162.1" cy="591.3" rx="4.6" ry="3" fill="none" stroke="#999" stroke-width="0.4" opacity="1" transform="rotate(-15 162.1 591.3)"/>
<ellipse cx="161.6" cy="591.1" rx="2.2" ry="1.4" fill="none" stroke="#999" stroke-width="0.4" opacity="1" transform="rotate(-15 161.6 591.1)"/>
<ellipse cx="185.68" cy="592.8" rx="5.5" ry="3.6" fill="none" stroke="#999" stroke-width="0.4" opacity="1" transform="rotate(-20 185.68 592.8)"/>
<path d="M133.8 583.3q5.4 10.5 0 21.5" fill="#858585" stroke="#2a2a2a" stroke-width="0.8"/>
<rect x="178.5" y="566.4" width="33.2" height="41.8" stroke="#1a1a1a" stroke-width="1.35" fill="none"/>
<text x="195.3" y="560.96" font-size="9.6" text-anchor="middle" style="stroke-width:.03px">32.4</text>
<text transform="translate(128.98,570.4) rotate(-90)" font-size="8.8" text-anchor="middle">SSC</text>
<rect x="254" y="517.8" width="99.4" height="98.9" stroke="#6a6a6a" stroke-width="0.75" fill="#fff"/>
<path d="M257 616.7v1.5M263.96 616.7v1M267.93 616.7v1M270.92 616.7v1M273.3 616.7v1M275.29 616.7v1M276.88 616.7v1.5M283.84 616.7v1M287.81 616.7v1M290.8 616.7v1M293.18 616.7v1M295.17 616.7v1M296.76 616.7v1.5M303.72 616.7v1M307.69 616.7v1M310.68 616.7v1M313.06 616.7v1M315.05 616.7v1M316.64 616.7v1.5M323.6 616.7v1M327.57 616.7v1M330.56 616.7v1M332.94 616.7v1M334.93 616.7v1M336.52 616.7v1.5M343.48 616.7v1M347.45 616.7v1M350.44 616.7v1M252.7 613.2h2M253.1 608.5h1.5M253.1 603.8h1.5M253.1 599.1h1.5M253.1 594.4h1.5M252.7 589.7h2M253.1 585h1.5M253.1 580.3h1.5M253.1 575.6h1.5M253.1 570.9h1.5M252.7 566.2h2M253.1 561.5h1.5M253.1 556.8h1.5M253.1 552.1h1.5M253.1 547.4h1.5M252.7 542.7h2M253.1 538h1.5M253.1 533.3h1.5M253.1 528.6h1.5M253.1 523.9h1.5" stroke="#444" stroke-width="0.6" fill="none"/>
<path transform="translate(254,517.8) scale(.1)" d="M399 865h7M248 647h7M149 757h7M128 751h7M460 636h7M244 642h7M578 819h7M305 865h7M201 675h7M141 847h7M163 859h7M615 712h7M110 711h7M219 862h7M424 595h7M615 773h7M511 637h7M325 616h7M220 664h7M597 690h7M620 791h7M632 725h7M541 824h7M451 642h7M151 752h7M162 686h7M617 753h7M131 750h7M184 669h7M419 637h7M302 616h7M268 859h7M496 834h7M278 859h7M647 784h7M230 641h7M323 858h7M597 791h7M221 663h7M645 797h7M544 666h7M574 704h7M634 729h7M643 770h7M400 613h7M154 763h7M582 689h7M135 827h7M443 648h7M266 862h7M176 683h7M264 869h7M550 689h7M431 851h7M448 611h7M509 680h7M178 695h7M626 734h7M480 837h7M554 810h7M294 867h7M163 686h7M239 635h7M314 583h7M322 588h7M544 674h7M145 789h7M429 608h7M149 749h7M593 691h7M611 712h7M119 726h7M196 659h7M525 677h7M534 820h7M591 790h7M331 862h7M207 662h7M620 734h7M455 843h7M474 655h7M158 742h7M168 677h7M612 692h7M399 610h7M252 619h7M113 743h7M699 750h7M417 631h7M246 646h7M360 630h7M491 837h7M165 694h7M609 698h7M223 642h7M248 618h7M149 700h7M636 751h7M619 756h7M555 696h7M290 614h7M563 811h7M649 762h7M317 591h7M425 851h7M564 698h7M144 854h7M136 801h7M140 643h7M646 746h7M563 700h7M573 699h7M356 593h7M410 605h7M238 635h7M334 584h7M562 809h7M148 741h7M548 691h7M539 818h7M606 772h7M626 753h7M190 703h7M354 600h7M590 773h7M192 642h7M489 665h7M615 719h7M206 860h7M654 760h7M135 687h7M192 662h7M326 603h7M470 647h7M125 769h7M584 802h7M313 622h7M559 694h7M504 663h7M236 588h7M646 742h7M634 686h7M499 834h7M591 798h7M594 788h7M269 617h7M146 759h7M453 582h7M628 747h7M534 631h7M188 674h7M210 870h7M280 868h7M626 734h7M380 591h7M648 701h7M161 683h7M625 782h7M644 731h7M294 860h7M123 757h7M271 865h7M557 814h7M128 780h7M609 765h7M562 690h7M342 579h7M166 686h7M267 595h7M194 859h7M135 834h7M614 762h7M292 618h7M232 861h7M399 865h7M128 746h7M204 664h7M258 589h7M273 608h7M108 759h7M527 825h7M120 712h7M196 642h7M131 832h7M581 806h7M165 860h7M615 753h7M617 732h7M422 599h7M423 622h7M318 590h7M257 619h7M611 674h7M570 691h7M262 640h7M661 730h7M228 863h7M438 846h7M512 679h7M146 704h7M582 705h7M351 579h7M121 750h7M185 680h7M192 685h7M235 614h7M147 812h7M272 636h7M226 629h7M591 786h7M581 799h7M554 820h7M145 707h7M302 857h7M167 854h7M574 700h7M273 871h7M590 673h7M147 769h7M652 759h7M605 730h7M334 626h7M491 670h7M190 618h7M596 782h7M600 789h7M206 676h7M571 701h7M452 636h7M623 704h7M559 690h7M582 802h7M494 673h7M527 821h7M481 643h7M571 811h7M484 654h7M375 608h7M655 751h7M628 732h7M556 808h7M598 653h7M223 866h7M542 677h7M528 669h7M195 683h7M438 579h7M254 860h7M120 857h7M506 671h7M245 615h7M382 593h7M621 746h7M608 789h7M136 751h7M139 774h7M359 592h7M142 751h7M194 687h7M142 705h7M651 734h7M434 854h7M171 658h7M124 736h7M531 827h7M444 583h7M451 656h7M510 846h7M591 691h7M157 743h7M679 799h7M167 705h7M530 693h7M144 850h7M144 784h7M519 647h7M162 631h7M623 754h7M580 688h7M625 704h7M417 855h7M533 592h7M489 843h7M459 650h7M313 628h7M621 751h7M393 560h7M529 818h7M655 735h7M418 634h7M562 812h7M173 632h7M429 615h7M399 617h7M321 857h7M207 658h7M627 792h7M578 796h7M332 859h7M653 737h7M514 647h7M375 610h7M235 616h7M405 856h7M641 805h7M585 693h7M585 685h7M152 721h7M503 833h7M512 671h7M628 787h7M237 862h7M591 676h7M509 678h7M591 685h7M436 618h7M120 796h7M439 614h7M504 639h7M610 783h7M568 805h7M237 642h7" stroke="#1a1a1a" stroke-opacity="0.5" stroke-width="7" fill="none"/>
<path transform="translate(254,517.8) scale(.1)" d="M33 760h7M92 753h7M90 812h7M72 754h7M77 807h7M61 827h7M12 739h7M94 859h7M120 808h7M75 753h7M22 859h7M46 748h7M22 733h7M102 632h7M104 699h7M74 780h7M125 737h7M114 730h7M111 695h7M21 771h7M98 787h7M49 750h7M86 779h7M43 751h7M115 712h7M10 654h7M118 676h7M83 722h7M112 778h7M107 749h7M103 715h7M105 738h7M80 756h7M69 610h7M16 741h7M18 718h7M90 615h7M73 692h7M56 845h7M72 741h7M65 802h7M82 854h7M79 722h7M49 848h7M10 738h7M88 717h7M36 785h7M89 638h7M137 784h7M88 726h7M40 823h7M46 740h7M122 811h7M51 729h7M47 689h7M55 780h7M23 709h7M56 890h7M34 783h7M112 759h7M60 759h7M85 754h7M22 751h7M75 721h7M104 689h7M135 772h7M43 721h7M74 779h7M114 700h7M48 811h7M96 696h7M121 858h7M87 747h7M30 704h7M79 735h7M32 823h7M71 666h7M89 780h7M42 825h7M87 754h7M70 777h7M72 795h7M86 750h7M53 693h7M54 817h7M122 732h7M63 659h7M77 797h7M99 769h7M62 712h7M54 741h7M86 656h7M64 828h7M55 663h7M43 683h7M124 709h7M15 765h7M61 794h7M107 778h7M38 734h7M34 756h7M80 809h7" stroke="#1a1a1a" stroke-opacity="0.5" stroke-width="7" fill="none"/>
<path transform="translate(254,517.8) scale(.1)" d="M587 601h6M661 590h6M579 656h6M524 617h6M498 728h6M507 824h6M486 516h6M461 596h6M347 659h6M486 777h6M542 638h6M398 573h6M509 456h6M458 812h6M559 699h6M467 621h6M491 759h6M545 553h6M493 708h6M367 692h6M776 647h6M536 593h6M577 809h6M530 657h6M573 656h6M469 587h6M633 655h6M537 791h6M668 827h6M210 691h6M487 591h6" stroke="#1a1a1a" stroke-opacity="0.45" stroke-width="6" fill="none"/>
<path d="M268.18 602.4C266.88 600.83 268.51 596.63 269.32 594.2C270.13 591.77 271.73 589.55 273.02 587.8C274.32 586.05 274.77 584.87 277.11 583.7C279.45 582.53 283.76 581 287.08 580.8C290.41 580.6 294.1 581.53 297.06 582.5C300.02 583.47 302.27 585.52 304.85 586.6C307.43 587.68 310.79 588.02 312.55 589C314.3 589.98 315.39 591.15 315.39 592.5C315.39 593.85 314.3 595.75 312.55 597.1C310.79 598.45 307.99 599.62 304.85 600.6C301.72 601.58 298.36 602.5 293.74 603C289.11 603.5 281.37 603.7 277.11 603.6C272.85 603.5 269.48 603.97 268.18 602.4Z" fill="#fff" stroke="#777" stroke-width="0.55"/>
<path d="M271.1 601.69C269.96 600.31 271.39 596.61 272.1 594.47C272.81 592.33 274.22 590.38 275.36 588.84C276.5 587.3 276.89 586.26 278.96 585.23C281.02 584.21 284.81 582.86 287.73 582.68C290.66 582.5 293.91 583.33 296.51 584.18C299.12 585.03 301.1 586.83 303.37 587.78C305.64 588.74 308.59 589.03 310.14 589.9C311.69 590.76 312.65 591.79 312.65 592.98C312.65 594.16 311.69 595.84 310.14 597.02C308.59 598.21 306.13 599.24 303.37 600.1C300.61 600.97 297.66 601.78 293.59 602.22C289.52 602.66 282.7 602.83 278.96 602.74C275.21 602.66 272.24 603.07 271.1 601.69Z" fill="none" stroke="#8c8c8c" stroke-width="0.45"/>
<path d="M273.52 600.48C272.53 599.29 273.77 596.09 274.38 594.24C275 592.39 276.21 590.71 277.2 589.38C278.19 588.05 278.52 587.15 280.3 586.26C282.08 585.38 285.36 584.21 287.88 584.06C290.41 583.91 293.22 584.62 295.47 585.35C297.72 586.09 299.42 587.64 301.39 588.47C303.35 589.29 305.9 589.54 307.23 590.29C308.57 591.04 309.4 591.93 309.4 592.95C309.4 593.98 308.57 595.42 307.23 596.45C305.9 597.47 303.77 598.36 301.39 599.11C299 599.86 296.45 600.55 292.94 600.93C289.42 601.31 283.54 601.46 280.3 601.39C277.07 601.31 274.5 601.67 273.52 600.48Z" fill="none" stroke="#8c8c8c" stroke-width="0.45"/>
<path d="M275.74 599.26C274.9 598.26 275.95 595.57 276.46 594.02C276.98 592.46 278.01 591.04 278.84 589.92C279.67 588.8 279.95 588.04 281.45 587.3C282.95 586.55 285.71 585.57 287.83 585.44C289.96 585.31 292.32 585.91 294.22 586.53C296.11 587.15 297.55 588.46 299.2 589.15C300.86 589.85 303 590.06 304.13 590.69C305.25 591.32 305.95 592.06 305.95 592.93C305.95 593.79 305.25 595.01 304.13 595.87C303 596.74 301.21 597.48 299.2 598.11C297.2 598.74 295.05 599.33 292.09 599.65C289.13 599.97 284.18 600.1 281.45 600.03C278.72 599.97 276.57 600.27 275.74 599.26Z" fill="none" stroke="#8c8c8c" stroke-width="0.45"/>
<path d="M277.65 598.05C276.98 597.24 277.83 595.05 278.25 593.79C278.67 592.52 279.5 591.37 280.17 590.46C280.85 589.55 281.08 588.93 282.3 588.33C283.52 587.72 285.76 586.92 287.48 586.82C289.21 586.72 291.13 587.2 292.67 587.7C294.21 588.21 295.38 589.27 296.72 589.84C298.06 590.4 299.81 590.57 300.72 591.08C301.64 591.6 302.21 592.2 302.21 592.9C302.21 593.61 301.64 594.59 300.72 595.3C299.81 596 298.35 596.6 296.72 597.12C295.09 597.63 293.35 598.1 290.94 598.36C288.54 598.62 284.51 598.73 282.3 598.68C280.08 598.62 278.33 598.87 277.65 598.05Z" fill="none" stroke="#8c8c8c" stroke-width="0.45"/>
<ellipse cx="283.5" cy="591.8" rx="7.5" ry="5" fill="none" stroke="#999" stroke-width="0.4" opacity="1" transform="rotate(-15 283.5 591.8)"/>
<ellipse cx="282.5" cy="591.3" rx="4.6" ry="3" fill="none" stroke="#999" stroke-width="0.4" opacity="1" transform="rotate(-15 282.5 591.3)"/>
<ellipse cx="282" cy="591.1" rx="2.2" ry="1.4" fill="none" stroke="#999" stroke-width="0.4" opacity="1" transform="rotate(-15 282 591.1)"/>
<ellipse cx="305.8" cy="592.8" rx="5.5" ry="3.6" fill="none" stroke="#999" stroke-width="0.4" opacity="1" transform="rotate(-20 305.8 592.8)"/>
<path d="M254.2 583.3q5.4 10.5 0 21.5" fill="#858585" stroke="#2a2a2a" stroke-width="0.8"/>
<rect x="298.9" y="566.4" width="33.5" height="41.8" stroke="#1a1a1a" stroke-width="1.35" fill="none"/>
<text x="315.7" y="560.96" font-size="9.6" text-anchor="middle" style="stroke-width:.03px">23.8</text>
<text transform="translate(250.08,570.4) rotate(-90)" font-size="8.8" text-anchor="middle">SSC</text>
<rect x="375.1" y="517.8" width="99.4" height="98.9" stroke="#6a6a6a" stroke-width="0.75" fill="#fff"/>
<path d="M378.1 616.7v1.5M385.06 616.7v1M389.03 616.7v1M392.02 616.7v1M394.4 616.7v1M396.39 616.7v1M397.98 616.7v1.5M404.94 616.7v1M408.91 616.7v1M411.9 616.7v1M414.28 616.7v1M416.27 616.7v1M417.86 616.7v1.5M424.82 616.7v1M428.79 616.7v1M431.78 616.7v1M434.16 616.7v1M436.15 616.7v1M437.74 616.7v1.5M444.7 616.7v1M448.67 616.7v1M451.66 616.7v1M454.04 616.7v1M456.03 616.7v1M457.62 616.7v1.5M464.58 616.7v1M468.55 616.7v1M471.54 616.7v1M373.8 613.2h2M374.2 608.5h1.5M374.2 603.8h1.5M374.2 599.1h1.5M374.2 594.4h1.5M373.8 589.7h2M374.2 585h1.5M374.2 580.3h1.5M374.2 575.6h1.5M374.2 570.9h1.5M373.8 566.2h2M374.2 561.5h1.5M374.2 556.8h1.5M374.2 552.1h1.5M374.2 547.4h1.5M373.8 542.7h2M374.2 538h1.5M374.2 533.3h1.5M374.2 528.6h1.5M374.2 523.9h1.5" stroke="#444" stroke-width="0.6" fill="none"/>
<path transform="translate(375.1,517.8) scale(.1)" d="M132 846h7M176 665h7M136 848h7M548 816h7M107 763h7M599 791h7M648 722h7M135 799h7M274 631h7M151 716h7M498 626h7M125 856h7M208 660h7M180 693h7M262 637h7M305 863h7M512 673h7M138 709h7M437 631h7M228 585h7M133 818h7M548 662h7M158 730h7M505 837h7M359 602h7M396 621h7M171 698h7M428 583h7M196 685h7M342 620h7M287 861h7M190 629h7M168 708h7M148 740h7M656 800h7M612 709h7M201 859h7M142 760h7M639 777h7M370 858h7M558 825h7M210 681h7M317 616h7M533 633h7M198 649h7M157 743h7M210 655h7M135 841h7M662 735h7M241 622h7M392 633h7M185 606h7M567 697h7M611 718h7M180 665h7M365 859h7M628 710h7M529 828h7M160 749h7M517 593h7M190 650h7M351 605h7M560 681h7M443 610h7M506 626h7M296 635h7M111 748h7M198 673h7M230 625h7M207 669h7M151 745h7M139 757h7M240 862h7M299 867h7M619 793h7M544 821h7M529 661h7M491 608h7M523 675h7M559 618h7M585 700h7M389 860h7M631 754h7M464 638h7M142 844h7M465 646h7M532 637h7M70 794h7M141 693h7M428 611h7M643 687h7M477 652h7M119 788h7M144 811h7M181 636h7M206 637h7M412 857h7M475 839h7M439 847h7M513 645h7M152 726h7M148 734h7M443 857h7M417 640h7M590 712h7M621 742h7M140 704h7M114 784h7M249 861h7M402 613h7M483 665h7M592 803h7M624 738h7M286 618h7M553 695h7M448 635h7M129 730h7M463 648h7M648 705h7M647 738h7M430 854h7M498 634h7M608 787h7M558 662h7M420 626h7M252 863h7M464 611h7M599 787h7M230 649h7M189 682h7M312 608h7M492 635h7M664 747h7M166 856h7M202 859h7M656 770h7M382 588h7M401 597h7M168 670h7M153 746h7M619 758h7M594 692h7M141 801h7M620 768h7M633 763h7M137 787h7M594 692h7M489 642h7M453 634h7M647 724h7M538 661h7M658 772h7M512 674h7M471 641h7M298 617h7M604 714h7M227 619h7M550 821h7M595 800h7M272 604h7M405 639h7M657 765h7M461 654h7M398 603h7M153 702h7M161 725h7M624 769h7M164 700h7M207 656h7M157 724h7M178 619h7M622 743h7M211 583h7M181 638h7M136 696h7M221 862h7M497 614h7M274 636h7M341 625h7M110 763h7M518 683h7M165 716h7M494 604h7M286 597h7M626 707h7M268 622h7M122 701h7M377 612h7M153 684h7M652 786h7M612 709h7M266 642h7M134 795h7M664 732h7M104 790h7M268 870h7M213 650h7M256 863h7M349 865h7M194 863h7M133 702h7M638 645h7M364 628h7M132 723h7M654 753h7M625 751h7M496 656h7M233 610h7M113 740h7M246 635h7M460 655h7M178 671h7M560 673h7M627 796h7M230 643h7M340 627h7M586 802h7M108 794h7M327 610h7M566 700h7M324 605h7M451 650h7M153 751h7M418 601h7M543 690h7M181 656h7M411 637h7M555 814h7M110 689h7M610 712h7M194 631h7M353 595h7M679 811h7M243 619h7M638 735h7M332 574h7M518 839h7M163 734h7M243 632h7M397 625h7M95 791h7M406 620h7M675 730h7M352 621h7M309 618h7M398 634h7M269 619h7M644 733h7M397 855h7M623 771h7M95 779h7M472 841h7M130 679h7M293 862h7M255 638h7M564 826h7M621 724h7M158 727h7M115 721h7M630 702h7M280 634h7M469 607h7M507 837h7M487 669h7M632 720h7M260 620h7M319 602h7M138 849h7M267 606h7M154 713h7M665 765h7M135 764h7M172 858h7M434 612h7M485 634h7M147 798h7M608 710h7M650 796h7M645 721h7M442 646h7M127 743h7M682 736h7M159 718h7M575 685h7M185 648h7M488 610h7M153 690h7M667 710h7M259 604h7M166 630h7M565 650h7M181 677h7M132 833h7M175 677h7M201 668h7M553 640h7M129 836h7M632 778h7M562 815h7M401 856h7M358 593h7M299 613h7M351 615h7M250 639h7M580 704h7M366 585h7M552 679h7M507 675h7M445 610h7M425 643h7M657 802h7M511 827h7M436 630h7M503 840h7M233 624h7M619 716h7M171 656h7M568 674h7M533 841h7M125 782h7M394 857h7M428 624h7M507 664h7M605 705h7M178 671h7M463 627h7M178 671h7M667 761h7M545 667h7M585 698h7M133 806h7M134 753h7M317 627h7M620 711h7M577 818h7M554 665h7M195 680h7M526 682h7M632 742h7M451 611h7M610 803h7M418 855h7M241 639h7M649 710h7M649 747h7M386 626h7M287 627h7M464 848h7M466 624h7M565 693h7M324 862h7M131 789h7M644 684h7M627 785h7M632 738h7M218 653h7M606 783h7M332 861h7M392 857h7M445 856h7M630 726h7M459 622h7M460 629h7M254 630h7M397 626h7M142 791h7M503 651h7M516 677h7M242 647h7M459 859h7M335 610h7M191 688h7M199 626h7M102 765h7M125 748h7M401 636h7M135 820h7M509 679h7M636 756h7M526 679h7M579 797h7M326 613h7M624 786h7" stroke="#1a1a1a" stroke-opacity="0.55" stroke-width="7" fill="none"/>
<path transform="translate(375.1,517.8) scale(.1)" d="M91 811h7M86 873h7M56 707h7M73 809h7M83 840h7M32 812h7M30 947h7M89 826h7M102 614h7M41 710h7M87 614h7M59 710h7M105 860h7M38 625h7M58 752h7M21 805h7M114 605h7M51 725h7M36 779h7M85 808h7M80 769h7M122 901h7M109 836h7M51 715h7M49 773h7M79 761h7M48 692h7M125 746h7M86 687h7M82 801h7M31 753h7M103 820h7M129 720h7M14 582h7M62 853h7M125 731h7M101 844h7M26 764h7M65 769h7M138 779h7M88 827h7M119 780h7M97 792h7M96 804h7M109 830h7M69 853h7M72 775h7M88 848h7M72 702h7M78 648h7M57 785h7M83 780h7M81 639h7M53 793h7M92 708h7M128 790h7M105 711h7M109 783h7M49 729h7M29 633h7M54 705h7M77 806h7M69 872h7M115 823h7M120 783h7M117 771h7M84 744h7M48 765h7M37 810h7M115 774h7M95 693h7M61 723h7M60 747h7M35 733h7M22 805h7M108 613h7M97 775h7M41 818h7M30 790h7M61 795h7M59 792h7M84 852h7M129 820h7M40 739h7M87 738h7M140 731h7M126 666h7M42 703h7M32 731h7M8 781h7M21 829h7M95 823h7M44 668h7M93 737h7M104 704h7M32 722h7M41 801h7M26 591h7M59 742h7M26 717h7M86 643h7M92 819h7M57 688h7M88 839h7M61 785h7M110 861h7M117 699h7M16 763h7M117 737h7M76 749h7M70 691h7M77 822h7M42 830h7M43 821h7M116 767h7M109 854h7M85 760h7M55 751h7M53 787h7M75 727h7M115 690h7M81 723h7M50 843h7M73 855h7M93 688h7M92 741h7" stroke="#1a1a1a" stroke-opacity="0.55" stroke-width="7" fill="none"/>
<path transform="translate(375.1,517.8) scale(.1)" d="M595 786h6M478 626h6M518 637h6M623 648h6M555 604h6M567 599h6M455 522h6M561 579h6M588 662h6M489 684h6M454 707h6M389 626h6M534 626h6M566 592h6M537 544h6M303 805h6M527 520h6M504 635h6M383 799h6M567 683h6M470 705h6M592 642h6M339 757h6M566 628h6M609 645h6M522 685h6M600 753h6M714 729h6M478 516h6M588 545h6M426 538h6M590 774h6M518 534h6M419 537h6M714 621h6M415 840h6M615 677h6M406 578h6" stroke="#1a1a1a" stroke-opacity="0.45" stroke-width="6" fill="none"/>
<path d="M388.77 602.4C387.44 600.83 389.11 596.63 389.93 594.2C390.76 591.77 392.39 589.55 393.72 587.8C395.04 586.05 395.49 584.87 397.89 583.7C400.28 582.53 404.68 581 408.07 580.8C411.47 580.6 415.23 581.53 418.26 582.5C421.28 583.47 423.57 585.52 426.21 586.6C428.85 587.68 432.27 588.02 434.07 589C435.86 589.98 436.98 591.15 436.98 592.5C436.98 593.85 435.86 595.75 434.07 597.1C432.27 598.45 429.41 599.62 426.21 600.6C423.01 601.58 419.58 602.5 414.86 603C410.14 603.5 402.23 603.7 397.89 603.6C393.54 603.5 390.09 603.97 388.77 602.4Z" fill="#fff" stroke="#777" stroke-width="0.55"/>
<path d="M391.75 601.69C390.58 600.31 392.05 596.61 392.77 594.47C393.5 592.33 394.93 590.38 396.1 588.84C397.27 587.3 397.67 586.26 399.77 585.23C401.88 584.21 405.75 582.86 408.73 582.68C411.72 582.5 415.04 583.33 417.7 584.18C420.36 585.03 422.38 586.83 424.7 587.78C427.02 588.74 430.03 589.03 431.61 589.9C433.19 590.76 434.17 591.79 434.17 592.98C434.17 594.16 433.19 595.84 431.61 597.02C430.03 598.21 427.51 599.24 424.7 600.1C421.88 600.97 418.86 601.78 414.71 602.22C410.56 602.66 403.6 602.83 399.77 602.74C395.94 602.66 392.91 603.07 391.75 601.69Z" fill="none" stroke="#8c8c8c" stroke-width="0.45"/>
<path d="M394.23 600.48C393.22 599.29 394.49 596.09 395.11 594.24C395.74 592.39 396.98 590.71 397.99 589.38C398.99 588.05 399.34 587.15 401.16 586.26C402.98 585.38 406.32 584.21 408.9 584.06C411.48 583.91 414.34 584.62 416.64 585.35C418.94 586.09 420.68 587.64 422.68 588.47C424.69 589.29 427.29 589.54 428.65 590.29C430.02 591.04 430.87 591.93 430.87 592.95C430.87 593.98 430.02 595.42 428.65 596.45C427.29 597.47 425.12 598.36 422.68 599.11C420.25 599.86 417.65 600.55 414.06 600.93C410.47 601.31 404.46 601.46 401.16 601.39C397.85 601.31 395.24 601.67 394.23 600.48Z" fill="none" stroke="#8c8c8c" stroke-width="0.45"/>
<path d="M396.51 599.26C395.66 598.26 396.72 595.57 397.25 594.02C397.78 592.46 398.83 591.04 399.67 589.92C400.52 588.8 400.81 588.04 402.34 587.3C403.87 586.55 406.69 585.57 408.86 585.44C411.03 585.31 413.45 585.91 415.38 586.53C417.31 587.15 418.78 588.46 420.47 589.15C422.16 589.85 424.35 590.06 425.5 590.69C426.65 591.32 427.36 592.06 427.36 592.93C427.36 593.79 426.65 595.01 425.5 595.87C424.35 596.74 422.52 597.48 420.47 598.11C418.42 598.74 416.23 599.33 413.21 599.65C410.19 599.97 405.13 600.1 402.34 600.03C399.56 599.97 397.36 600.27 396.51 599.26Z" fill="none" stroke="#8c8c8c" stroke-width="0.45"/>
<path d="M398.49 598.05C397.8 597.24 398.66 595.05 399.09 593.79C399.52 592.52 400.37 591.37 401.06 590.46C401.75 589.55 401.98 588.93 403.23 588.33C404.47 587.72 406.76 586.92 408.52 586.82C410.29 586.72 412.25 587.2 413.82 587.7C415.39 588.21 416.59 589.27 417.96 589.84C419.33 590.4 421.11 590.57 422.04 591.08C422.98 591.6 423.56 592.2 423.56 592.9C423.56 593.61 422.98 594.59 422.04 595.3C421.11 596 419.62 596.6 417.96 597.12C416.29 597.63 414.51 598.1 412.06 598.36C409.6 598.62 405.49 598.73 403.23 598.68C400.97 598.62 399.18 598.87 398.49 598.05Z" fill="none" stroke="#8c8c8c" stroke-width="0.45"/>
<ellipse cx="404.6" cy="591.8" rx="7.5" ry="5" fill="none" stroke="#999" stroke-width="0.4" opacity="1" transform="rotate(-15 404.6 591.8)"/>
<ellipse cx="403.6" cy="591.3" rx="4.6" ry="3" fill="none" stroke="#999" stroke-width="0.4" opacity="1" transform="rotate(-15 403.6 591.3)"/>
<ellipse cx="403.1" cy="591.1" rx="2.2" ry="1.4" fill="none" stroke="#999" stroke-width="0.4" opacity="1" transform="rotate(-15 403.1 591.1)"/>
<ellipse cx="427.18" cy="592.8" rx="5.5" ry="3.6" fill="none" stroke="#999" stroke-width="0.4" opacity="1" transform="rotate(-20 427.18 592.8)"/>
<path d="M375.3 583.3q5.4 10.5 0 21.5" fill="#858585" stroke="#2a2a2a" stroke-width="0.8"/>
<rect x="419.7" y="566.4" width="33.5" height="41.8" stroke="#1a1a1a" stroke-width="1.35" fill="none"/>
<text x="436.5" y="560.96" font-size="9.6" text-anchor="middle" style="stroke-width:.03px">22.6</text>
<text transform="translate(371.28,570.4) rotate(-90)" font-size="8.8" text-anchor="middle">SSC</text>
<text x="13.9" y="629.49" font-size="9.4" text-anchor="start">Ki67-APC</text>
<path d="M60.5 626.4L473 626.4" stroke="#111" stroke-width="1.4" fill="none"/>
<path d="M472 623L476 626.4L472 629.8Z" fill="#111"/>
<text x="476" y="501.55" font-size="25" text-anchor="start" style="stroke-width:.3px">G</text>
<path d="M520.4 522.1L520.4 619.9" stroke="#222" stroke-width="1.3" fill="none"/>
<path d="M519.8 619.3L616.6 619.3" stroke="#222" stroke-width="1.3" fill="none"/>
<path d="M538.2 619.3L538.2 622.1" stroke="#222" stroke-width="1.1" fill="none"/>
<path d="M555.3 619.3L555.3 622.1" stroke="#222" stroke-width="1.1" fill="none"/>
<path d="M581.7 619.3L581.7 622.1" stroke="#222" stroke-width="1.1" fill="none"/>
<path d="M599.2 619.3L599.2 622.1" stroke="#222" stroke-width="1.1" fill="none"/>
<path d="M517.6 619.3L520.4 619.3" stroke="#222" stroke-width="1.1" fill="none"/>
<text x="516" y="622.99" font-size="9.7" text-anchor="end">0</text>
<path d="M517.6 595.15L520.4 595.15" stroke="#222" stroke-width="1.1" fill="none"/>
<text x="516" y="598.84" font-size="9.7" text-anchor="end">10</text>
<path d="M517.6 571L520.4 571" stroke="#222" stroke-width="1.1" fill="none"/>
<text x="516" y="574.69" font-size="9.7" text-anchor="end">20</text>
<path d="M517.6 546.85L520.4 546.85" stroke="#222" stroke-width="1.1" fill="none"/>
<text x="516" y="550.54" font-size="9.7" text-anchor="end">30</text>
<path d="M517.6 522.7L520.4 522.7" stroke="#222" stroke-width="1.1" fill="none"/>
<text x="516" y="526.39" font-size="9.7" text-anchor="end">40</text>
<text transform="translate(500.64,569.1) rotate(-90)" font-size="9.55" text-anchor="middle">Percen of Ki67<tspan font-size="5.54" dy="-3.44">+</tspan><tspan dy="3.44"> CD4</tspan><tspan font-size="5.54" dy="-3.44">+</tspan><tspan dy="3.44"> T cell (%)</tspan></text>
<rect x="529.6" y="537.1" width="17.1" height="15.7" stroke="#8a8a8a" stroke-width="1" fill="#fff"/>
<path d="M529.6 550.6L546.7 550.6" stroke="#8a8a8a" stroke-width="1" fill="none"/>
<rect x="547.1" y="529.7" width="16.7" height="15.4" stroke="#3b8d9c" stroke-width="1" fill="#fff"/>
<path d="M547.1 541.7L563.8 541.7" stroke="#3b8d9c" stroke-width="1" fill="none"/>
<rect x="573.3" y="556.5" width="16.6" height="26" stroke="#8a8a8a" stroke-width="1" fill="#fff"/>
<path d="M573.3 561.2L589.9 561.2" stroke="#8a8a8a" stroke-width="1" fill="none"/>
<rect x="590.5" y="555.4" width="16.7" height="14.9" stroke="#3b8d9c" stroke-width="1" fill="#fff"/>
<path d="M590.5 563.6L607.2 563.6" stroke="#3b8d9c" stroke-width="1" fill="none"/>
<circle cx="538" cy="536.8" r="2.55" fill="#000"/>
<circle cx="538" cy="550.7" r="2.55" fill="#000"/>
<circle cx="531.7" cy="554.3" r="2.55" fill="#000"/>
<circle cx="544.4" cy="553.6" r="2.55" fill="#000"/>
<rect x="553" y="526.7" width="5" height="5" fill="#3b8d9c"/>
<rect x="559.1" y="533.9" width="5" height="5" fill="#3b8d9c"/>
<rect x="553" y="538.7" width="5" height="5" fill="#3b8d9c"/>
<rect x="559.1" y="540.6" width="5" height="5" fill="#3b8d9c"/>
<rect x="547" y="542.3" width="5" height="5" fill="#3b8d9c"/>
<path d="M572.45 558.41L577.95 558.41L575.2 553.19Z" fill="#000"/>
<path d="M584.85 559.81L590.35 559.81L587.6 554.59Z" fill="#000"/>
<path d="M572.45 564.61L577.95 564.61L575.2 559.39Z" fill="#000"/>
<path d="M578.55 573.71L584.05 573.71L581.3 568.49Z" fill="#000"/>
<path d="M578.55 585.71L584.05 585.71L581.3 580.49Z" fill="#000"/>
<path d="M596.05 552.09L601.55 552.09L598.8 557.31Z" fill="#3b8d9c"/>
<path d="M589.85 559.69L595.35 559.69L592.6 564.91Z" fill="#3b8d9c"/>
<path d="M596.05 561.89L601.55 561.89L598.8 567.11Z" fill="#3b8d9c"/>
<path d="M602.35 564.39L607.85 564.39L605.1 569.61Z" fill="#3b8d9c"/>
<path d="M589.85 568.49L595.35 568.49L592.6 573.71Z" fill="#3b8d9c"/>
<path d="M538.2 496.6L603.1 496.6" stroke="#222" stroke-width="1.5" fill="none"/>
<text x="570.3" y="496.45" font-size="9" text-anchor="middle" style="font-weight:bold;stroke-width:0">*</text>
<path d="M538.2 504.8L585.7 504.8" stroke="#222" stroke-width="1.5" fill="none"/>
<text x="562.4" y="505.05" font-size="9" text-anchor="middle" style="font-weight:bold;stroke-width:0">*</text>
<path d="M554.7 513.1L585.7 513.1" stroke="#222" stroke-width="1.5" fill="none"/>
<text x="570" y="513.55" font-size="9" text-anchor="middle" style="font-weight:bold;stroke-width:0">***</text>
<path d="M554.7 521.7L603.1 521.7" stroke="#222" stroke-width="1.5" fill="none"/>
<text x="580.1" y="522.45" font-size="9" text-anchor="middle" style="font-weight:bold;stroke-width:0">**</text>
<rect x="612.6" y="493.6" width="10.2" height="10.1" stroke="none" stroke-width="0" fill="#cbcbcb"/>
<text x="624.6" y="501.97" font-size="9.5" text-anchor="start">Ctrl</text>
<rect x="612.6" y="511.1" width="10.2" height="10.1" stroke="none" stroke-width="0" fill="#4bada8"/>
<text x="624.6" y="519.48" font-size="9.5" text-anchor="start">HCC-m</text>
<text x="546.7" y="633.53" font-size="9.5" text-anchor="middle">WT</text>
<text x="594.6" y="633.53" font-size="9.5" text-anchor="middle">Jα18<tspan font-size="5.51" dy="-3.42">-/-</tspan></text>
<text x="4.1" y="663.05" font-size="25" text-anchor="start" style="stroke-width:.3px">H</text>
<text x="23.7" y="665.09" font-size="9.4" text-anchor="start" style="stroke-width:0">Gated on CD45<tspan font-size="5.45" dy="-3.38">+</tspan><tspan dy="3.38">CD3</tspan><tspan font-size="5.45" dy="-3.38">+</tspan><tspan dy="3.38">CD4</tspan><tspan font-size="5.45" dy="-3.38">+</tspan></text>
<rect x="24.5" y="671.8" width="95.2" height="95.1" stroke="#8c8c8c" stroke-width="0.7" fill="#fff"/>
<path d="M25 766.6L25.31 766.38L33.66 763.64L38.22 757.57L42.01 743.91L45.05 725.69L48.09 708.99L51.12 695.33L54.16 690.01L55.68 698.36L57.95 716.58L60.23 731.76L63.27 743.91L65.54 749.98L68.58 756.05L71.62 761.37L76.17 765.16L83.76 766.68L83.76 766.6Z" fill="#e9e9e9" stroke="none"/>
<path d="M25 672.8L25 766.9" stroke="#111" stroke-width="1" fill="none"/>
<path d="M24.5 766.7L119.7 766.7" stroke="#111" stroke-width="1" fill="none"/>
<path d="M24.5 748.83h1.8M24.5 730.76h1.8M24.5 712.69h1.8M24.5 694.62h1.8M24.5 676.55h1.8M24.5 766.9v1.6M32.5 766.9v0.9M36.5 766.9v0.9M39.49 766.9v0.9M41.89 766.9v0.9M43.49 766.9v0.9M44.49 766.9v1.6M52.49 766.9v0.9M56.49 766.9v0.9M59.49 766.9v0.9M61.89 766.9v0.9M63.48 766.9v0.9M64.48 766.9v1.6M72.48 766.9v0.9M76.48 766.9v0.9M79.48 766.9v0.9M81.88 766.9v0.9M83.48 766.9v0.9M84.48 766.9v1.6M92.47 766.9v0.9M96.47 766.9v0.9M99.47 766.9v0.9M101.87 766.9v0.9M103.47 766.9v0.9M104.47 766.9v1.6M112.46 766.9v0.9M116.46 766.9v0.9" stroke="#111" stroke-width="0.7" fill="none"/>
<path d="M25.2 673.8L25.2 765.4L25.31 760.61L29.11 756.81L33.66 748.46L36.7 736.32L38.98 718.1L42.77 701.4L46.11 683.18L48.09 693.81L50.36 710.51L52.64 724.17L56.44 739.35L59.47 749.98L62.51 757.57L65.54 759.09L68.58 760.61L73.13 764.4L80.73 766.38L119.2 766.2" fill="none" stroke="#e3268f" stroke-width="1.6" stroke-linejoin="round"/>
<path d="M25.2 673.8L25.2 765.4L25.31 762.88L29.11 760.61L33.66 753.02L36.7 742.39L39.74 725.69L42.77 708.99L46.11 688.49L48.09 695.33L50.36 707.47L52.64 721.13L56.44 740.87L60.23 756.05L62.51 759.85L65.54 760.61L68.58 763.64L73.13 765.92L80.73 766.68L119.2 766.2" fill="none" stroke="#2f9a3f" stroke-width="1.6" stroke-linejoin="round"/>
<path d="M25.2 766.2L25.31 765.92L29.11 764.4L33.66 761.37L38.22 753.02L41.25 740.87L44.29 719.62L47.33 701.4L49.6 694.57L51.88 688.49L53.7 696.84L55.68 712.03L57.95 725.69L60.23 737.83L63.27 742.39L65.54 748.46L68.58 753.02L71.62 760.61L76.17 764.86L83.76 766.38L119.2 766.2" fill="none" stroke="#1f2f6e" stroke-width="1.6" stroke-linejoin="round"/>
<path d="M25.2 766.2L25.31 766.38L33.66 763.64L38.22 757.57L42.01 743.91L45.05 725.69L48.09 708.99L51.12 695.33L54.16 690.01L55.68 698.36L57.95 716.58L60.23 731.76L63.27 743.91L65.54 749.98L68.58 756.05L71.62 761.37L76.17 765.16L83.76 766.68L119.2 766.2" fill="none" stroke="#8f8f8f" stroke-width="1.7" stroke-dasharray="1.5 1.5"/>
<text x="63.6" y="783.15" font-size="9.3" text-anchor="middle">CD69-APC</text>
<text transform="translate(16.95,723.35) rotate(-90)" font-size="9.3" text-anchor="middle">% of max</text>
<rect x="144.3" y="671.2" width="97.9" height="97" stroke="#8c8c8c" stroke-width="0.7" fill="#fff"/>
<path d="M144.8 767.9L145.31 765.16L153.66 757.57L158.22 745.43L162.77 728.73L166.57 707.47L169.6 690.77L172.64 684.7L175.68 683.18L178.71 695.33L181.75 710.51L185.54 727.21L188.58 734.8L190.86 736.32L193.13 746.94L196.93 757.57L200.73 764.4L203.76 767.44L203.76 767.9Z" fill="#e9e9e9" stroke="none"/>
<path d="M144.8 672.2L144.8 768.2" stroke="#111" stroke-width="1" fill="none"/>
<path d="M144.3 768L242.2 768" stroke="#111" stroke-width="1" fill="none"/>
<path d="M144.3 749.77h1.8M144.3 731.34h1.8M144.3 712.91h1.8M144.3 694.48h1.8M144.3 676.05h1.8M144.3 768.2v1.6M152.52 768.2v0.9M156.64 768.2v0.9M159.72 768.2v0.9M162.19 768.2v0.9M163.83 768.2v0.9M164.86 768.2v1.6M173.08 768.2v0.9M177.19 768.2v0.9M180.28 768.2v0.9M182.75 768.2v0.9M184.39 768.2v0.9M185.42 768.2v1.6M193.64 768.2v0.9M197.75 768.2v0.9M200.84 768.2v0.9M203.3 768.2v0.9M204.95 768.2v0.9M205.98 768.2v1.6M214.2 768.2v0.9M218.31 768.2v0.9M221.4 768.2v0.9M223.86 768.2v0.9M225.51 768.2v0.9M226.54 768.2v1.6M234.76 768.2v0.9M238.87 768.2v0.9" stroke="#111" stroke-width="0.7" fill="none"/>
<path d="M145 767.5L145.31 764.4L149.11 761.37L153.66 753.02L157.46 736.32L160.49 713.54L162.77 695.33L165.05 685.46L167.33 698.36L169.6 725.69L171.88 749.98L174.16 760.61L177.95 766.38L185.54 767.89L241.7 767.5" fill="none" stroke="#e3268f" stroke-width="1.6" stroke-linejoin="round"/>
<path d="M145 673.2L145 766.7L145.31 763.64L149.11 759.09L153.66 748.46L158.22 728.73L161.25 708.99L164.29 693.81L167.78 680.9L169.6 695.33L171.88 716.58L174.16 734.8L177.19 749.98L180.23 759.09L183.27 763.34L187.06 764.4L191.62 766.98L200.73 767.89L241.7 767.5" fill="none" stroke="#2f9a3f" stroke-width="1.6" stroke-linejoin="round"/>
<path d="M145 767.5L145.31 761.37L149.11 759.09L152.9 748.46L155.18 745.43L158.98 728.73L162.01 718.1L164.29 698.36L168.09 678.63L169.6 689.25L171.58 682.42L172.64 693.81L175.68 702.92L177.95 716.58L180.23 725.69L183.27 737.83L185.54 742.39L188.58 750.74L192.38 756.81L196.93 763.64L200.73 767.44L241.7 767.5" fill="none" stroke="#1f2f6e" stroke-width="1.6" stroke-linejoin="round"/>
<path d="M145 673.2L145 766.7L145.31 765.16L153.66 757.57L158.22 745.43L162.77 728.73L166.57 707.47L169.6 690.77L172.64 684.7L175.68 683.18L178.71 695.33L181.75 710.51L185.54 727.21L188.58 734.8L190.86 736.32L193.13 746.94L196.93 757.57L200.73 764.4L203.76 767.44L241.7 767.5" fill="none" stroke="#8f8f8f" stroke-width="1.7" stroke-dasharray="1.5 1.5"/>
<text x="193.5" y="783.15" font-size="9.3" text-anchor="middle">IL-4-PE</text>
<text transform="translate(138.75,723.7) rotate(-90)" font-size="9.3" text-anchor="middle">% of max</text>
<rect x="265.8" y="671.2" width="98.8" height="97.3" stroke="#8c8c8c" stroke-width="0.7" fill="#fff"/>
<path d="M266.3 768.2L267.31 767.89L277.18 765.16L283.25 757.57L287.05 740.87L290.84 713.54L293.88 687.74L296.16 674.83L297.98 687.74L299.95 713.54L302.23 733.28L305.27 745.43L308.3 749.98L312.1 759.09L316.65 765.16L325.76 767.89L325.76 768.2Z" fill="#e9e9e9" stroke="none"/>
<path d="M266.3 672.2L266.3 768.5" stroke="#111" stroke-width="1" fill="none"/>
<path d="M265.8 768.3L364.6 768.3" stroke="#111" stroke-width="1" fill="none"/>
<path d="M265.8 750.01h1.8M265.8 731.53h1.8M265.8 713.04h1.8M265.8 694.55h1.8M265.8 676.07h1.8M265.8 768.5v1.6M274.1 768.5v0.9M278.25 768.5v0.9M281.36 768.5v0.9M283.85 768.5v0.9M285.51 768.5v0.9M286.55 768.5v1.6M294.85 768.5v0.9M299 768.5v0.9M302.11 768.5v0.9M304.6 768.5v0.9M306.26 768.5v0.9M307.3 768.5v1.6M315.6 768.5v0.9M319.74 768.5v0.9M322.86 768.5v0.9M325.35 768.5v0.9M327.01 768.5v0.9M328.04 768.5v1.6M336.34 768.5v0.9M340.49 768.5v0.9M343.61 768.5v0.9M346.09 768.5v0.9M347.75 768.5v0.9M348.79 768.5v1.6M357.09 768.5v0.9M361.24 768.5v0.9" stroke="#111" stroke-width="0.7" fill="none"/>
<path d="M266.5 673.2L266.5 767L267.31 766.68L272.63 765.16L277.18 759.09L280.98 748.46L284.01 734.8L287.05 718.1L290.09 693.81L291.91 683.94L294.64 690.77L297.68 705.95L299.95 725.69L302.23 736.32L305.27 748.46L308.3 759.09L312.1 765.16L319.69 767.89L364.1 767.8" fill="none" stroke="#e3268f" stroke-width="1.6" stroke-linejoin="round"/>
<path d="M266.5 673.2L266.5 767L267.31 767.44L275.66 765.16L281.74 759.09L285.53 746.94L288.57 728.73L291.6 705.95L293.88 693.81L296.16 701.4L298.44 708.99L300.71 728.73L302.99 743.91L306.03 754.53L309.06 762.12L313.62 766.38L322.73 768.2L364.1 767.8" fill="none" stroke="#2f9a3f" stroke-width="1.6" stroke-linejoin="round"/>
<path d="M266.5 673.2L266.5 767L267.31 767.44L271.11 765.16L275.66 759.85L278.7 759.09L282.49 748.46L285.53 731.76L288.57 713.54L290.84 698.36L292.36 696.09L293.88 710.51L296.92 713.54L298.44 728.73L300.71 743.91L302.99 754.53L306.03 762.12L310.58 765.92L319.69 767.89L364.1 767.8" fill="none" stroke="#1f2f6e" stroke-width="1.6" stroke-linejoin="round"/>
<path d="M266.5 673.2L266.5 767L267.31 767.89L277.18 765.16L283.25 757.57L287.05 740.87L290.84 713.54L293.88 687.74L296.16 674.83L297.98 687.74L299.95 713.54L302.23 733.28L305.27 745.43L308.3 749.98L312.1 759.09L316.65 765.16L325.76 767.89L364.1 767.8" fill="none" stroke="#8f8f8f" stroke-width="1.7" stroke-dasharray="1.5 1.5"/>
<text x="319.2" y="780.25" font-size="9.3" text-anchor="middle">IFN-γ-PE-cy7</text>
<text transform="translate(261.45,723.85) rotate(-90)" font-size="9.3" text-anchor="middle">% of max</text>
<rect x="387.4" y="671.2" width="102.2" height="97.8" stroke="#8c8c8c" stroke-width="0.7" fill="#fff"/>
<path d="M387.9 768.7L388.55 767.44L394.63 765.16L400.7 760.61L405.25 753.02L409.05 739.35L412.09 721.13L414.36 702.92L416.64 686.22L418.16 679.39L419.68 684.7L421.65 701.4L423.47 728.73L425.75 753.02L428.03 763.64L431.06 767.44L437.13 768.65L437.13 768.7Z" fill="#e9e9e9" stroke="none"/>
<path d="M387.9 672.2L387.9 769" stroke="#111" stroke-width="1" fill="none"/>
<path d="M387.4 768.8L489.6 768.8" stroke="#111" stroke-width="1" fill="none"/>
<path d="M387.4 750.42h1.8M387.4 731.84h1.8M387.4 713.25h1.8M387.4 694.67h1.8M387.4 676.09h1.8M387.4 769v1.6M395.98 769v0.9M400.28 769v0.9M403.5 769v0.9M406.07 769v0.9M407.79 769v0.9M408.86 769v1.6M417.45 769v0.9M421.74 769v0.9M424.96 769v0.9M427.53 769v0.9M429.25 769v0.9M430.32 769v1.6M438.91 769v0.9M443.2 769v0.9M446.42 769v0.9M449 769v0.9M450.71 769v0.9M451.79 769v1.6M460.37 769v0.9M464.66 769v0.9M467.88 769v0.9M470.46 769v0.9M472.17 769v0.9M473.25 769v1.6M481.83 769v0.9M486.13 769v0.9" stroke="#111" stroke-width="0.7" fill="none"/>
<path d="M388.1 673.2L388.1 767.5L388.55 767.74L394.63 765.92L400.7 761.37L405.25 753.78L407.53 740.87L410.11 737.83L412.84 721.13L415.12 707.47L417.1 693.81L418.61 687.74L420.44 693.81L422.26 707.47L424.23 731.76L426.81 754.53L429.24 764.4L432.58 767.44L437.13 768.65L489.1 768.3" fill="none" stroke="#e3268f" stroke-width="1.6" stroke-linejoin="round"/>
<path d="M388.1 673.2L388.1 767.5L388.55 767.74L394.63 765.46L400.7 760.91L405.25 753.32L409.05 739.66L412.09 721.44L414.36 703.22L416.64 688.04L418.16 681.21L419.68 686.52L421.65 701.7L423.47 729.03L425.75 753.32L428.03 763.95L431.06 767.74L437.13 768.96L489.1 768.3" fill="none" stroke="#2f9a3f" stroke-width="1.6" stroke-linejoin="round"/>
<path d="M388.1 673.2L388.1 767.5L387.95 767.44L394.02 765.16L400.09 760.61L404.65 753.02L408.44 739.35L411.48 721.13L413.76 702.92L416.03 690.01L418.16 683.18L419.68 688.49L421.65 701.4L423.47 728.73L425.75 753.02L428.03 763.64L431.06 767.44L437.13 768.65L489.1 768.3" fill="none" stroke="#1f2f6e" stroke-width="1.6" stroke-linejoin="round"/>
<path d="M388.1 673.2L388.1 767.5L388.55 767.44L394.63 765.16L400.7 760.61L405.25 753.02L409.05 739.35L412.09 721.13L414.36 702.92L416.64 686.22L418.16 679.39L419.68 684.7L421.65 701.4L423.47 728.73L425.75 753.02L428.03 763.64L431.06 767.44L437.13 768.65L489.1 768.3" fill="none" stroke="#8f8f8f" stroke-width="1.7" stroke-dasharray="1.5 1.5"/>
<text x="443.3" y="780.25" font-size="9.3" text-anchor="middle">IL-6-PE</text>
<text transform="translate(381.95,724.1) rotate(-90)" font-size="9.3" text-anchor="middle">% of max</text>
<rect x="510.4" y="670.6" width="100.1" height="98.9" stroke="#8c8c8c" stroke-width="0.7" fill="#fff"/>
<path d="M510.9 769.2L511.31 768.2L515.87 766.68L520.42 763.64L524.98 756.05L528.01 745.43L531.05 730.24L534.09 708.99L536.36 690.77L538.79 679.39L540.61 687.74L542.89 696.84L544.86 715.06L547.29 734.8L549.72 750.74L552.76 760.91L556.86 766.98L563.69 768.96L563.69 769.2Z" fill="#e9e9e9" stroke="none"/>
<path d="M510.9 671.6L510.9 769.5" stroke="#111" stroke-width="1" fill="none"/>
<path d="M510.4 769.3L610.5 769.3" stroke="#111" stroke-width="1" fill="none"/>
<path d="M510.4 750.71h1.8M510.4 731.92h1.8M510.4 713.13h1.8M510.4 694.34h1.8M510.4 675.55h1.8M510.4 769.5v1.6M518.81 769.5v0.9M523.01 769.5v0.9M526.17 769.5v0.9M528.69 769.5v0.9M530.37 769.5v0.9M531.42 769.5v1.6M539.83 769.5v0.9M544.03 769.5v0.9M547.19 769.5v0.9M549.71 769.5v0.9M551.39 769.5v0.9M552.44 769.5v1.6M560.85 769.5v0.9M565.05 769.5v0.9M568.21 769.5v0.9M570.73 769.5v0.9M572.41 769.5v0.9M573.46 769.5v1.6M581.87 769.5v0.9M586.08 769.5v0.9M589.23 769.5v0.9M591.75 769.5v0.9M593.43 769.5v0.9M594.48 769.5v1.6M602.89 769.5v0.9M607.1 769.5v0.9" stroke="#111" stroke-width="0.7" fill="none"/>
<path d="M511.1 672.6L511.1 768L515.11 768.2L521.18 767.44L525.74 762.12L530.29 749.98L534.09 733.28L537.12 713.54L539.4 693.81L541.22 687.74L543.19 698.36L545.47 716.58L547.75 734.8L550.03 749.98L553.06 762.12L557.62 767.44L610 768.8" fill="none" stroke="#e3268f" stroke-width="1.6" stroke-linejoin="round"/>
<path d="M511.1 672.6L511.1 768L511.31 768.2L516.63 766.68L521.18 763.95L525.74 756.81L529.08 746.18L532.11 731.76L535.15 712.03L537.58 696.84L540.16 692.29L542.13 701.4L543.95 719.62L546.23 743.91L548.51 757.57L551.54 765.16L556.1 768.2L610 768.8" fill="none" stroke="#2f9a3f" stroke-width="1.6" stroke-linejoin="round"/>
<path d="M511.1 672.6L511.1 768L511.31 768.2L516.63 766.68L521.18 763.64L525.74 756.05L528.77 745.43L531.81 730.24L534.84 708.99L537.12 690.77L539.1 680.9L540.61 689.25L543.19 695.33L545.17 713.54L547.75 733.28L550.03 749.98L553.06 760.61L556.86 766.68L563.69 768.96L610 768.8" fill="none" stroke="#1f2f6e" stroke-width="1.6" stroke-linejoin="round"/>
<path d="M511.1 672.6L511.1 768L511.31 768.2L515.87 766.68L520.42 763.64L524.98 756.05L528.01 745.43L531.05 730.24L534.09 708.99L536.36 690.77L538.79 679.39L540.61 687.74L542.89 696.84L544.86 715.06L547.29 734.8L549.72 750.74L552.76 760.91L556.86 766.98L563.69 768.96L610 768.8" fill="none" stroke="#8f8f8f" stroke-width="1.7" stroke-dasharray="1.5 1.5"/>
<text x="564.4" y="780.05" font-size="9.3" text-anchor="middle">TNF-α-APC-cy7</text>
<text transform="translate(506.36,724.05) rotate(-90)" font-size="9.3" text-anchor="middle">% of max</text>
<path d="M582.2 675.6H607" stroke="#8f8f8f" stroke-width="1.6" stroke-dasharray="1.3 1.1"/>
<path d="M582.2 690.5L607 690.5" stroke="#1f2f6e" stroke-width="1.9" fill="none"/>
<path d="M582.2 704.6L607 704.6" stroke="#2f9a3f" stroke-width="1.8" fill="none"/>
<path d="M582.2 718.8L607 718.8" stroke="#e3268f" stroke-width="1.8" fill="none"/>
<text x="614.9" y="679.25" font-size="9.3" text-anchor="start">WT</text>
<text x="614.9" y="693.86" font-size="9.3" text-anchor="start">WT+HCC-m</text>
<text x="614.9" y="707.86" font-size="9.3" text-anchor="start">Jα18<tspan font-size="5.39" dy="-3.35">-/-</tspan></text>
<text x="614.9" y="722.05" font-size="9.3" text-anchor="start">Jα18<tspan font-size="5.39" dy="-3.35">-/-</tspan><tspan dy="3.35">+HCC-m</tspan></text>
<text x="4.5" y="811.25" font-size="25" text-anchor="start" style="stroke-width:.3px">I</text>
<path d="M27.9 829.8L27.9 929.7" stroke="#222" stroke-width="1.3" fill="none"/>
<path d="M27.3 929.1L126.2 929.1" stroke="#222" stroke-width="1.3" fill="none"/>
<path d="M45.5 929.1L45.5 931.9" stroke="#222" stroke-width="1.1" fill="none"/>
<path d="M63.6 929.1L63.6 931.9" stroke="#222" stroke-width="1.1" fill="none"/>
<path d="M90.5 929.1L90.5 931.9" stroke="#222" stroke-width="1.1" fill="none"/>
<path d="M108.2 929.1L108.2 931.9" stroke="#222" stroke-width="1.1" fill="none"/>
<path d="M25.1 929.1L27.9 929.1" stroke="#222" stroke-width="1.1" fill="none"/>
<text x="24.6" y="932.69" font-size="9.4" text-anchor="end">0</text>
<path d="M25.1 909.36L27.9 909.36" stroke="#222" stroke-width="1.1" fill="none"/>
<text x="24.6" y="912.95" font-size="9.4" text-anchor="end">2</text>
<path d="M25.1 889.62L27.9 889.62" stroke="#222" stroke-width="1.1" fill="none"/>
<text x="24.6" y="893.21" font-size="9.4" text-anchor="end">4</text>
<path d="M25.1 869.88L27.9 869.88" stroke="#222" stroke-width="1.1" fill="none"/>
<text x="24.6" y="873.47" font-size="9.4" text-anchor="end">6</text>
<path d="M25.1 850.14L27.9 850.14" stroke="#222" stroke-width="1.1" fill="none"/>
<text x="24.6" y="853.73" font-size="9.4" text-anchor="end">8</text>
<path d="M25.1 830.4L27.9 830.4" stroke="#222" stroke-width="1.1" fill="none"/>
<text x="24.6" y="833.99" font-size="9.4" text-anchor="end">10</text>
<text transform="translate(12.44,877.3) rotate(-90)" font-size="9.55" text-anchor="middle">MFI of CD69  (×10<tspan font-size="5.54" dy="-3.44">3</tspan><tspan dy="3.44"> AU)</tspan></text>
<rect x="37.2" y="848.4" width="17.6" height="32.7" stroke="#8a8a8a" stroke-width="1" fill="#fff"/>
<path d="M37.2 866.6L54.8 866.6" stroke="#8a8a8a" stroke-width="1" fill="none"/>
<rect x="55.2" y="856" width="17.5" height="23.5" stroke="#3b8d9c" stroke-width="1" fill="#fff"/>
<path d="M55.2 869.9L72.7 869.9" stroke="#3b8d9c" stroke-width="1" fill="none"/>
<rect x="82" y="878.8" width="17.1" height="4.9" stroke="#8a8a8a" stroke-width="1" fill="#fff"/>
<path d="M82 881.3L99.1 881.3" stroke="#8a8a8a" stroke-width="1" fill="none"/>
<rect x="99.5" y="882.2" width="16.7" height="12" stroke="#3b8d9c" stroke-width="1" fill="#fff"/>
<path d="M99.5 890.2L116.2 890.2" stroke="#3b8d9c" stroke-width="1" fill="none"/>
<circle cx="46.12" cy="848.42" r="2.55" fill="#000"/>
<circle cx="46.12" cy="860.38" r="2.55" fill="#000"/>
<circle cx="39.29" cy="866.45" r="2.55" fill="#000"/>
<circle cx="52.19" cy="868.35" r="2.55" fill="#000"/>
<circle cx="46.12" cy="881.25" r="2.55" fill="#000"/>
<rect x="61.08" y="853.13" width="5" height="5" fill="#3b8d9c"/>
<rect x="61.08" y="857.5" width="5" height="5" fill="#3b8d9c"/>
<rect x="61.08" y="867.36" width="5" height="5" fill="#3b8d9c"/>
<rect x="67.72" y="872.49" width="5" height="5" fill="#3b8d9c"/>
<rect x="55.01" y="877.42" width="5" height="5" fill="#3b8d9c"/>
<path d="M81.33 881.59L86.83 881.59L84.08 876.36Z" fill="#000"/>
<path d="M85.5 882.54L91 882.54L88.25 877.31Z" fill="#000"/>
<path d="M81.33 886.71L86.83 886.71L84.08 881.49Z" fill="#000"/>
<path d="M89.68 884.24L95.18 884.24L92.43 879.02Z" fill="#000"/>
<path d="M94.04 884.24L99.54 884.24L96.79 879.02Z" fill="#000"/>
<path d="M102.2 879.59L107.7 879.59L104.95 884.81Z" fill="#3b8d9c"/>
<path d="M109.23 881.87L114.73 881.87L111.98 887.09Z" fill="#3b8d9c"/>
<path d="M105.43 887.18L110.93 887.18L108.18 892.41Z" fill="#3b8d9c"/>
<path d="M98.79 891.92L104.29 891.92L101.54 897.15Z" fill="#3b8d9c"/>
<path d="M111.69 889.08L117.19 889.08L114.44 894.3Z" fill="#3b8d9c"/>
<path d="M55.4 814.6L106.3 814.6" stroke="#222" stroke-width="1.5" fill="none"/>
<text x="89.2" y="812.15" font-size="9" text-anchor="middle" style="font-weight:bold;stroke-width:0">*</text>
<path d="M44.2 824.7L112.9 824.7" stroke="#222" stroke-width="1.5" fill="none"/>
<text x="79.3" y="823.95" font-size="9" text-anchor="middle" style="font-weight:bold;stroke-width:0">**</text>
<path d="M44.2 837.8L93.6 837.8" stroke="#222" stroke-width="1.5" fill="none"/>
<text x="70.2" y="836.25" font-size="9" text-anchor="middle" style="font-weight:bold;stroke-width:0">*</text>
<text x="56.2" y="942.43" font-size="9.5" text-anchor="middle">WT</text>
<text x="102.5" y="942.43" font-size="9.5" text-anchor="middle">Jα18<tspan font-size="5.51" dy="-3.42">-/-</tspan></text>
<path d="M157.9 830.7L157.9 929.7" stroke="#222" stroke-width="1.3" fill="none"/>
<path d="M157.3 929.1L256.2 929.1" stroke="#222" stroke-width="1.3" fill="none"/>
<path d="M175.5 929.1L175.5 931.9" stroke="#222" stroke-width="1.1" fill="none"/>
<path d="M193.6 929.1L193.6 931.9" stroke="#222" stroke-width="1.1" fill="none"/>
<path d="M220.5 929.1L220.5 931.9" stroke="#222" stroke-width="1.1" fill="none"/>
<path d="M237.8 929.1L237.8 931.9" stroke="#222" stroke-width="1.1" fill="none"/>
<path d="M155.1 929.1L157.9 929.1" stroke="#222" stroke-width="1.1" fill="none"/>
<text x="154.6" y="932.69" font-size="9.4" text-anchor="end">0</text>
<path d="M155.1 909.54L157.9 909.54" stroke="#222" stroke-width="1.1" fill="none"/>
<text x="154.6" y="913.13" font-size="9.4" text-anchor="end">2</text>
<path d="M155.1 889.98L157.9 889.98" stroke="#222" stroke-width="1.1" fill="none"/>
<text x="154.6" y="893.57" font-size="9.4" text-anchor="end">4</text>
<path d="M155.1 870.42L157.9 870.42" stroke="#222" stroke-width="1.1" fill="none"/>
<text x="154.6" y="874.01" font-size="9.4" text-anchor="end">6</text>
<path d="M155.1 850.86L157.9 850.86" stroke="#222" stroke-width="1.1" fill="none"/>
<text x="154.6" y="854.45" font-size="9.4" text-anchor="end">8</text>
<path d="M155.1 831.3L157.9 831.3" stroke="#222" stroke-width="1.1" fill="none"/>
<text x="154.6" y="834.89" font-size="9.4" text-anchor="end">10</text>
<text transform="translate(144.34,882.6) rotate(-90)" font-size="9.55" text-anchor="middle">MFI of IL-4 (×10<tspan font-size="5.54" dy="-3.44">3</tspan><tspan dy="3.44"> AU)</tspan></text>
<rect x="167.4" y="847.5" width="17.4" height="20.8" stroke="#8a8a8a" stroke-width="1" fill="#fff"/>
<path d="M167.4 864.5L184.8 864.5" stroke="#8a8a8a" stroke-width="1" fill="none"/>
<rect x="185.2" y="872.7" width="17.5" height="12.7" stroke="#3b8d9c" stroke-width="1" fill="#fff"/>
<path d="M185.2 877.5L202.7 877.5" stroke="#3b8d9c" stroke-width="1" fill="none"/>
<rect x="211.6" y="872.1" width="17.1" height="20.2" stroke="#8a8a8a" stroke-width="1" fill="#fff"/>
<path d="M211.6 883.5L228.7 883.5" stroke="#8a8a8a" stroke-width="1" fill="none"/>
<rect x="229.3" y="886.4" width="16.9" height="11" stroke="#3b8d9c" stroke-width="1" fill="#fff"/>
<path d="M229.3 892.1L246.2 892.1" stroke="#3b8d9c" stroke-width="1" fill="none"/>
<circle cx="176.12" cy="847.09" r="2.55" fill="#000"/>
<circle cx="176.12" cy="861.7" r="2.55" fill="#000"/>
<circle cx="169.86" cy="868.92" r="2.55" fill="#000"/>
<circle cx="182.19" cy="867.59" r="2.55" fill="#000"/>
<rect x="185.01" y="872.11" width="5" height="5" fill="#3b8d9c"/>
<rect x="191.46" y="869.83" width="5" height="5" fill="#3b8d9c"/>
<rect x="191.46" y="874.01" width="5" height="5" fill="#3b8d9c"/>
<rect x="197.72" y="874.39" width="5" height="5" fill="#3b8d9c"/>
<rect x="191.46" y="883.5" width="5" height="5" fill="#3b8d9c"/>
<path d="M217.4 875.32L222.9 875.32L220.15 870.1Z" fill="#000"/>
<path d="M211.33 884.43L216.83 884.43L214.08 879.21Z" fill="#000"/>
<path d="M224.04 888.23L229.54 888.23L226.79 883Z" fill="#000"/>
<path d="M217.4 895.82L222.9 895.82L220.15 890.6Z" fill="#000"/>
<path d="M235.05 883L240.55 883L237.8 888.23Z" fill="#3b8d9c"/>
<path d="M228.79 888.7L234.29 888.7L231.54 893.92Z" fill="#3b8d9c"/>
<path d="M241.12 888.7L246.62 888.7L243.87 893.92Z" fill="#3b8d9c"/>
<path d="M228.79 894.77L234.29 894.77L231.54 900Z" fill="#3b8d9c"/>
<path d="M241.12 893.82L246.62 893.82L243.87 899.05Z" fill="#3b8d9c"/>
<path d="M174 817.3L244.4 817.3" stroke="#222" stroke-width="1.5" fill="none"/>
<text x="208.8" y="816.35" font-size="9" text-anchor="middle" style="font-weight:bold;stroke-width:0">***</text>
<path d="M174 829.3L224.3 829.3" stroke="#222" stroke-width="1.5" fill="none"/>
<text x="199.3" y="828.05" font-size="9" text-anchor="middle" style="font-weight:bold;stroke-width:0">**</text>
<path d="M194.1 838.7L244.4 838.7" stroke="#222" stroke-width="1.5" fill="none"/>
<text x="220.1" y="839.45" font-size="9" text-anchor="middle" style="font-weight:bold;stroke-width:0">**</text>
<text x="186.2" y="942.43" font-size="9.5" text-anchor="middle">WT</text>
<text x="232.5" y="942.43" font-size="9.5" text-anchor="middle">Jα18<tspan font-size="5.51" dy="-3.42">-/-</tspan></text>
<path d="M286.1 832.6L286.1 929.9" stroke="#222" stroke-width="1.3" fill="none"/>
<path d="M285.5 929.3L382.3 929.3" stroke="#222" stroke-width="1.3" fill="none"/>
<path d="M303.7 929.3L303.7 932.1" stroke="#222" stroke-width="1.1" fill="none"/>
<path d="M320.8 929.3L320.8 932.1" stroke="#222" stroke-width="1.1" fill="none"/>
<path d="M347.4 929.3L347.4 932.1" stroke="#222" stroke-width="1.1" fill="none"/>
<path d="M364.4 929.3L364.4 932.1" stroke="#222" stroke-width="1.1" fill="none"/>
<path d="M283.3 929.3L286.1 929.3" stroke="#222" stroke-width="1.1" fill="none"/>
<text x="280.3" y="934.77" font-size="10.2" text-anchor="end">0</text>
<path d="M283.3 897.27L286.1 897.27" stroke="#222" stroke-width="1.1" fill="none"/>
<text x="280.3" y="901.37" font-size="10.2" text-anchor="end">2</text>
<path d="M283.3 865.23L286.1 865.23" stroke="#222" stroke-width="1.1" fill="none"/>
<text x="280.3" y="869.07" font-size="10.2" text-anchor="end">4</text>
<path d="M283.3 833.2L286.1 833.2" stroke="#222" stroke-width="1.1" fill="none"/>
<text x="280.3" y="835.27" font-size="10.2" text-anchor="end">6</text>
<text transform="translate(271.96,876.9) rotate(-90)" font-size="9.6" text-anchor="middle">MFI of IFN-γ (×10<tspan font-size="5.57" dy="-3.46">3</tspan><tspan dy="3.46"> AU)</tspan></text>
<rect x="295.2" y="848" width="16.7" height="49.4" stroke="#8a8a8a" stroke-width="1" fill="#fff"/>
<path d="M295.2 866.1L311.9 866.1" stroke="#8a8a8a" stroke-width="1" fill="none"/>
<rect x="312.3" y="873.1" width="17" height="23.7" stroke="#3b8d9c" stroke-width="1" fill="#fff"/>
<path d="M312.3 880.9L329.3 880.9" stroke="#3b8d9c" stroke-width="1" fill="none"/>
<rect x="338.8" y="856.2" width="16.7" height="29.2" stroke="#8a8a8a" stroke-width="1" fill="#fff"/>
<path d="M338.8 876.1L355.5 876.1" stroke="#8a8a8a" stroke-width="1" fill="none"/>
<rect x="355.9" y="865.7" width="16.9" height="35.9" stroke="#3b8d9c" stroke-width="1" fill="#fff"/>
<path d="M355.9 895.5L372.8 895.5" stroke="#3b8d9c" stroke-width="1" fill="none"/>
<circle cx="303.71" cy="848.04" r="2.55" fill="#000"/>
<circle cx="310.16" cy="863.22" r="2.55" fill="#000"/>
<circle cx="297.45" cy="866.64" r="2.55" fill="#000"/>
<circle cx="303.71" cy="874.99" r="2.55" fill="#000"/>
<circle cx="303.71" cy="897.76" r="2.55" fill="#000"/>
<rect x="312.6" y="870.59" width="5" height="5" fill="#3b8d9c"/>
<rect x="324.74" y="872.11" width="5" height="5" fill="#3b8d9c"/>
<rect x="312.6" y="878.75" width="5" height="5" fill="#3b8d9c"/>
<rect x="324.74" y="879.32" width="5" height="5" fill="#3b8d9c"/>
<rect x="318.67" y="894.5" width="5" height="5" fill="#3b8d9c"/>
<path d="M344.42 858.81L349.92 858.81L347.17 853.59Z" fill="#000"/>
<path d="M344.42 868.68L349.92 868.68L347.17 863.46Z" fill="#000"/>
<path d="M337.97 878.74L343.47 878.74L340.72 873.52Z" fill="#000"/>
<path d="M350.31 883.3L355.81 883.3L353.06 878.07Z" fill="#000"/>
<path d="M344.42 888.99L349.92 888.99L347.17 883.76Z" fill="#000"/>
<path d="M361.69 862.51L367.19 862.51L364.44 867.73Z" fill="#3b8d9c"/>
<path d="M355.43 890.03L360.93 890.03L358.18 895.25Z" fill="#3b8d9c"/>
<path d="M361.69 892.87L367.19 892.87L364.44 898.1Z" fill="#3b8d9c"/>
<path d="M368.15 894.39L373.65 894.39L370.9 899.62Z" fill="#3b8d9c"/>
<path d="M355.43 899.52L360.93 899.52L358.18 904.74Z" fill="#3b8d9c"/>
<path d="M319.3 825.8L369 825.8" stroke="#222" stroke-width="1.5" fill="none"/>
<text x="344.3" y="823.89" font-size="9.4" text-anchor="middle">ns</text>
<path d="M299.3 836.5L349.6 836.5" stroke="#222" stroke-width="1.5" fill="none"/>
<text x="325.3" y="834.59" font-size="9.4" text-anchor="middle">ns</text>
<text x="312.1" y="940.93" font-size="9.5" text-anchor="middle">WT</text>
<text x="358.2" y="940.93" font-size="9.5" text-anchor="middle">Jα18<tspan font-size="5.51" dy="-3.42">-/-</tspan></text>
<path d="M413.7 830.7L413.7 929.9" stroke="#222" stroke-width="1.3" fill="none"/>
<path d="M413.1 929.3L511.3 929.3" stroke="#222" stroke-width="1.3" fill="none"/>
<path d="M431.3 929.3L431.3 932.1" stroke="#222" stroke-width="1.1" fill="none"/>
<path d="M448.4 929.3L448.4 932.1" stroke="#222" stroke-width="1.1" fill="none"/>
<path d="M475.3 929.3L475.3 932.1" stroke="#222" stroke-width="1.1" fill="none"/>
<path d="M493.4 929.3L493.4 932.1" stroke="#222" stroke-width="1.1" fill="none"/>
<path d="M410.9 929.3L413.7 929.3" stroke="#222" stroke-width="1.1" fill="none"/>
<text x="408" y="932.99" font-size="9.7" text-anchor="end">0</text>
<path d="M410.9 896.63L413.7 896.63" stroke="#222" stroke-width="1.1" fill="none"/>
<text x="408" y="900.33" font-size="9.7" text-anchor="end">0.5</text>
<path d="M410.9 863.97L413.7 863.97" stroke="#222" stroke-width="1.1" fill="none"/>
<text x="408" y="867.66" font-size="9.7" text-anchor="end">1</text>
<path d="M410.9 831.3L413.7 831.3" stroke="#222" stroke-width="1.1" fill="none"/>
<text x="408" y="834.99" font-size="9.7" text-anchor="end">1.5</text>
<text transform="translate(390.74,881) rotate(-90)" font-size="9.55" text-anchor="middle">MFI of IL-6 (×10<tspan font-size="5.54" dy="-3.44">3</tspan><tspan dy="3.44"> AU)</tspan></text>
<rect x="422.8" y="871.2" width="17.4" height="16.7" stroke="#8a8a8a" stroke-width="1" fill="#fff"/>
<path d="M422.8 880.3L440.2 880.3" stroke="#8a8a8a" stroke-width="1" fill="none"/>
<rect x="440.6" y="846.5" width="17.1" height="40.8" stroke="#3b8d9c" stroke-width="1" fill="#fff"/>
<path d="M440.6 879.4L457.7 879.4" stroke="#3b8d9c" stroke-width="1" fill="none"/>
<rect x="467.4" y="851.3" width="17" height="22.4" stroke="#8a8a8a" stroke-width="1" fill="#fff"/>
<path d="M467.4 853.7L484.4 853.7" stroke="#8a8a8a" stroke-width="1" fill="none"/>
<rect x="484.6" y="870.8" width="17.6" height="20.2" stroke="#3b8d9c" stroke-width="1" fill="#fff"/>
<path d="M484.6 874.6L502.2 874.6" stroke="#3b8d9c" stroke-width="1" fill="none"/>
<circle cx="425.04" cy="874.99" r="2.55" fill="#000"/>
<circle cx="437.75" cy="870.81" r="2.55" fill="#000"/>
<circle cx="425.04" cy="880.3" r="2.55" fill="#000"/>
<circle cx="437.75" cy="885.05" r="2.55" fill="#000"/>
<circle cx="425.04" cy="888.27" r="2.55" fill="#000"/>
<rect x="446.64" y="843.64" width="5" height="5" fill="#3b8d9c"/>
<rect x="440.19" y="873.44" width="5" height="5" fill="#3b8d9c"/>
<rect x="446.64" y="877.23" width="5" height="5" fill="#3b8d9c"/>
<rect x="452.91" y="876.85" width="5" height="5" fill="#3b8d9c"/>
<rect x="446.64" y="885.39" width="5" height="5" fill="#3b8d9c"/>
<path d="M466.51 854.83L472.01 854.83L469.26 849.6Z" fill="#000"/>
<path d="M479.61 854.07L485.11 854.07L482.36 848.84Z" fill="#000"/>
<path d="M472.96 860.14L478.46 860.14L475.71 854.92Z" fill="#000"/>
<path d="M472.96 877.22L478.46 877.22L475.71 872Z" fill="#000"/>
<path d="M483.55 871.59L489.05 871.59L486.3 876.81Z" fill="#3b8d9c"/>
<path d="M496.75 867.29L502.25 867.29L499.5 872.51Z" fill="#3b8d9c"/>
<path d="M497.25 873.79L502.75 873.79L500 879.01Z" fill="#3b8d9c"/>
<path d="M490.25 888.49L495.75 888.49L493 893.71Z" fill="#3b8d9c"/>
<path d="M447.4 826L496.8 826" stroke="#222" stroke-width="1.5" fill="none"/>
<text x="472.5" y="824.09" font-size="9.4" text-anchor="middle">ns</text>
<path d="M427.5 836.9L477.6 836.9" stroke="#222" stroke-width="1.5" fill="none"/>
<text x="453.1" y="834.99" font-size="9.4" text-anchor="middle">ns</text>
<text x="439.7" y="940.93" font-size="9.5" text-anchor="middle">WT</text>
<text x="485.8" y="940.93" font-size="9.5" text-anchor="middle">Jα18<tspan font-size="5.51" dy="-3.42">-/-</tspan></text>
<path d="M532.7 833.7L532.7 929.7" stroke="#222" stroke-width="1.3" fill="none"/>
<path d="M532.1 929.1L628 929.1" stroke="#222" stroke-width="1.3" fill="none"/>
<path d="M550.6 929.1L550.6 931.9" stroke="#222" stroke-width="1.1" fill="none"/>
<path d="M567.7 929.1L567.7 931.9" stroke="#222" stroke-width="1.1" fill="none"/>
<path d="M593.9 929.1L593.9 931.9" stroke="#222" stroke-width="1.1" fill="none"/>
<path d="M611 929.1L611 931.9" stroke="#222" stroke-width="1.1" fill="none"/>
<path d="M529.9 929.1L532.7 929.1" stroke="#222" stroke-width="1.1" fill="none"/>
<text x="529.8" y="932.76" font-size="9.6" text-anchor="end">0</text>
<path d="M529.9 905.4L532.7 905.4" stroke="#222" stroke-width="1.1" fill="none"/>
<text x="529.8" y="909.06" font-size="9.6" text-anchor="end">1</text>
<path d="M529.9 881.7L532.7 881.7" stroke="#222" stroke-width="1.1" fill="none"/>
<text x="529.8" y="885.36" font-size="9.6" text-anchor="end">2</text>
<path d="M529.9 858L532.7 858" stroke="#222" stroke-width="1.1" fill="none"/>
<text x="529.8" y="861.66" font-size="9.6" text-anchor="end">3</text>
<path d="M529.9 834.3L532.7 834.3" stroke="#222" stroke-width="1.1" fill="none"/>
<text x="529.8" y="837.96" font-size="9.6" text-anchor="end">4</text>
<text transform="translate(520.14,876) rotate(-90)" font-size="9.55" text-anchor="middle">MFI of TNF-α (×10<tspan font-size="5.54" dy="-3.44">3</tspan><tspan dy="3.44"> AU)</tspan></text>
<rect x="542.1" y="855.6" width="16.5" height="21.7" stroke="#8a8a8a" stroke-width="1" fill="#fff"/>
<path d="M542.1 858.5L558.6 858.5" stroke="#8a8a8a" stroke-width="1" fill="none"/>
<rect x="559.2" y="838" width="16.8" height="41.5" stroke="#3b8d9c" stroke-width="1" fill="#fff"/>
<path d="M559.2 865.6L576 865.6" stroke="#3b8d9c" stroke-width="1" fill="none"/>
<rect x="585.1" y="842" width="16.8" height="23.6" stroke="#8a8a8a" stroke-width="1" fill="#fff"/>
<path d="M585.1 851.4L601.9 851.4" stroke="#8a8a8a" stroke-width="1" fill="none"/>
<rect x="602.2" y="856.2" width="16.7" height="32.2" stroke="#3b8d9c" stroke-width="1" fill="#fff"/>
<path d="M602.2 859.9L618.9 859.9" stroke="#3b8d9c" stroke-width="1" fill="none"/>
<circle cx="544.08" cy="857.62" r="2.55" fill="#000"/>
<circle cx="550.63" cy="855.06" r="2.55" fill="#000"/>
<circle cx="556.89" cy="858.47" r="2.55" fill="#000"/>
<circle cx="550.63" cy="861.89" r="2.55" fill="#000"/>
<circle cx="550.63" cy="877.54" r="2.55" fill="#000"/>
<rect x="565.21" y="835.48" width="5" height="5" fill="#3b8d9c"/>
<rect x="558.66" y="863.09" width="5" height="5" fill="#3b8d9c"/>
<rect x="571.47" y="861.66" width="5" height="5" fill="#3b8d9c"/>
<rect x="565.21" y="871.06" width="5" height="5" fill="#3b8d9c"/>
<rect x="565.21" y="876.75" width="5" height="5" fill="#3b8d9c"/>
<path d="M590.58 844.57L596.08 844.57L593.33 839.35Z" fill="#000"/>
<path d="M584.89 854.82L590.39 854.82L587.64 849.6Z" fill="#000"/>
<path d="M596.84 853.97L602.34 853.97L599.59 848.74Z" fill="#000"/>
<path d="M584.89 869.05L590.39 869.05L587.64 863.83Z" fill="#000"/>
<path d="M596.84 866.78L602.34 866.78L599.59 861.55Z" fill="#000"/>
<path d="M607.66 853.01L613.16 853.01L610.41 858.24Z" fill="#3b8d9c"/>
<path d="M602.54 858.14L608.04 858.14L605.29 863.36Z" fill="#3b8d9c"/>
<path d="M613.35 858.14L618.85 858.14L616.1 863.36Z" fill="#3b8d9c"/>
<path d="M608.23 861.55L613.73 861.55L610.98 866.78Z" fill="#3b8d9c"/>
<path d="M607.66 886.32L613.16 886.32L610.41 891.54Z" fill="#3b8d9c"/>
<path d="M569.1 816.8L619.5 816.8" stroke="#222" stroke-width="1.5" fill="none"/>
<text x="594.5" y="814.89" font-size="9.4" text-anchor="middle">ns</text>
<path d="M549.2 827.9L599.6 827.9" stroke="#222" stroke-width="1.5" fill="none"/>
<text x="574.8" y="825.99" font-size="9.4" text-anchor="middle">ns</text>
<rect x="627.2" y="815.2" width="10" height="9.7" stroke="none" stroke-width="0" fill="#cbcbcb"/>
<text x="639.2" y="823.38" font-size="9.5" text-anchor="start">Ctrl</text>
<rect x="627.2" y="832.3" width="10" height="9.7" stroke="none" stroke-width="0" fill="#4bada8"/>
<text x="639.2" y="840.48" font-size="9.5" text-anchor="start">HCC-m</text>
<text x="561.2" y="939.23" font-size="9.5" text-anchor="middle">WT</text>
<text x="607.6" y="939.23" font-size="9.5" text-anchor="middle">Jα18<tspan font-size="5.51" dy="-3.42">-/-</tspan></text>
</svg></body></html>
